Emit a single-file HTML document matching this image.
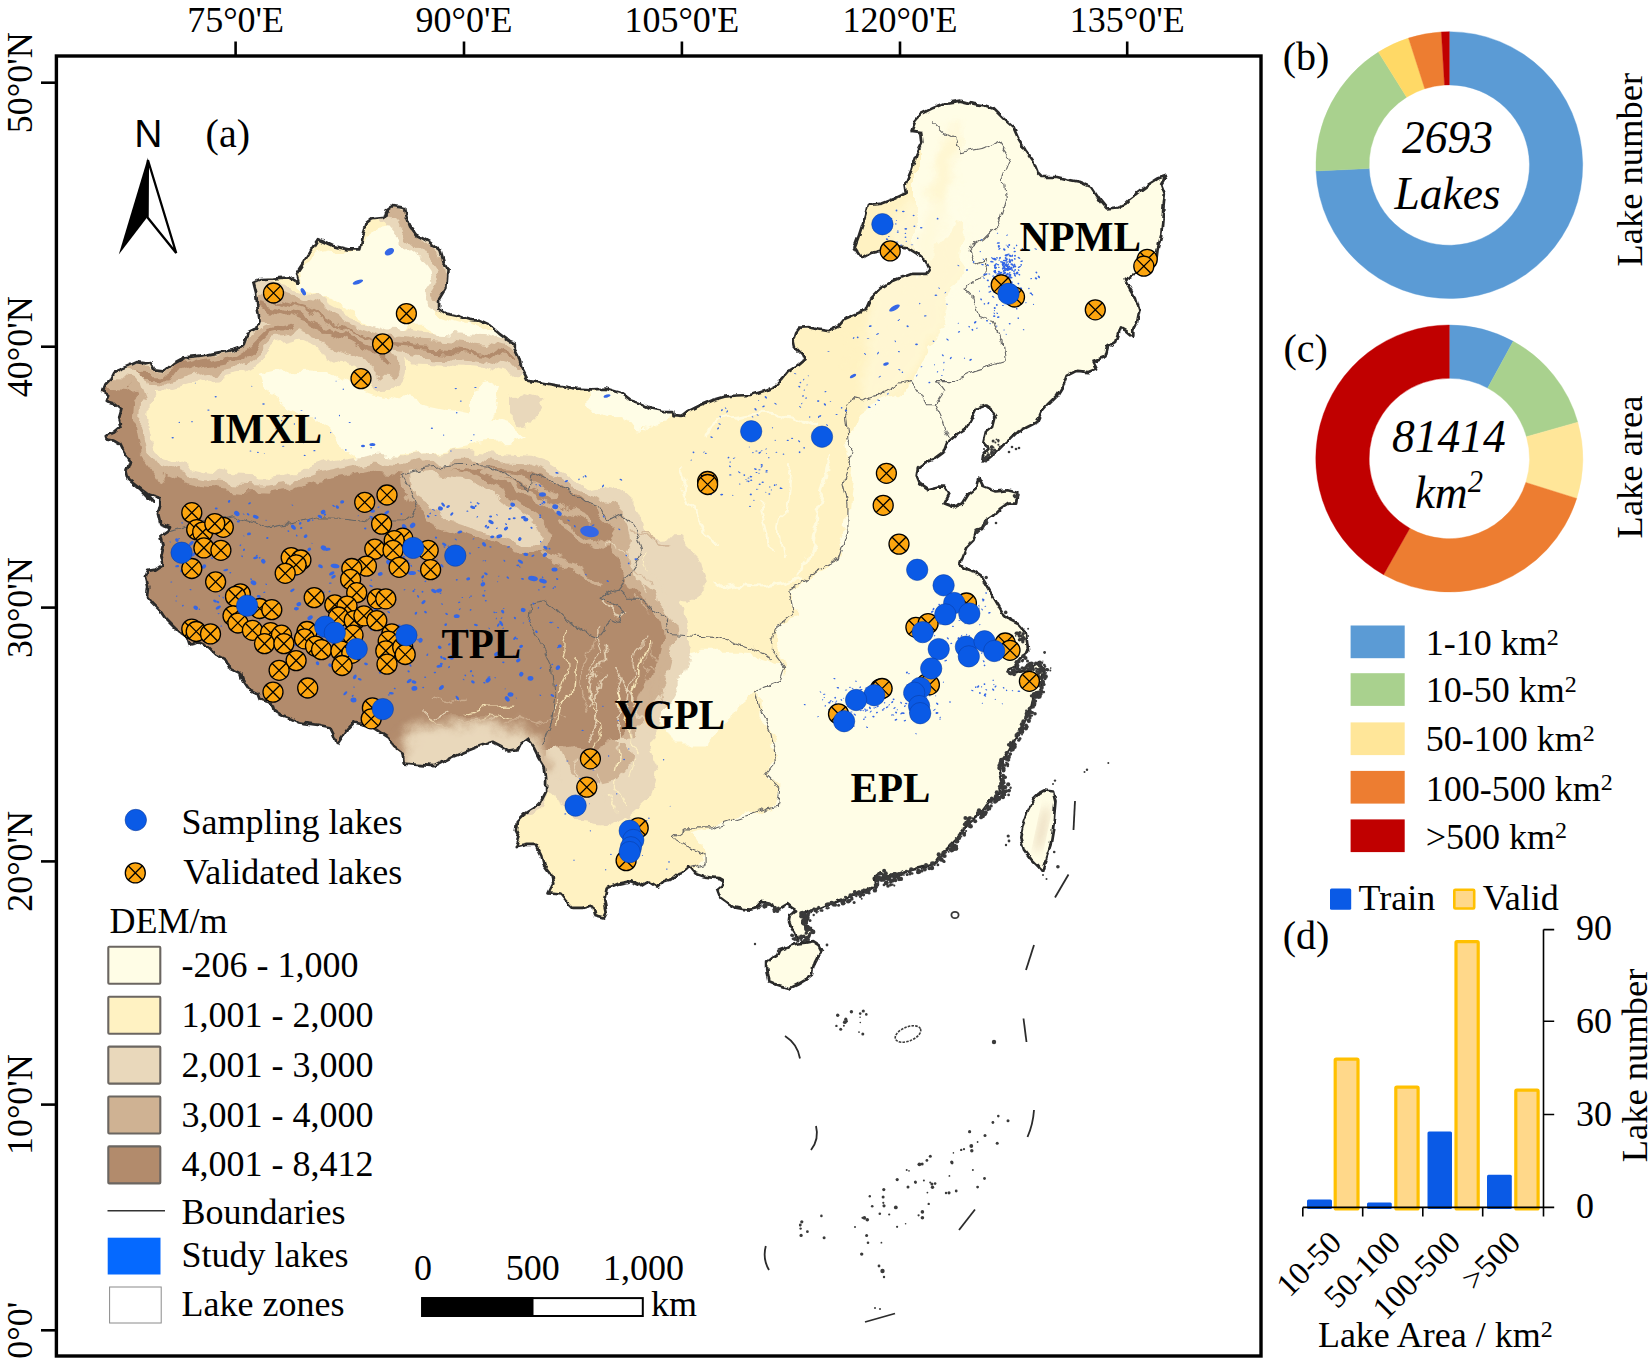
<!DOCTYPE html>
<html><head><meta charset="utf-8"><title>Lake zones of China</title>
<style>html,body{margin:0;padding:0;background:#fff}svg{display:block}</style>
</head><body>
<svg width="1650" height="1362" viewBox="0 0 1650 1362" font-family='"Liberation Serif", "Times New Roman", serif'>
<rect width="1650" height="1362" fill="#fff"/>
<defs><clipPath id="cn"><path d="M153.5,502.7 L142.1,490.6 L128.8,479.7 L126.4,471.2 L130.0,461.5 L123.9,451.8 L120.3,444.5 L114.2,440.9 L107.0,439.7 L105.8,436.1 L114.2,432.4 L121.5,426.4 L119.1,417.9 L121.5,409.4 L114.2,403.3 L105.8,400.9 L108.2,394.8 L102.1,391.2 L104.5,385.2 L110.6,379.1 L114.2,371.8 L128.8,365.8 L137.3,362.1 L145.8,363.3 L150.6,362.1 L154.2,369.4 L165.2,370.6 L173.6,363.3 L184.5,357.3 L196.7,356.1 L206.4,354.8 L218.5,352.4 L233.0,350.0 L242.7,346.4 L247.6,333.0 L257.3,328.2 L259.7,320.9 L257.3,306.4 L256.1,291.8 L253.6,282.1 L259.7,279.2 L274.2,278.5 L288.8,277.3 L298.5,283.3 L296.1,273.6 L303.3,262.7 L310.6,250.6 L317.9,239.2 L332.4,245.8 L347.0,249.4 L360.3,249.4 L362.7,236.1 L366.4,223.9 L372.4,219.1 L384.5,217.9 L387.0,209.4 L391.8,205.8 L405.2,208.2 L406.4,216.7 L410.0,226.4 L416.1,234.8 L429.4,242.1 L440.3,250.6 L443.9,262.7 L447.6,270.0 L446.4,287.0 L439.1,299.1 L439.1,308.8 L446.4,313.6 L458.5,316.1 L470.0,319.8 L479.7,320.8 L489.4,325.2 L499.1,333.6 L508.8,340.9 L514.8,343.3 L514.8,349.4 L518.5,356.7 L522.1,368.8 L528.2,380.9 L542.7,382.8 L559.7,385.8 L576.7,388.7 L591.2,389.4 L605.8,388.7 L620.3,393.0 L630.0,400.3 L639.7,403.2 L651.8,408.8 L663.9,411.2 L673.2,411.2 L673.6,416.1 L681.4,416.8 L688.2,411.2 L700.3,405.2 L712.4,400.3 L724.5,396.7 L736.7,395.5 L751.2,395.0 L765.8,390.6 L775.5,385.8 L782.7,378.5 L787.6,372.4 L797.3,366.4 L804.5,360.3 L802.1,354.2 L794.8,347.0 L793.6,340.9 L796.1,332.4 L799.7,327.6 L809.4,327.1 L819.1,329.5 L828.8,331.2 L838.5,326.4 L844.5,319.1 L855.5,314.2 L865.2,310.1 L870.3,298.2 L880.0,288.5 L889.7,282.4 L901.8,277.6 L911.5,273.9 L926.1,273.9 L929.7,269.1 L926.1,261.8 L916.4,253.3 L906.7,247.3 L897.0,246.1 L880.0,250.9 L870.3,253.3 L861.8,258.2 L854.5,247.3 L858.2,237.6 L863.0,223.0 L867.9,204.8 L882.4,203.6 L894.5,198.8 L906.7,192.7 L905.5,184.2 L911.5,169.7 L916.4,155.2 L922.4,143.0 L921.2,132.1 L911.5,130.9 L915.2,121.2 L921.2,113.9 L933.3,107.9 L945.5,103.0 L960.0,100.6 L974.5,104.2 L984.2,105.5 L993.9,109.1 L1003.6,118.8 L1013.3,127.3 L1018.2,138.2 L1025.5,150.3 L1032.7,160.0 L1037.6,172.1 L1042.4,177.0 L1057.0,177.0 L1066.7,179.4 L1078.8,181.8 L1090.9,186.7 L1095.8,193.9 L1100.6,201.2 L1106.7,208.5 L1117.6,207.3 L1124.8,203.6 L1129.7,198.8 L1139.4,191.5 L1149.1,184.2 L1158.8,178.2 L1166.1,175.8 L1161.2,184.2 L1164.8,193.9 L1163.6,206.1 L1162.4,220.6 L1161.2,235.2 L1157.6,249.7 L1156.4,259.4 L1149.1,271.5 L1134.5,273.9 L1124.8,278.8 L1129.7,288.5 L1135.8,298.2 L1139.4,310.3 L1137.0,322.4 L1133.3,329.7 L1133.3,337.0 L1126.1,330.9 L1120.0,327.3 L1117.6,334.5 L1115.2,341.8 L1107.9,346.7 L1105.5,356.4 L1093.3,361.2 L1097.0,368.5 L1088.5,372.1 L1076.4,370.9 L1066.7,375.8 L1063.0,385.5 L1057.0,395.2 L1047.3,404.8 L1041.5,411.5 L1036.7,422.4 L1027.0,427.3 L1017.3,432.1 L1010.0,439.4 L1002.7,445.5 L995.5,452.7 L988.2,458.8 L982.1,462.4 L983.3,453.9 L988.2,447.9 L983.3,443.0 L985.8,432.1 L993.0,426.1 L995.5,416.4 L990.6,409.1 L985.8,405.5 L976.1,409.1 L971.2,418.8 L966.4,428.5 L956.7,434.5 L947.0,443.0 L943.3,452.7 L934.8,458.8 L925.2,462.4 L917.9,467.3 L916.7,475.8 L920.3,484.2 L927.6,489.1 L937.3,486.7 L944.5,486.7 L949.4,493.9 L944.5,503.6 L954.2,507.3 L962.7,503.6 L968.8,493.9 L976.1,487.9 L978.5,477.0 L983.3,486.7 L995.5,491.5 L1007.6,490.3 L1017.3,492.7 L1016.1,503.6 L1007.6,503.6 L1000.3,508.5 L993.0,515.8 L985.8,520.6 L982.1,527.9 L976.1,530.3 L973.6,540.0 L966.4,547.3 L962.7,557.0 L960.3,564.2 L966.4,569.1 L973.6,571.5 L980.9,576.4 L988.2,588.5 L995.5,600.6 L1002.7,612.7 L1010.0,620.0 L1019.7,624.8 L1025.8,632.1 L1027.0,641.8 L1028.2,651.5 L1019.7,658.8 L1014.8,667.3 L1007.6,669.7 L1010.0,674.5 L1019.7,670.9 L1029.4,668.5 L1036.7,663.6 L1043.9,668.5 L1041.5,678.2 L1041.5,687.9 L1036.7,697.6 L1033.6,697.0 L1031.2,706.7 L1026.4,716.4 L1021.5,728.5 L1014.2,740.6 L1009.4,750.3 L1002.1,760.0 L999.7,769.7 L1002.1,781.8 L999.7,791.5 L990.0,801.2 L982.7,810.9 L970.6,820.6 L963.3,830.3 L956.1,840.0 L948.8,847.3 L941.5,854.5 L936.7,861.8 L924.5,866.7 L914.8,869.1 L905.2,871.5 L895.5,876.4 L892.1,874.2 L885.8,877.3 L879.5,873.4 L874.8,877.3 L876.4,885.2 L868.5,889.2 L860.6,891.5 L851.2,894.7 L844.9,898.6 L837.0,901.8 L829.1,904.1 L821.2,907.3 L813.3,910.4 L811.0,912.8 L805.5,910.4 L800.7,913.6 L803.9,916.7 L802.3,923.0 L807.0,926.2 L811.0,930.9 L810.2,935.6 L803.9,937.2 L796.8,939.6 L795.2,934.1 L791.3,927.8 L788.9,921.5 L789.7,915.2 L796.0,910.4 L791.3,907.3 L787.3,904.1 L783.4,906.5 L777.1,910.4 L773.9,907.3 L767.6,903.3 L762.1,901.8 L756.6,908.1 L750.3,909.6 L742.4,908.8 L734.5,907.3 L726.7,902.5 L720.4,897.8 L717.2,889.2 L721.9,885.2 L722.7,880.5 L718.8,878.1 L710.9,877.3 L703.0,876.5 L694.4,873.4 L688.8,866.6 L682.5,871.8 L677.8,873.4 L671.5,878.9 L663.6,881.3 L657.3,887.6 L651.0,883.6 L646.3,881.3 L640.0,885.2 L630.9,881.2 L618.8,883.6 L606.7,888.5 L604.2,900.6 L606.7,912.7 L604.2,917.6 L594.5,915.2 L592.1,905.5 L582.4,907.9 L572.7,907.9 L565.5,900.6 L560.6,894.5 L548.5,893.3 L553.3,883.6 L550.9,873.9 L543.6,864.2 L541.2,854.5 L536.4,844.8 L526.7,844.8 L515.8,847.3 L519.4,837.6 L515.8,830.3 L517.0,821.8 L524.2,814.5 L533.9,808.5 L541.2,801.2 L546.1,791.5 L546.1,779.4 L544.8,767.3 L538.8,757.6 L533.9,747.9 L526.7,738.2 L520.6,743.0 L517.0,750.3 L509.7,751.5 L500.0,745.5 L492.7,741.8 L477.9,746.7 L465.8,751.5 L453.6,756.4 L441.5,762.4 L434.2,766.1 L417.3,764.8 L403.9,763.6 L402.7,753.9 L393.0,746.7 L388.2,737.0 L380.9,732.1 L373.6,727.3 L363.9,724.8 L354.2,722.4 L347.0,729.7 L342.1,737.0 L337.3,744.2 L333.6,734.5 L330.0,727.3 L317.9,724.8 L308.2,723.6 L298.5,722.4 L288.8,717.6 L281.5,715.2 L274.2,710.3 L271.8,703.0 L259.7,699.4 L257.3,693.3 L247.6,688.5 L242.7,681.2 L240.3,673.9 L230.6,669.1 L225.8,659.4 L216.1,654.5 L208.8,647.3 L199.1,642.4 L189.4,644.8 L187.0,637.6 L179.7,632.7 L172.4,625.5 L165.2,618.2 L160.3,610.9 L153.0,603.6 L147.0,596.4 L148.2,586.7 L145.8,577.0 L148.2,570.9 L155.5,569.7 L162.7,564.8 L160.3,555.2 L162.7,545.5 L160.3,537.0 L167.6,532.1 L170.0,527.3 L160.3,523.6 L157.9,513.9 L160.3,504.2 L160.3,498.2 L148.2,494.5 L138.5,487.3 Z M766.1,962.4 L770.8,958.5 L777.1,954.5 L778.7,950.6 L785.0,948.2 L791.3,945.1 L797.6,943.5 L805.5,942.7 L813.3,941.2 L819.6,945.1 L822.8,951.4 L818.1,956.1 L814.9,962.4 L812.5,970.3 L811.8,975.0 L805.5,979.8 L797.6,984.5 L789.7,988.4 L781.8,986.1 L773.9,983.7 L768.4,981.3 L766.9,973.5 L766.1,967.2 Z M1044.5,790.3 L1053.0,791.5 L1055.5,801.2 L1054.2,815.8 L1053.0,830.3 L1050.6,844.8 L1045.8,859.4 L1042.1,871.5 L1038.5,866.7 L1031.2,859.4 L1023.9,849.7 L1020.3,837.6 L1022.7,825.5 L1027.6,810.9 L1033.6,798.8 L1039.7,792.7 Z"/></clipPath></defs>
<g clip-path="url(#cn)">
<rect x="56" y="56" width="1206" height="1300" fill="#FFFDE6"/>
<defs><filter id="b1" x="-5%" y="-5%" width="110%" height="110%"><feGaussianBlur stdDeviation="1.2"/></filter><filter id="b3" x="-10%" y="-10%" width="120%" height="120%"><feGaussianBlur stdDeviation="4"/></filter><filter id="rough" filterUnits="userSpaceOnUse" x="50" y="50" width="1220" height="1000"><feTurbulence type="fractalNoise" baseFrequency="0.035" numOctaves="4" seed="7" result="n"/><feDisplacementMap in="SourceGraphic" in2="n" scale="22" xChannelSelector="R" yChannelSelector="G"/></filter></defs>
<g filter="url(#rough)">
<path d="M916.0,274.0 L944.8,240.0 L952.0,226.0 L962.0,228.0 L960.0,262.0 L949.7,298.2 L937.6,332.1 L925.5,361.2 L913.3,380.6 L896.4,390.3 L877.0,400.0 L858.0,414.5 L850.0,438.8 L853.0,467.9 L849.0,501.8 L846.0,535.8 L838.2,560.0 L813.9,574.5 L794.5,586.7 L792.0,603.6 L799.0,620.0 L778.0,626.7 L777.0,648.5 L788.5,672.7 L760.0,690.0 L759.4,716.4 L771.5,735.8 L776.4,760.0 L764.2,774.5 L778.8,789.1 L774.0,806.1 L740.0,818.2 L710.9,827.9 L690.0,835.0 L700.0,852.0 L704.0,864.2 L689.1,872.0 L680.0,900.0 L600.0,960.0 L60.0,960.0 L60.0,100.0 L916.0,100.0 Z" fill="#FFF2C2" />
<path d="M955.0,138.0 L945.5,160.0 L940.6,189.0 L935.8,215.8 L928.5,249.7 L926.0,274.0 L916.4,298.2 L904.2,322.4 L880.0,341.8 L850.0,350.0" fill="none" stroke="#FFF2C2" stroke-width="20" stroke-linecap="round" stroke-linejoin="round" opacity="0.55" filter="url(#b3)"/>
<path d="M866,418 L885,395 L915,372 L940,330 L965,270 L975,200 L900,200 L870,290 L862,370 Z" fill="#FFFDE6" opacity="0.45" filter="url(#b3)"/>
<path d="M259.7,376.7 L283.9,371.8 L308.2,370.6 L332.4,371.8 L347.0,381.5 L368.8,391.2 L393.0,396.1 L417.3,403.3 L441.5,408.2 L465.8,413.5 L490.0,418.3 L510.0,424.0 L522.0,434.0 L505.0,441.0 L490.0,442.1 L453.6,449.4 L417.3,454.2 L380.9,456.7 L356.7,459.1 L344.5,451.8 L332.4,432.4 L308.2,413.0 L283.9,403.3 L264.5,393.6 Z" fill="#FFFDE6" />
<path d="M300.9,270.0 L315.5,253.0 L332.4,249.4 L360.3,253.0 L366.4,238.5 L380.9,228.8 L402.7,226.4 L414.8,240.9 L434.2,255.5 L441.5,272.4 L439.1,294.2 L429.4,306.4 L439.1,316.1 L453.6,320.9 L477.9,328.2 L500.0,337.0 L520.0,350.0 L540.0,372.0 L520.0,372.0 L490.0,347.2 L465.8,345.2 L441.5,335.5 L424.5,325.8 L405.2,325.8 L393.0,335.5 L376.1,325.8 L356.7,311.2 L332.4,299.1 L315.5,296.7 L303.3,287.0 Z" fill="#FFFDE6" />
<path d="M586.0,392.0 L610.0,388.0 L640.0,394.0 L664.0,405.0 L672.0,420.0 L650.0,428.0 L620.0,424.0 L598.0,414.0 L584.0,404.0 Z" fill="#FFFDE6" />
<path d="M470.0,388.0 L486.0,384.0 L501.0,392.0 L498.0,410.0 L482.0,420.0 L470.0,414.0 Z" fill="#FFFDE6" />
<path d="M660.6,667.9 L680.0,658.0 L703.0,652.7 L748.5,652.7 L781.8,664.8 L787.9,683.0 L763.6,689.0 L754.5,698.0 L733.0,707.0 L721.0,728.5 L703.0,743.6 L672.7,743.6 L657.6,713.3 L651.5,689.0 Z" fill="#FFFDE6" />
<path d="M510.0,398.0 L525.0,393.0 L542.0,398.0 L545.0,410.0 L536.0,420.0 L520.0,424.0 L510.0,415.0 Z" fill="#E9D8BB" />
<path d="M259.7,303.9 L283.9,311.2 L308.2,319.7 L332.4,330.6 L351.8,340.3 L368.8,350.0 L380.9,359.7 L388.2,367.0" fill="none" stroke="#E9D8BB" stroke-width="42" stroke-linecap="round" stroke-linejoin="round" />
<path d="M279.1,299.1 L308.2,308.8 L344.5,328.2 L380.9,341.5 L417.3,346.4 L453.6,348.8 L482.7,351.2 L514.2,359.7" fill="none" stroke="#E9D8BB" stroke-width="30" stroke-linecap="round" stroke-linejoin="round" />
<path d="M123.9,374.2 L162.7,375.5 L199.1,364.5 L235.5,357.3 L254.8,345.2 L269.4,330.6 L288.8,325.8" fill="none" stroke="#E9D8BB" stroke-width="32" stroke-linecap="round" stroke-linejoin="round" />
<path d="M116.7,374.2 L111.8,391.2 L119.1,403.3 L126.4,417.9 L119.1,434.8 L128.8,447.0 L133.6,463.9 L136.1,480.9" fill="none" stroke="#E9D8BB" stroke-width="50" stroke-linecap="round" stroke-linejoin="round" />
<path d="M393.0,211.8 L410.0,231.2 L429.4,247.0 L440.3,262.7 L442.7,282.1 L436.7,299.1" fill="none" stroke="#E9D8BB" stroke-width="24" stroke-linecap="round" stroke-linejoin="round" />
<path d="M259.7,303.9 L283.9,311.2 L308.2,319.7 L332.4,330.6 L351.8,340.3 L368.8,350.0 L380.9,359.7 L388.2,367.0" fill="none" stroke="#CFB293" stroke-width="24" stroke-linecap="round" stroke-linejoin="round" />
<path d="M279.1,299.1 L308.2,308.8 L344.5,328.2 L380.9,341.5 L417.3,346.4 L453.6,348.8 L482.7,351.2 L514.2,359.7" fill="none" stroke="#CFB293" stroke-width="16" stroke-linecap="round" stroke-linejoin="round" />
<path d="M123.9,374.2 L162.7,375.5 L199.1,364.5 L235.5,357.3 L254.8,345.2 L269.4,330.6 L288.8,325.8" fill="none" stroke="#CFB293" stroke-width="18" stroke-linecap="round" stroke-linejoin="round" />
<path d="M116.7,374.2 L111.8,391.2 L119.1,403.3 L126.4,417.9 L119.1,434.8 L128.8,447.0 L133.6,463.9 L136.1,480.9" fill="none" stroke="#CFB293" stroke-width="34" stroke-linecap="round" stroke-linejoin="round" />
<path d="M393.0,211.8 L410.0,231.2 L429.4,247.0 L440.3,262.7 L442.7,282.1 L436.7,299.1" fill="none" stroke="#CFB293" stroke-width="10" stroke-linecap="round" stroke-linejoin="round" />
<path d="M259.7,303.9 L283.9,311.2 L308.2,319.7 L332.4,330.6 L351.8,340.3 L368.8,350.0 L380.9,359.7 L388.2,367.0" fill="none" stroke="#B28B6C" stroke-width="5" stroke-linecap="round" stroke-linejoin="round" />
<path d="M279.1,299.1 L308.2,308.8 L344.5,328.2 L380.9,341.5 L417.3,346.4 L453.6,348.8 L482.7,351.2 L514.2,359.7" fill="none" stroke="#B28B6C" stroke-width="3" stroke-linecap="round" stroke-linejoin="round" />
<path d="M123.9,374.2 L162.7,375.5 L199.1,364.5 L235.5,357.3 L254.8,345.2 L269.4,330.6 L288.8,325.8" fill="none" stroke="#B28B6C" stroke-width="6" stroke-linecap="round" stroke-linejoin="round" />
<path d="M116.7,374.2 L111.8,391.2 L119.1,403.3 L126.4,417.9 L119.1,434.8 L128.8,447.0 L133.6,463.9 L136.1,480.9" fill="none" stroke="#B28B6C" stroke-width="16" stroke-linecap="round" stroke-linejoin="round" />
<path d="M603.9,517.5 L615.0,528.0 L618.0,540.0 L613.0,552.0 L618.0,568.0 L624.0,586.0 L639.0,598.0 L655.0,610.0 L662.0,622.0 L664.0,640.0 L658.0,665.0 L648.0,683.0 L640.0,695.0 L634.0,713.0 L626.0,730.0 L612.0,742.0 L596.0,748.0 L578.0,746.0 L560.0,750.0" fill="none" stroke="#E9D8BB" stroke-width="54" stroke-linecap="round" stroke-linejoin="round" />
<path d="M100.0,384.0 L131.0,386.0 L137.0,402.2 L135.0,428.0 L140.0,453.9 L152.8,472.4 L175.0,481.7 L200.9,488.0 L230.5,490.9 L263.8,492.8 L293.3,489.0 L319.2,479.8 L348.8,474.3 L378.4,468.7 L404.2,471.7 L422.7,468.7 L459.7,465.8 L496.7,468.7 L526.2,470.6 L544.7,476.9 L566.9,490.9 L585.4,505.7 L603.9,517.5 L615.0,528.0 L618.0,540.0 L613.0,552.0 L618.0,568.0 L624.0,586.0 L639.0,598.0 L655.0,610.0 L662.0,622.0 L664.0,640.0 L658.0,665.0 L648.0,683.0 L640.0,695.0 L634.0,713.0 L626.0,730.0 L612.0,742.0 L596.0,748.0 L578.0,746.0 L560.0,750.0 L538.0,750.0 L530.0,800.0 L80.0,815.0 L80.0,384.0 Z" fill="#E9D8BB" stroke="#E9D8BB" stroke-width="30" stroke-linejoin="round"/>
<path d="M603.9,517.5 L615.0,528.0 L618.0,540.0 L613.0,552.0 L618.0,568.0 L624.0,586.0 L639.0,598.0 L655.0,610.0 L662.0,622.0 L664.0,640.0 L658.0,665.0 L648.0,683.0 L640.0,695.0 L634.0,713.0 L626.0,730.0 L612.0,742.0 L596.0,748.0 L578.0,746.0 L560.0,750.0" fill="none" stroke="#CFB293" stroke-width="26" stroke-linecap="round" stroke-linejoin="round" />
<path d="M100.0,384.0 L131.0,386.0 L137.0,402.2 L135.0,428.0 L140.0,453.9 L152.8,472.4 L175.0,481.7 L200.9,488.0 L230.5,490.9 L263.8,492.8 L293.3,489.0 L319.2,479.8 L348.8,474.3 L378.4,468.7 L404.2,471.7 L422.7,468.7 L459.7,465.8 L496.7,468.7 L526.2,470.6 L544.7,476.9 L566.9,490.9 L585.4,505.7 L603.9,517.5 L615.0,528.0 L618.0,540.0 L613.0,552.0 L618.0,568.0 L624.0,586.0 L639.0,598.0 L655.0,610.0 L662.0,622.0 L664.0,640.0 L658.0,665.0 L648.0,683.0 L640.0,695.0 L634.0,713.0 L626.0,730.0 L612.0,742.0 L596.0,748.0 L578.0,746.0 L560.0,750.0 L538.0,750.0 L530.0,800.0 L80.0,815.0 L80.0,384.0 Z" fill="#CFB293" stroke="#CFB293" stroke-width="14" stroke-linejoin="round"/>
<path d="M550.0,740.0 L644.0,736.0 L656.0,770.0 L650.0,797.0 L630.0,815.0 L605.0,825.0 L583.0,822.0 L563.0,805.0 L540.0,790.0 Z" fill="#E9D8BB" />
<path d="M562.0,745.0 L624.0,743.0 L632.0,762.0 L618.0,780.0 L592.0,786.0 L570.0,772.0 Z" fill="#CFB293" />
<path d="M100.0,384.0 L131.0,386.0 L137.0,402.2 L135.0,428.0 L140.0,453.9 L152.8,472.4 L175.0,481.7 L200.9,488.0 L230.5,490.9 L263.8,492.8 L293.3,489.0 L319.2,479.8 L348.8,474.3 L378.4,468.7 L404.2,471.7 L422.7,468.7 L459.7,465.8 L496.7,468.7 L526.2,470.6 L544.7,476.9 L566.9,490.9 L585.4,505.7 L603.9,517.5 L615.0,528.0 L618.0,540.0 L613.0,552.0 L618.0,568.0 L624.0,586.0 L639.0,598.0 L655.0,610.0 L662.0,622.0 L664.0,640.0 L658.0,665.0 L648.0,683.0 L640.0,695.0 L634.0,713.0 L626.0,730.0 L612.0,742.0 L596.0,748.0 L578.0,746.0 L560.0,750.0 L538.0,750.0 L530.0,800.0 L80.0,815.0 L80.0,384.0 Z" fill="#B28B6C" />
<path d="M409.0,474.0 L430.0,471.0 L460.6,476.0 L480.0,486.0 L500.0,500.0 L520.0,514.0 L536.0,525.5 L543.0,538.0 L538.0,545.0 L521.0,543.6 L505.0,538.0 L491.0,531.5 L468.0,524.0 L445.5,516.4 L428.0,509.0 L415.0,501.0 L410.0,488.0 Z" fill="#CFB293" stroke="#CFB293" stroke-width="16" stroke-linejoin="round"/>
<path d="M409.0,474.0 L430.0,471.0 L460.6,476.0 L480.0,486.0 L500.0,500.0 L520.0,514.0 L536.0,525.5 L543.0,538.0 L538.0,545.0 L521.0,543.6 L505.0,538.0 L491.0,531.5 L468.0,524.0 L445.5,516.4 L428.0,509.0 L415.0,501.0 L410.0,488.0 Z" fill="#E9D8BB" />
<path d="M500.0,478.0 L530.0,492.0 L560.0,508.0 L590.0,522.0" fill="none" stroke="#CFB293" stroke-width="5" stroke-linecap="round" stroke-linejoin="round" />
<path d="M480.0,470.0 L520.0,478.0 L555.0,494.0" fill="none" stroke="#CFB293" stroke-width="5" stroke-linecap="round" stroke-linejoin="round" />
<path d="M560.0,520.0 L590.0,540.0 L610.0,548.0" fill="none" stroke="#CFB293" stroke-width="5" stroke-linecap="round" stroke-linejoin="round" />
<path d="M540.0,556.0 L570.0,566.0 L600.0,585.0" fill="none" stroke="#CFB293" stroke-width="5" stroke-linecap="round" stroke-linejoin="round" />
<path d="M640.0,540.0 L680.0,538.0 L700.0,558.0 L706.0,590.0 L690.0,602.0 L668.0,598.0 L655.0,600.0 Z" fill="#E9D8BB" />
<path d="M830.0,455.0 L826.0,480.0 L820.0,505.0 L812.0,530.0 L806.0,555.0 L800.0,572.0" fill="none" stroke="#FFFDE6" stroke-width="3" stroke-linecap="round" stroke-linejoin="round" opacity="0.8"/>
<path d="M806.0,575.0 L785.0,580.0 L760.0,584.0 L735.0,582.0 L715.0,586.0" fill="none" stroke="#FFFDE6" stroke-width="3" stroke-linecap="round" stroke-linejoin="round" opacity="0.8"/>
<path d="M790.0,470.0 L786.0,500.0 L782.0,530.0 L786.0,560.0" fill="none" stroke="#FFFDE6" stroke-width="2" stroke-linecap="round" stroke-linejoin="round" opacity="0.8"/>
<path d="M700.0,430.0 L725.0,418.0 L755.0,412.0 L790.0,416.0 L815.0,425.0" fill="none" stroke="#FFFDE6" stroke-width="3" stroke-linecap="round" stroke-linejoin="round" opacity="0.8"/>
<path d="M760.0,500.0 L764.0,525.0 L770.0,550.0" fill="none" stroke="#FFFDE6" stroke-width="2" stroke-linecap="round" stroke-linejoin="round" opacity="0.8"/>
<path d="M680.0,470.0 L690.0,495.0 L700.0,520.0 L715.0,545.0" fill="none" stroke="#FFFDE6" stroke-width="2" stroke-linecap="round" stroke-linejoin="round" opacity="0.8"/>
<path d="M619.2,676.8 L615.8,684.0 L616.6,692.0 L618.9,699.7 L620.4,707.5 L620.2,715.5 L616.2,722.4 L615.9,730.4 L617.9,738.2 L618.6,746.2 L615.6,753.6" fill="none" stroke="#E9D8BB" stroke-width="1.840348120522668" stroke-linecap="round" stroke-linejoin="round" opacity="0.85"/>
<path d="M598.8,626.4 L596.3,634.0 L597.8,641.9 L600.2,649.5 L595.9,656.3 L596.7,664.2 L597.4,672.2 L592.4,678.4" fill="none" stroke="#E9D8BB" stroke-width="1.1387674183989032" stroke-linecap="round" stroke-linejoin="round" opacity="0.85"/>
<path d="M642.9,636.0 L637.7,642.1 L638.2,650.1 L633.0,656.2 L632.0,664.1 L633.8,671.9 L632.6,679.8 L627.6,686.0 L627.5,694.0" fill="none" stroke="#E9D8BB" stroke-width="1.1816686685456037" stroke-linecap="round" stroke-linejoin="round" opacity="0.85"/>
<path d="M591.5,683.6 L592.3,691.5 L593.5,699.4 L591.6,707.2 L593.7,714.9 L593.6,722.9 L595.8,730.6 L597.4,738.4 L593.6,745.5" fill="none" stroke="#FFF2C2" stroke-width="1.0660224505510771" stroke-linecap="round" stroke-linejoin="round" opacity="0.85"/>
<path d="M650.2,642.2 L649.9,650.2 L654.1,657.0 L657.9,664.0 L660.8,671.5 L657.7,678.9 L660.4,686.4 L658.8,694.2 L655.8,701.6" fill="none" stroke="#CFB293" stroke-width="1.3661844758418606" stroke-linecap="round" stroke-linejoin="round" opacity="0.85"/>
<path d="M649.5,641.0 L648.1,648.9 L646.4,656.7 L644.1,664.4 L648.2,671.2 L645.3,678.7 L649.1,685.8 L650.9,693.5 L650.7,701.5" fill="none" stroke="#CFB293" stroke-width="1.1080528690648328" stroke-linecap="round" stroke-linejoin="round" opacity="0.85"/>
<path d="M647.2,640.6 L647.0,648.6 L643.0,655.5 L640.3,663.1 L636.8,670.3 L636.6,678.3 L635.0,686.1 L631.5,693.3 L633.1,701.2" fill="none" stroke="#FFF2C2" stroke-width="1.6859658309578895" stroke-linecap="round" stroke-linejoin="round" opacity="0.85"/>
<path d="M617.1,693.1 L619.3,700.8 L621.9,708.4 L627.0,714.5 L625.6,722.4 L630.8,728.5 L632.8,736.2 L632.1,744.2 L636.7,750.7 L636.8,758.7" fill="none" stroke="#FFF2C2" stroke-width="1.8262955117986266" stroke-linecap="round" stroke-linejoin="round" opacity="0.85"/>
<path d="M650.2,666.7 L652.5,674.4 L652.0,682.4 L653.6,690.2 L649.3,696.9 L647.1,704.6" fill="none" stroke="#CFB293" stroke-width="1.3729976277742186" stroke-linecap="round" stroke-linejoin="round" opacity="0.85"/>
<path d="M576.1,657.0 L575.8,665.0 L574.7,672.9 L575.6,680.9 L574.6,688.8 L569.3,694.8 L564.1,700.9 L561.3,708.3 L559.4,716.1 L558.7,724.1" fill="none" stroke="#FFF2C2" stroke-width="1.4790424501451516" stroke-linecap="round" stroke-linejoin="round" opacity="0.85"/>
<path d="M568.5,634.5 L565.0,641.7 L565.0,649.7 L563.1,657.5 L565.7,665.1 L566.0,673.1 L564.4,680.9 L561.9,688.5 L558.2,695.6 L558.9,703.6 L554.2,710.1" fill="none" stroke="#FFF2C2" stroke-width="1.0631087927968992" stroke-linecap="round" stroke-linejoin="round" opacity="0.85"/>
<path d="M628.0,696.1 L626.5,704.0 L628.5,711.7 L631.0,719.3 L633.3,727.0 L634.0,735.0 L633.3,742.9" fill="none" stroke="#E9D8BB" stroke-width="1.474303845666281" stroke-linecap="round" stroke-linejoin="round" opacity="0.85"/>
<path d="M593.9,634.6 L591.8,642.4 L589.5,650.0 L588.7,658.0 L585.6,665.4 L582.6,672.8 L583.1,680.8 L583.6,688.8 L586.8,696.1 L584.8,703.9 L582.0,711.4" fill="none" stroke="#CFB293" stroke-width="1.350045151429871" stroke-linecap="round" stroke-linejoin="round" opacity="0.85"/>
<path d="M605.3,672.2 L601.1,679.0 L600.1,687.0 L595.9,693.8 L596.6,701.8 L595.2,709.6 L591.5,716.7 L592.4,724.7 L587.8,731.2 L589.3,739.1" fill="none" stroke="#E9D8BB" stroke-width="1.6167804507938892" stroke-linecap="round" stroke-linejoin="round" opacity="0.85"/>
<path d="M615.7,666.2 L620.4,672.7 L621.9,680.5 L625.4,687.7 L630.0,694.3 L634.0,701.2 L636.8,708.7 L640.5,715.8 L644.2,722.9 L648.9,729.3" fill="none" stroke="#E9D8BB" stroke-width="1.6308651620035048" stroke-linecap="round" stroke-linejoin="round" opacity="0.85"/>
<path d="M604.2,644.2 L604.7,652.2 L605.5,660.2 L601.6,667.2 L598.3,674.5 L595.0,681.8 L593.1,689.5 L592.2,697.5 L588.2,704.4" fill="none" stroke="#E9D8BB" stroke-width="1.718015230470764" stroke-linecap="round" stroke-linejoin="round" opacity="0.85"/>
<path d="M466.0,712.1 L473.8,710.4 L481.1,707.1 L489.0,706.0 L497.0,706.0 L505.0,705.9 L513.0,705.2" fill="none" stroke="#FFF2C2" stroke-width="1.2345534560579092" stroke-linecap="round" stroke-linejoin="round" opacity="0.85"/>
<path d="M418.8,715.3 L426.8,714.7 L433.9,718.3 L441.2,715.0 L448.8,712.4" fill="none" stroke="#E9D8BB" stroke-width="1.486887914483733" stroke-linecap="round" stroke-linejoin="round" opacity="0.85"/>
<path d="M467.9,724.6 L475.7,722.8 L482.9,719.4 L490.4,716.5 L498.0,718.9 L505.7,716.7 L513.3,719.0" fill="none" stroke="#FFF2C2" stroke-width="1.300678643162256" stroke-linecap="round" stroke-linejoin="round" opacity="0.85"/>
<path d="M509.6,723.8 L516.4,719.6 L523.9,722.4 L531.6,720.3 L539.1,723.0 L546.4,719.6 L553.2,715.4 L561.1,716.0 L568.6,719.0" fill="none" stroke="#CFB293" stroke-width="1.200854625794242" stroke-linecap="round" stroke-linejoin="round" opacity="0.85"/>
<path d="M429.5,701.6 L436.9,698.5 L444.6,700.7 L452.5,701.6 L459.8,698.3 L467.2,695.2" fill="none" stroke="#CFB293" stroke-width="1.4260517213363373" stroke-linecap="round" stroke-linejoin="round" opacity="0.85"/>
<path d="M418.6,739.6 L426.2,742.0 L433.8,744.5 L441.3,747.2 L448.2,743.0 L455.5,739.7 L463.2,737.5" fill="none" stroke="#CFB293" stroke-width="1.41457524683998" stroke-linecap="round" stroke-linejoin="round" opacity="0.85"/>
<path d="M485.0,724.5 L492.0,728.3 L499.6,731.0 L507.4,729.3" fill="none" stroke="#CFB293" stroke-width="1.288831506262788" stroke-linecap="round" stroke-linejoin="round" opacity="0.85"/>
<path d="M430.3,718.2 L437.9,720.6 L444.1,725.7 L451.2,729.4 L458.0,733.7 L463.4,739.6 L470.3,743.6 L476.2,749.0 L482.2,754.2" fill="none" stroke="#FFF2C2" stroke-width="1.1529434443388016" stroke-linecap="round" stroke-linejoin="round" opacity="0.85"/>
<path d="M457.1,727.3 L464.9,725.8 L471.6,730.1 L478.9,733.5 L486.8,734.9 L494.8,735.1 L501.7,739.1 L508.1,743.9 L516.0,743.0" fill="none" stroke="#CFB293" stroke-width="1.664018832195978" stroke-linecap="round" stroke-linejoin="round" opacity="0.85"/>
<path d="M457.4,722.0 L465.3,723.0 L472.8,720.1 L480.4,722.6 L488.3,721.4 L495.9,718.9" fill="none" stroke="#E9D8BB" stroke-width="1.3404486035457386" stroke-linecap="round" stroke-linejoin="round" opacity="0.85"/>
<path d="M603.1,596.0 L608.5,601.9 L616.3,603.4 L620.8,610.1 L628.3,612.9" fill="none" stroke="#E9D8BB" stroke-width="1.9983344778810317" stroke-linecap="round" stroke-linejoin="round" opacity="0.85"/>
<path d="M632.3,596.7 L637.2,603.0 L643.6,607.8 L649.9,612.7" fill="none" stroke="#CFB293" stroke-width="1.7057739192098218" stroke-linecap="round" stroke-linejoin="round" opacity="0.85"/>
<path d="M640.1,534.7 L647.7,537.2 L654.3,541.7 L662.2,543.0 L669.4,546.3" fill="none" stroke="#CFB293" stroke-width="1.7455260684490497" stroke-linecap="round" stroke-linejoin="round" opacity="0.85"/>
<path d="M631.2,530.7 L636.4,536.8 L644.0,539.2 L652.0,539.1 L658.5,543.8 L666.5,544.4" fill="none" stroke="#CFB293" stroke-width="1.4895797621712303" stroke-linecap="round" stroke-linejoin="round" opacity="0.85"/>
<path d="M631.6,565.4 L634.5,572.9 L639.5,579.1 L640.9,587.0 L644.1,594.3" fill="none" stroke="#E9D8BB" stroke-width="1.263246722990171" stroke-linecap="round" stroke-linejoin="round" opacity="0.85"/>
<path d="M606.7,546.4 L614.5,547.9 L621.5,551.9 L627.4,557.3 L635.2,559.0 L639.3,565.8" fill="none" stroke="#E9D8BB" stroke-width="1.131182810018184" stroke-linecap="round" stroke-linejoin="round" opacity="0.85"/>
<path d="M625.3,561.7 L631.3,567.0 L637.3,572.4 L644.0,576.7 L648.1,583.6" fill="none" stroke="#CFB293" stroke-width="1.1075738504265515" stroke-linecap="round" stroke-linejoin="round" opacity="0.85"/>
<path d="M647.2,560.1 L650.1,567.5 L651.7,575.4 L657.9,580.4 L661.1,587.8 L666.1,594.0" fill="none" stroke="#E9D8BB" stroke-width="1.972697465951802" stroke-linecap="round" stroke-linejoin="round" opacity="0.85"/>
<path d="M578.8,763.3 L576.4,771.0 L576.9,779.0 L577.9,786.9" fill="none" stroke="#E9D8BB" stroke-width="1.302511108734759" stroke-linecap="round" stroke-linejoin="round" opacity="0.85"/>
<path d="M610.5,797.9 L612.1,805.7 L615.9,812.7" fill="none" stroke="#FFF2C2" stroke-width="1.5921280216010556" stroke-linecap="round" stroke-linejoin="round" opacity="0.85"/>
<path d="M562.7,756.1 L566.3,763.3 L569.4,770.6 L573.4,777.6 L572.5,785.5" fill="none" stroke="#E9D8BB" stroke-width="1.5289978907129012" stroke-linecap="round" stroke-linejoin="round" opacity="0.85"/>
<path d="M633.7,762.8 L631.1,770.3 L628.4,777.9" fill="none" stroke="#FFF2C2" stroke-width="1.056952365485633" stroke-linecap="round" stroke-linejoin="round" opacity="0.85"/>
<path d="M597.6,775.4 L603.0,781.3 L602.0,789.2 L605.3,796.5 L605.4,804.5" fill="none" stroke="#E9D8BB" stroke-width="1.5375888123224246" stroke-linecap="round" stroke-linejoin="round" opacity="0.85"/>
<path d="M585.3,748.2 L586.6,756.1 L590.7,763.0 L592.0,770.9" fill="none" stroke="#FFF2C2" stroke-width="1.0943306314072017" stroke-linecap="round" stroke-linejoin="round" opacity="0.85"/>
<path d="M618.3,754.0 L619.1,761.9 L617.5,769.8" fill="none" stroke="#FFF2C2" stroke-width="1.5251753990543087" stroke-linecap="round" stroke-linejoin="round" opacity="0.85"/>
<path d="M616.5,782.4 L616.6,790.4 L620.8,797.2 L624.5,804.3" fill="none" stroke="#FFF2C2" stroke-width="1.5858781635380987" stroke-linecap="round" stroke-linejoin="round" opacity="0.85"/>
<path d="M404.0,742.0 L420.0,728.0 L445.0,724.0 L470.0,722.0 L495.0,724.0 L520.0,730.0 L540.0,742.0 L545.0,770.0 L400.0,780.0 Z" fill="#E9D8BB" stroke="#CFB293" stroke-width="8" stroke-linejoin="round" filter="url(#b3)"/>
</g>
<ellipse cx="1042" cy="829" rx="5" ry="24" transform="rotate(12 1042 829)" fill="#E9D8BB" opacity="0.8" filter="url(#b3)"/>
</g>
<g filter="url(#rz)" fill="none" stroke="#666" stroke-width="1.1" stroke-linejoin="round">
<defs><filter id="rz" filterUnits="userSpaceOnUse" x="50" y="50" width="1220" height="1000"><feTurbulence type="fractalNoise" baseFrequency="0.08" numOctaves="3" seed="3" result="n"/><feDisplacementMap in="SourceGraphic" in2="n" scale="9" xChannelSelector="R" yChannelSelector="G"/></filter></defs>
<path d="M169.5,531.6 L200.9,522.3 L234.2,516.8 L252.7,522.3 L267.4,527.9 L297.0,522.3 L319.2,516.8 L348.8,517.5 L371.0,520.5 L404.2,519.7 L417.2,509.4 L411.6,490.9 L402.4,474.3 L422.7,468.7 L459.7,464.3 L489.3,465.0 L507.7,476.1 L529.9,490.9 L531.8,472.4 L552.1,481.7 L570.6,490.9 L585.4,502.0 L600.2,507.5 L607.6,520.5 L621.2,513.3 L633.3,525.5 L642.4,549.7 L633.3,567.9 L618.2,589.1 L609.0,592.0 L600.0,598.2 L612.1,604.2 L624.2,613.3 L618.2,622.4 L612.1,619.4 L606.1,625.5 L597.0,637.6 L581.8,631.5 L569.7,622.4 L557.6,610.3 L545.5,601.2 L530.3,604.2 L527.3,622.4 L533.3,631.5 L542.4,646.7 L551.5,667.9 L554.5,698.2 L551.5,722.4 L545.5,737.6 L542.4,743.6"/>
<path d="M618.2,589.1 L627.3,598.2 L639.4,598.2 L651.5,610.3 L666.7,619.4 L669.7,634.5 L690.9,636.0 L718.2,637.6 L733.3,643.6 L751.5,649.7 L772.7,658.8"/>
<path d="M898.8,383.0 L886.7,390.3 L877.0,395.2 L862.4,400.0 L852.7,397.6 L845.5,414.5 L847.9,438.8 L852.7,448.5 L847.9,467.9 L843.0,482.4 L847.9,501.8 L847.9,530.9 L843.0,545.5 L838.2,560.0 L818.8,569.7 L799.4,584.2 L789.7,589.1 L794.5,613.3 L775.2,627.9 L770.3,647.3 L784.8,666.7 L780.0,681.2 L755.8,690.9 L760.6,710.3 L770.3,729.7 L776.4,760.0 L764.2,774.5 L778.8,789.1 L776.4,806.1 L740.0,818.2 L710.9,827.9 L684.2,827.9 L672.1,837.6 L684.2,844.8 L706.1,854.5 L706.1,864.2 L689.1,869.1"/>
<path d="M898.8,383.0 L910.9,380.6 L920.6,395.2 L925.5,404.8 L935.2,404.8 L940.0,414.5 L944.8,429.1 L949.7,438.8"/>
<path d="M930.3,118.8 L944.8,133.3 L954.5,138.2 L959.4,152.7 L983.6,147.9 L998.2,140.6 L1010.3,157.6 L1003.0,177.0 L1005.5,201.2 L998.2,225.5 L983.6,240.0 L969.1,249.7 L973.9,264.2 L986.1,259.4 L983.6,273.9 L964.2,288.5 L973.9,298.2 L978.8,317.6 L993.3,322.4 L1003.0,341.8 L1005.5,361.2 L973.9,370.9 L954.5,380.6 L937.6,380.6 L944.8,390.3 L935.2,404.8"/>
</g>
<defs><filter id="ro" filterUnits="userSpaceOnUse" x="50" y="50" width="1220" height="1000"><feTurbulence type="fractalNoise" baseFrequency="0.12" numOctaves="2" seed="5" result="n"/><feDisplacementMap in="SourceGraphic" in2="n" scale="5" xChannelSelector="R" yChannelSelector="G"/></filter></defs>
<path d="M153.5,502.7 L142.1,490.6 L128.8,479.7 L126.4,471.2 L130.0,461.5 L123.9,451.8 L120.3,444.5 L114.2,440.9 L107.0,439.7 L105.8,436.1 L114.2,432.4 L121.5,426.4 L119.1,417.9 L121.5,409.4 L114.2,403.3 L105.8,400.9 L108.2,394.8 L102.1,391.2 L104.5,385.2 L110.6,379.1 L114.2,371.8 L128.8,365.8 L137.3,362.1 L145.8,363.3 L150.6,362.1 L154.2,369.4 L165.2,370.6 L173.6,363.3 L184.5,357.3 L196.7,356.1 L206.4,354.8 L218.5,352.4 L233.0,350.0 L242.7,346.4 L247.6,333.0 L257.3,328.2 L259.7,320.9 L257.3,306.4 L256.1,291.8 L253.6,282.1 L259.7,279.2 L274.2,278.5 L288.8,277.3 L298.5,283.3 L296.1,273.6 L303.3,262.7 L310.6,250.6 L317.9,239.2 L332.4,245.8 L347.0,249.4 L360.3,249.4 L362.7,236.1 L366.4,223.9 L372.4,219.1 L384.5,217.9 L387.0,209.4 L391.8,205.8 L405.2,208.2 L406.4,216.7 L410.0,226.4 L416.1,234.8 L429.4,242.1 L440.3,250.6 L443.9,262.7 L447.6,270.0 L446.4,287.0 L439.1,299.1 L439.1,308.8 L446.4,313.6 L458.5,316.1 L470.0,319.8 L479.7,320.8 L489.4,325.2 L499.1,333.6 L508.8,340.9 L514.8,343.3 L514.8,349.4 L518.5,356.7 L522.1,368.8 L528.2,380.9 L542.7,382.8 L559.7,385.8 L576.7,388.7 L591.2,389.4 L605.8,388.7 L620.3,393.0 L630.0,400.3 L639.7,403.2 L651.8,408.8 L663.9,411.2 L673.2,411.2 L673.6,416.1 L681.4,416.8 L688.2,411.2 L700.3,405.2 L712.4,400.3 L724.5,396.7 L736.7,395.5 L751.2,395.0 L765.8,390.6 L775.5,385.8 L782.7,378.5 L787.6,372.4 L797.3,366.4 L804.5,360.3 L802.1,354.2 L794.8,347.0 L793.6,340.9 L796.1,332.4 L799.7,327.6 L809.4,327.1 L819.1,329.5 L828.8,331.2 L838.5,326.4 L844.5,319.1 L855.5,314.2 L865.2,310.1 L870.3,298.2 L880.0,288.5 L889.7,282.4 L901.8,277.6 L911.5,273.9 L926.1,273.9 L929.7,269.1 L926.1,261.8 L916.4,253.3 L906.7,247.3 L897.0,246.1 L880.0,250.9 L870.3,253.3 L861.8,258.2 L854.5,247.3 L858.2,237.6 L863.0,223.0 L867.9,204.8 L882.4,203.6 L894.5,198.8 L906.7,192.7 L905.5,184.2 L911.5,169.7 L916.4,155.2 L922.4,143.0 L921.2,132.1 L911.5,130.9 L915.2,121.2 L921.2,113.9 L933.3,107.9 L945.5,103.0 L960.0,100.6 L974.5,104.2 L984.2,105.5 L993.9,109.1 L1003.6,118.8 L1013.3,127.3 L1018.2,138.2 L1025.5,150.3 L1032.7,160.0 L1037.6,172.1 L1042.4,177.0 L1057.0,177.0 L1066.7,179.4 L1078.8,181.8 L1090.9,186.7 L1095.8,193.9 L1100.6,201.2 L1106.7,208.5 L1117.6,207.3 L1124.8,203.6 L1129.7,198.8 L1139.4,191.5 L1149.1,184.2 L1158.8,178.2 L1166.1,175.8 L1161.2,184.2 L1164.8,193.9 L1163.6,206.1 L1162.4,220.6 L1161.2,235.2 L1157.6,249.7 L1156.4,259.4 L1149.1,271.5 L1134.5,273.9 L1124.8,278.8 L1129.7,288.5 L1135.8,298.2 L1139.4,310.3 L1137.0,322.4 L1133.3,329.7 L1133.3,337.0 L1126.1,330.9 L1120.0,327.3 L1117.6,334.5 L1115.2,341.8 L1107.9,346.7 L1105.5,356.4 L1093.3,361.2 L1097.0,368.5 L1088.5,372.1 L1076.4,370.9 L1066.7,375.8 L1063.0,385.5 L1057.0,395.2 L1047.3,404.8 L1041.5,411.5 L1036.7,422.4 L1027.0,427.3 L1017.3,432.1 L1010.0,439.4 L1002.7,445.5 L995.5,452.7 L988.2,458.8 L982.1,462.4 L983.3,453.9 L988.2,447.9 L983.3,443.0 L985.8,432.1 L993.0,426.1 L995.5,416.4 L990.6,409.1 L985.8,405.5 L976.1,409.1 L971.2,418.8 L966.4,428.5 L956.7,434.5 L947.0,443.0 L943.3,452.7 L934.8,458.8 L925.2,462.4 L917.9,467.3 L916.7,475.8 L920.3,484.2 L927.6,489.1 L937.3,486.7 L944.5,486.7 L949.4,493.9 L944.5,503.6 L954.2,507.3 L962.7,503.6 L968.8,493.9 L976.1,487.9 L978.5,477.0 L983.3,486.7 L995.5,491.5 L1007.6,490.3 L1017.3,492.7 L1016.1,503.6 L1007.6,503.6 L1000.3,508.5 L993.0,515.8 L985.8,520.6 L982.1,527.9 L976.1,530.3 L973.6,540.0 L966.4,547.3 L962.7,557.0 L960.3,564.2 L966.4,569.1 L973.6,571.5 L980.9,576.4 L988.2,588.5 L995.5,600.6 L1002.7,612.7 L1010.0,620.0 L1019.7,624.8 L1025.8,632.1 L1027.0,641.8 L1028.2,651.5 L1019.7,658.8 L1014.8,667.3 L1007.6,669.7 L1010.0,674.5 L1019.7,670.9 L1029.4,668.5 L1036.7,663.6 L1043.9,668.5 L1041.5,678.2 L1041.5,687.9 L1036.7,697.6 L1033.6,697.0 L1031.2,706.7 L1026.4,716.4 L1021.5,728.5 L1014.2,740.6 L1009.4,750.3 L1002.1,760.0 L999.7,769.7 L1002.1,781.8 L999.7,791.5 L990.0,801.2 L982.7,810.9 L970.6,820.6 L963.3,830.3 L956.1,840.0 L948.8,847.3 L941.5,854.5 L936.7,861.8 L924.5,866.7 L914.8,869.1 L905.2,871.5 L895.5,876.4 L892.1,874.2 L885.8,877.3 L879.5,873.4 L874.8,877.3 L876.4,885.2 L868.5,889.2 L860.6,891.5 L851.2,894.7 L844.9,898.6 L837.0,901.8 L829.1,904.1 L821.2,907.3 L813.3,910.4 L811.0,912.8 L805.5,910.4 L800.7,913.6 L803.9,916.7 L802.3,923.0 L807.0,926.2 L811.0,930.9 L810.2,935.6 L803.9,937.2 L796.8,939.6 L795.2,934.1 L791.3,927.8 L788.9,921.5 L789.7,915.2 L796.0,910.4 L791.3,907.3 L787.3,904.1 L783.4,906.5 L777.1,910.4 L773.9,907.3 L767.6,903.3 L762.1,901.8 L756.6,908.1 L750.3,909.6 L742.4,908.8 L734.5,907.3 L726.7,902.5 L720.4,897.8 L717.2,889.2 L721.9,885.2 L722.7,880.5 L718.8,878.1 L710.9,877.3 L703.0,876.5 L694.4,873.4 L688.8,866.6 L682.5,871.8 L677.8,873.4 L671.5,878.9 L663.6,881.3 L657.3,887.6 L651.0,883.6 L646.3,881.3 L640.0,885.2 L630.9,881.2 L618.8,883.6 L606.7,888.5 L604.2,900.6 L606.7,912.7 L604.2,917.6 L594.5,915.2 L592.1,905.5 L582.4,907.9 L572.7,907.9 L565.5,900.6 L560.6,894.5 L548.5,893.3 L553.3,883.6 L550.9,873.9 L543.6,864.2 L541.2,854.5 L536.4,844.8 L526.7,844.8 L515.8,847.3 L519.4,837.6 L515.8,830.3 L517.0,821.8 L524.2,814.5 L533.9,808.5 L541.2,801.2 L546.1,791.5 L546.1,779.4 L544.8,767.3 L538.8,757.6 L533.9,747.9 L526.7,738.2 L520.6,743.0 L517.0,750.3 L509.7,751.5 L500.0,745.5 L492.7,741.8 L477.9,746.7 L465.8,751.5 L453.6,756.4 L441.5,762.4 L434.2,766.1 L417.3,764.8 L403.9,763.6 L402.7,753.9 L393.0,746.7 L388.2,737.0 L380.9,732.1 L373.6,727.3 L363.9,724.8 L354.2,722.4 L347.0,729.7 L342.1,737.0 L337.3,744.2 L333.6,734.5 L330.0,727.3 L317.9,724.8 L308.2,723.6 L298.5,722.4 L288.8,717.6 L281.5,715.2 L274.2,710.3 L271.8,703.0 L259.7,699.4 L257.3,693.3 L247.6,688.5 L242.7,681.2 L240.3,673.9 L230.6,669.1 L225.8,659.4 L216.1,654.5 L208.8,647.3 L199.1,642.4 L189.4,644.8 L187.0,637.6 L179.7,632.7 L172.4,625.5 L165.2,618.2 L160.3,610.9 L153.0,603.6 L147.0,596.4 L148.2,586.7 L145.8,577.0 L148.2,570.9 L155.5,569.7 L162.7,564.8 L160.3,555.2 L162.7,545.5 L160.3,537.0 L167.6,532.1 L170.0,527.3 L160.3,523.6 L157.9,513.9 L160.3,504.2 L160.3,498.2 L148.2,494.5 L138.5,487.3 Z M766.1,962.4 L770.8,958.5 L777.1,954.5 L778.7,950.6 L785.0,948.2 L791.3,945.1 L797.6,943.5 L805.5,942.7 L813.3,941.2 L819.6,945.1 L822.8,951.4 L818.1,956.1 L814.9,962.4 L812.5,970.3 L811.8,975.0 L805.5,979.8 L797.6,984.5 L789.7,988.4 L781.8,986.1 L773.9,983.7 L768.4,981.3 L766.9,973.5 L766.1,967.2 Z M1044.5,790.3 L1053.0,791.5 L1055.5,801.2 L1054.2,815.8 L1053.0,830.3 L1050.6,844.8 L1045.8,859.4 L1042.1,871.5 L1038.5,866.7 L1031.2,859.4 L1023.9,849.7 L1020.3,837.6 L1022.7,825.5 L1027.6,810.9 L1033.6,798.8 L1039.7,792.7 Z" fill="none" stroke="#2b2b2b" stroke-width="2.7" stroke-linejoin="round" filter="url(#ro)"/>
<g fill="#3567E6" clip-path="url(#cn)">
<ellipse cx="589.5" cy="531.5" rx="9.5" ry="5.5" transform="rotate(10 589.5 531.5)"/>
<ellipse cx="542.4" cy="494.5" rx="3.5" ry="2.2" transform="rotate(0 542.4 494.5)"/>
<ellipse cx="491.0" cy="522.0" rx="3.0" ry="1.8" transform="rotate(30 491.0 522.0)"/>
<ellipse cx="472.7" cy="507.3" rx="2.6" ry="1.5" transform="rotate(20 472.7 507.3)"/>
<ellipse cx="506.0" cy="528.5" rx="2.5" ry="1.5" transform="rotate(-40 506.0 528.5)"/>
<ellipse cx="525.8" cy="519.4" rx="2.5" ry="2.0" transform="rotate(0 525.8 519.4)"/>
<ellipse cx="533.0" cy="578.5" rx="5.0" ry="2.5" transform="rotate(10 533.0 578.5)"/>
<ellipse cx="543.0" cy="581.0" rx="4.0" ry="2.2" transform="rotate(20 543.0 581.0)"/>
<ellipse cx="554.5" cy="569.4" rx="3.0" ry="2.0" transform="rotate(0 554.5 569.4)"/>
<ellipse cx="389.4" cy="251.8" rx="5.0" ry="3.2" transform="rotate(-30 389.4 251.8)"/>
<ellipse cx="357.9" cy="282.1" rx="5.5" ry="2.0" transform="rotate(-20 357.9 282.1)"/>
<ellipse cx="303.3" cy="291.8" rx="4.0" ry="2.0" transform="rotate(60 303.3 291.8)"/>
<ellipse cx="894.5" cy="308.0" rx="6.0" ry="2.2" transform="rotate(-30 894.5 308.0)"/>
<ellipse cx="372.4" cy="444.5" rx="3.0" ry="1.6" transform="rotate(0 372.4 444.5)"/>
<ellipse cx="363.0" cy="446.0" rx="2.0" ry="1.2" transform="rotate(0 363.0 446.0)"/>
<ellipse cx="412.0" cy="573.0" rx="4.0" ry="2.0" transform="rotate(0 412.0 573.0)"/>
<ellipse cx="335.0" cy="566.0" rx="4.5" ry="2.2" transform="rotate(10 335.0 566.0)"/>
<ellipse cx="300.0" cy="560.0" rx="3.0" ry="1.5" transform="rotate(0 300.0 560.0)"/>
<ellipse cx="853.0" cy="376.0" rx="3.5" ry="1.5" transform="rotate(-30 853.0 376.0)"/>
<ellipse cx="886.0" cy="364.0" rx="3.0" ry="1.5" transform="rotate(-20 886.0 364.0)"/>
<ellipse cx="607.0" cy="396.0" rx="3.5" ry="1.5" transform="rotate(-15 607.0 396.0)"/>
<ellipse cx="346.4" cy="612.0" rx="3.0" ry="1.9" transform="rotate(43 346.4 612.0)"/>
<ellipse cx="355.5" cy="622.8" rx="1.0" ry="0.5" transform="rotate(-24 355.5 622.8)"/>
<ellipse cx="440.4" cy="508.4" rx="2.5" ry="2.1" transform="rotate(18 440.4 508.4)"/>
<ellipse cx="410.1" cy="531.5" rx="0.8" ry="0.6" transform="rotate(-52 410.1 531.5)"/>
<ellipse cx="403.9" cy="655.6" rx="2.0" ry="1.3" transform="rotate(41 403.9 655.6)"/>
<ellipse cx="372.5" cy="628.1" rx="3.0" ry="1.4" transform="rotate(-50 372.5 628.1)"/>
<ellipse cx="425.4" cy="581.4" rx="1.0" ry="0.7" transform="rotate(-22 425.4 581.4)"/>
<ellipse cx="259.6" cy="557.8" rx="1.0" ry="0.7" transform="rotate(-47 259.6 557.8)"/>
<ellipse cx="212.0" cy="558.2" rx="1.0" ry="0.8" transform="rotate(42 212.0 558.2)"/>
<ellipse cx="170.2" cy="541.9" rx="0.8" ry="0.5" transform="rotate(58 170.2 541.9)"/>
<ellipse cx="325.0" cy="514.6" rx="1.2" ry="0.9" transform="rotate(-28 325.0 514.6)"/>
<ellipse cx="204.0" cy="566.5" rx="2.5" ry="1.9" transform="rotate(-46 204.0 566.5)"/>
<ellipse cx="266.1" cy="520.2" rx="0.8" ry="0.5" transform="rotate(-2 266.1 520.2)"/>
<ellipse cx="436.0" cy="537.7" rx="1.2" ry="1.0" transform="rotate(32 436.0 537.7)"/>
<ellipse cx="333.5" cy="576.8" rx="2.5" ry="1.5" transform="rotate(-34 333.5 576.8)"/>
<ellipse cx="483.3" cy="560.8" rx="0.8" ry="0.4" transform="rotate(-13 483.3 560.8)"/>
<ellipse cx="503.2" cy="628.4" rx="1.0" ry="0.5" transform="rotate(-42 503.2 628.4)"/>
<ellipse cx="342.2" cy="501.9" rx="2.0" ry="1.6" transform="rotate(-14 342.2 501.9)"/>
<ellipse cx="199.0" cy="541.7" rx="1.2" ry="0.5" transform="rotate(-16 199.0 541.7)"/>
<ellipse cx="412.6" cy="525.4" rx="3.0" ry="2.3" transform="rotate(-44 412.6 525.4)"/>
<ellipse cx="320.6" cy="625.4" rx="1.5" ry="1.2" transform="rotate(38 320.6 625.4)"/>
<ellipse cx="267.3" cy="538.0" rx="1.2" ry="0.9" transform="rotate(-13 267.3 538.0)"/>
<ellipse cx="358.2" cy="515.7" rx="0.8" ry="0.4" transform="rotate(-55 358.2 515.7)"/>
<ellipse cx="545.4" cy="547.7" rx="2.5" ry="1.4" transform="rotate(39 545.4 547.7)"/>
<ellipse cx="402.6" cy="558.7" rx="1.0" ry="0.8" transform="rotate(57 402.6 558.7)"/>
<ellipse cx="219.3" cy="595.9" rx="1.0" ry="0.6" transform="rotate(50 219.3 595.9)"/>
<ellipse cx="249.6" cy="503.3" rx="1.5" ry="0.9" transform="rotate(-30 249.6 503.3)"/>
<ellipse cx="188.2" cy="556.4" rx="1.0" ry="0.5" transform="rotate(-43 188.2 556.4)"/>
<ellipse cx="345.6" cy="566.2" rx="1.0" ry="0.7" transform="rotate(51 345.6 566.2)"/>
<ellipse cx="355.2" cy="571.5" rx="1.5" ry="1.3" transform="rotate(-57 355.2 571.5)"/>
<ellipse cx="418.1" cy="596.4" rx="1.5" ry="0.9" transform="rotate(60 418.1 596.4)"/>
<ellipse cx="199.4" cy="609.2" rx="0.8" ry="0.6" transform="rotate(28 199.4 609.2)"/>
<ellipse cx="444.4" cy="658.7" rx="2.0" ry="1.2" transform="rotate(22 444.4 658.7)"/>
<ellipse cx="521.3" cy="674.2" rx="2.5" ry="2.1" transform="rotate(-56 521.3 674.2)"/>
<ellipse cx="365.0" cy="502.9" rx="2.5" ry="1.5" transform="rotate(-59 365.0 502.9)"/>
<ellipse cx="215.1" cy="551.4" rx="2.5" ry="1.9" transform="rotate(-13 215.1 551.4)"/>
<ellipse cx="456.7" cy="616.2" rx="3.0" ry="1.9" transform="rotate(5 456.7 616.2)"/>
<ellipse cx="372.3" cy="602.9" rx="1.5" ry="1.0" transform="rotate(-2 372.3 602.9)"/>
<ellipse cx="259.8" cy="639.7" rx="3.0" ry="2.3" transform="rotate(19 259.8 639.7)"/>
<ellipse cx="359.7" cy="679.3" rx="2.0" ry="1.1" transform="rotate(21 359.7 679.3)"/>
<ellipse cx="249.0" cy="533.9" rx="2.0" ry="1.4" transform="rotate(-7 249.0 533.9)"/>
<ellipse cx="517.8" cy="565.4" rx="1.5" ry="0.8" transform="rotate(-8 517.8 565.4)"/>
<ellipse cx="484.3" cy="682.8" rx="1.2" ry="0.7" transform="rotate(10 484.3 682.8)"/>
<ellipse cx="293.4" cy="527.2" rx="3.0" ry="1.8" transform="rotate(47 293.4 527.2)"/>
<ellipse cx="552.3" cy="664.4" rx="1.0" ry="0.6" transform="rotate(-27 552.3 664.4)"/>
<ellipse cx="253.5" cy="582.8" rx="3.0" ry="2.2" transform="rotate(26 253.5 582.8)"/>
<ellipse cx="498.3" cy="625.0" rx="2.0" ry="1.0" transform="rotate(-56 498.3 625.0)"/>
<ellipse cx="510.4" cy="508.3" rx="1.5" ry="1.0" transform="rotate(-23 510.4 508.3)"/>
<ellipse cx="478.7" cy="503.8" rx="1.0" ry="0.6" transform="rotate(-37 478.7 503.8)"/>
<ellipse cx="470.0" cy="553.3" rx="1.0" ry="0.8" transform="rotate(58 470.0 553.3)"/>
<ellipse cx="215.0" cy="521.8" rx="2.0" ry="1.7" transform="rotate(22 215.0 521.8)"/>
<ellipse cx="247.7" cy="595.0" rx="1.0" ry="0.7" transform="rotate(31 247.7 595.0)"/>
<ellipse cx="378.6" cy="507.2" rx="1.2" ry="0.7" transform="rotate(-19 378.6 507.2)"/>
<ellipse cx="442.0" cy="604.1" rx="1.0" ry="0.6" transform="rotate(35 442.0 604.1)"/>
<ellipse cx="523.4" cy="517.4" rx="2.5" ry="1.3" transform="rotate(-6 523.4 517.4)"/>
<ellipse cx="414.0" cy="682.0" rx="2.5" ry="1.7" transform="rotate(18 414.0 682.0)"/>
<ellipse cx="366.0" cy="663.9" rx="2.0" ry="1.3" transform="rotate(18 366.0 663.9)"/>
<ellipse cx="489.2" cy="628.3" rx="1.0" ry="0.5" transform="rotate(48 489.2 628.3)"/>
<ellipse cx="552.4" cy="695.5" rx="2.0" ry="1.1" transform="rotate(26 552.4 695.5)"/>
<ellipse cx="176.1" cy="600.9" rx="0.8" ry="0.5" transform="rotate(6 176.1 600.9)"/>
<ellipse cx="469.6" cy="597.5" rx="0.8" ry="0.4" transform="rotate(44 469.6 597.5)"/>
<ellipse cx="337.3" cy="507.0" rx="2.0" ry="1.4" transform="rotate(50 337.3 507.0)"/>
<ellipse cx="353.5" cy="700.0" rx="3.0" ry="2.5" transform="rotate(-1 353.5 700.0)"/>
<ellipse cx="540.2" cy="517.2" rx="1.2" ry="0.8" transform="rotate(7 540.2 517.2)"/>
<ellipse cx="494.2" cy="612.3" rx="1.0" ry="0.7" transform="rotate(41 494.2 612.3)"/>
<ellipse cx="388.4" cy="562.3" rx="2.5" ry="2.1" transform="rotate(44 388.4 562.3)"/>
<ellipse cx="407.7" cy="560.9" rx="1.0" ry="0.8" transform="rotate(3 407.7 560.9)"/>
<ellipse cx="393.5" cy="540.2" rx="1.0" ry="0.7" transform="rotate(13 393.5 540.2)"/>
<ellipse cx="371.2" cy="580.1" rx="1.0" ry="0.6" transform="rotate(23 371.2 580.1)"/>
<ellipse cx="195.7" cy="607.7" rx="2.5" ry="2.0" transform="rotate(36 195.7 607.7)"/>
<ellipse cx="327.6" cy="549.3" rx="3.0" ry="1.5" transform="rotate(-8 327.6 549.3)"/>
<ellipse cx="488.1" cy="680.1" rx="3.0" ry="2.0" transform="rotate(-47 488.1 680.1)"/>
<ellipse cx="333.6" cy="505.9" rx="1.5" ry="0.8" transform="rotate(34 333.6 505.9)"/>
<ellipse cx="178.9" cy="538.8" rx="1.2" ry="0.5" transform="rotate(-26 178.9 538.8)"/>
<ellipse cx="452.2" cy="548.9" rx="3.0" ry="1.5" transform="rotate(28 452.2 548.9)"/>
<ellipse cx="217.9" cy="602.1" rx="1.5" ry="1.1" transform="rotate(24 217.9 602.1)"/>
<ellipse cx="512.7" cy="504.7" rx="2.5" ry="2.0" transform="rotate(14 512.7 504.7)"/>
<ellipse cx="379.9" cy="672.8" rx="1.2" ry="0.8" transform="rotate(42 379.9 672.8)"/>
<ellipse cx="408.6" cy="671.4" rx="1.2" ry="1.0" transform="rotate(15 408.6 671.4)"/>
<ellipse cx="305.6" cy="536.2" rx="2.0" ry="1.6" transform="rotate(-37 305.6 536.2)"/>
<ellipse cx="473.5" cy="538.9" rx="1.0" ry="0.5" transform="rotate(-31 473.5 538.9)"/>
<ellipse cx="453.4" cy="551.9" rx="1.0" ry="0.6" transform="rotate(53 453.4 551.9)"/>
<ellipse cx="381.9" cy="641.0" rx="1.2" ry="0.7" transform="rotate(22 381.9 641.0)"/>
<ellipse cx="176.9" cy="540.2" rx="2.0" ry="1.6" transform="rotate(56 176.9 540.2)"/>
<ellipse cx="215.0" cy="601.1" rx="2.0" ry="1.3" transform="rotate(22 215.0 601.1)"/>
<ellipse cx="243.7" cy="514.1" rx="1.0" ry="0.5" transform="rotate(31 243.7 514.1)"/>
<ellipse cx="409.2" cy="681.0" rx="3.0" ry="1.5" transform="rotate(-38 409.2 681.0)"/>
<ellipse cx="556.2" cy="685.4" rx="1.0" ry="0.7" transform="rotate(-44 556.2 685.4)"/>
<ellipse cx="435.6" cy="515.5" rx="1.0" ry="0.6" transform="rotate(-4 435.6 515.5)"/>
<ellipse cx="371.0" cy="586.0" rx="2.0" ry="0.9" transform="rotate(24 371.0 586.0)"/>
<ellipse cx="499.3" cy="536.3" rx="3.0" ry="1.8" transform="rotate(-16 499.3 536.3)"/>
<ellipse cx="529.5" cy="621.0" rx="1.0" ry="0.7" transform="rotate(-58 529.5 621.0)"/>
<ellipse cx="518.3" cy="660.3" rx="2.5" ry="1.7" transform="rotate(-37 518.3 660.3)"/>
<ellipse cx="398.0" cy="568.2" rx="1.5" ry="0.8" transform="rotate(-46 398.0 568.2)"/>
<ellipse cx="459.8" cy="532.0" rx="2.5" ry="1.3" transform="rotate(-20 459.8 532.0)"/>
<ellipse cx="380.2" cy="574.0" rx="2.5" ry="1.9" transform="rotate(-11 380.2 574.0)"/>
<ellipse cx="451.8" cy="514.1" rx="2.0" ry="1.1" transform="rotate(-48 451.8 514.1)"/>
<ellipse cx="516.3" cy="698.1" rx="0.8" ry="0.4" transform="rotate(53 516.3 698.1)"/>
<ellipse cx="429.8" cy="567.6" rx="2.5" ry="1.7" transform="rotate(4 429.8 567.6)"/>
<ellipse cx="420.5" cy="640.3" rx="2.5" ry="2.1" transform="rotate(-57 420.5 640.3)"/>
<ellipse cx="410.0" cy="647.8" rx="1.5" ry="0.9" transform="rotate(1 410.0 647.8)"/>
<ellipse cx="466.9" cy="629.6" rx="0.8" ry="0.4" transform="rotate(-30 466.9 629.6)"/>
<ellipse cx="523.2" cy="610.0" rx="2.5" ry="2.1" transform="rotate(8 523.2 610.0)"/>
<ellipse cx="558.1" cy="627.6" rx="1.0" ry="0.7" transform="rotate(20 558.1 627.6)"/>
<ellipse cx="542.6" cy="577.3" rx="1.0" ry="0.6" transform="rotate(56 542.6 577.3)"/>
<ellipse cx="503.7" cy="608.4" rx="0.8" ry="0.5" transform="rotate(-1 503.7 608.4)"/>
<ellipse cx="280.9" cy="579.7" rx="1.5" ry="0.9" transform="rotate(-26 280.9 579.7)"/>
<ellipse cx="425.5" cy="612.1" rx="1.5" ry="1.1" transform="rotate(30 425.5 612.1)"/>
<ellipse cx="398.5" cy="626.6" rx="2.5" ry="1.9" transform="rotate(-13 398.5 626.6)"/>
<ellipse cx="520.0" cy="649.7" rx="0.8" ry="0.5" transform="rotate(27 520.0 649.7)"/>
<ellipse cx="294.5" cy="659.5" rx="1.2" ry="0.7" transform="rotate(-3 294.5 659.5)"/>
<ellipse cx="549.5" cy="548.7" rx="1.0" ry="0.8" transform="rotate(27 549.5 548.7)"/>
<ellipse cx="352.7" cy="695.8" rx="1.2" ry="0.8" transform="rotate(-46 352.7 695.8)"/>
<ellipse cx="413.5" cy="591.1" rx="1.2" ry="1.0" transform="rotate(-17 413.5 591.1)"/>
<ellipse cx="230.3" cy="572.7" rx="1.0" ry="0.7" transform="rotate(-5 230.3 572.7)"/>
<ellipse cx="272.2" cy="616.4" rx="2.5" ry="1.5" transform="rotate(29 272.2 616.4)"/>
<ellipse cx="487.9" cy="527.4" rx="1.5" ry="1.1" transform="rotate(-31 487.9 527.4)"/>
<ellipse cx="475.9" cy="625.0" rx="2.0" ry="1.1" transform="rotate(13 475.9 625.0)"/>
<ellipse cx="452.8" cy="639.8" rx="1.2" ry="0.8" transform="rotate(30 452.8 639.8)"/>
<ellipse cx="244.0" cy="549.8" rx="1.2" ry="1.0" transform="rotate(-55 244.0 549.8)"/>
<ellipse cx="193.7" cy="554.2" rx="2.5" ry="1.2" transform="rotate(-55 193.7 554.2)"/>
<ellipse cx="256.8" cy="555.7" rx="1.0" ry="0.8" transform="rotate(-41 256.8 555.7)"/>
<ellipse cx="358.8" cy="570.8" rx="2.0" ry="1.2" transform="rotate(29 358.8 570.8)"/>
<ellipse cx="497.0" cy="514.9" rx="1.0" ry="0.6" transform="rotate(39 497.0 514.9)"/>
<ellipse cx="496.8" cy="653.8" rx="3.0" ry="1.9" transform="rotate(-29 496.8 653.8)"/>
<ellipse cx="485.9" cy="573.8" rx="2.0" ry="1.1" transform="rotate(31 485.9 573.8)"/>
<ellipse cx="492.2" cy="536.8" rx="2.0" ry="1.4" transform="rotate(-5 492.2 536.8)"/>
<ellipse cx="296.4" cy="608.7" rx="2.5" ry="1.7" transform="rotate(-2 296.4 608.7)"/>
<ellipse cx="437.3" cy="559.8" rx="0.8" ry="0.4" transform="rotate(-34 437.3 559.8)"/>
<ellipse cx="428.2" cy="516.3" rx="1.5" ry="1.0" transform="rotate(32 428.2 516.3)"/>
<ellipse cx="255.3" cy="631.5" rx="2.0" ry="1.2" transform="rotate(-46 255.3 631.5)"/>
<ellipse cx="446.6" cy="613.9" rx="1.5" ry="0.9" transform="rotate(36 446.6 613.9)"/>
<ellipse cx="288.9" cy="563.5" rx="2.5" ry="2.1" transform="rotate(28 288.9 563.5)"/>
<ellipse cx="371.3" cy="516.9" rx="2.0" ry="0.9" transform="rotate(21 371.3 516.9)"/>
<ellipse cx="398.1" cy="659.2" rx="2.0" ry="1.5" transform="rotate(5 398.1 659.2)"/>
<ellipse cx="496.2" cy="612.6" rx="1.0" ry="0.5" transform="rotate(-5 496.2 612.6)"/>
<ellipse cx="503.3" cy="662.4" rx="1.2" ry="0.8" transform="rotate(5 503.3 662.4)"/>
<ellipse cx="391.3" cy="693.3" rx="2.5" ry="1.2" transform="rotate(6 391.3 693.3)"/>
<ellipse cx="477.3" cy="516.8" rx="1.0" ry="0.6" transform="rotate(-47 477.3 516.8)"/>
<ellipse cx="292.4" cy="505.2" rx="1.0" ry="0.5" transform="rotate(38 292.4 505.2)"/>
<ellipse cx="334.6" cy="642.4" rx="3.0" ry="2.3" transform="rotate(3 334.6 642.4)"/>
<ellipse cx="468.2" cy="578.9" rx="2.0" ry="1.5" transform="rotate(-20 468.2 578.9)"/>
<ellipse cx="223.3" cy="597.6" rx="1.0" ry="0.7" transform="rotate(50 223.3 597.6)"/>
<ellipse cx="330.1" cy="665.2" rx="2.0" ry="1.6" transform="rotate(37 330.1 665.2)"/>
<ellipse cx="495.2" cy="677.7" rx="0.8" ry="0.5" transform="rotate(25 495.2 677.7)"/>
<ellipse cx="482.9" cy="584.3" rx="2.5" ry="2.0" transform="rotate(-31 482.9 584.3)"/>
<ellipse cx="233.3" cy="627.0" rx="1.0" ry="0.6" transform="rotate(-13 233.3 627.0)"/>
<ellipse cx="376.3" cy="554.8" rx="0.8" ry="0.5" transform="rotate(28 376.3 554.8)"/>
<ellipse cx="288.4" cy="531.1" rx="1.0" ry="0.8" transform="rotate(30 288.4 531.1)"/>
<ellipse cx="176.7" cy="596.2" rx="0.8" ry="0.5" transform="rotate(-36 176.7 596.2)"/>
<ellipse cx="310.1" cy="617.7" rx="3.0" ry="2.1" transform="rotate(-33 310.1 617.7)"/>
<ellipse cx="242.1" cy="556.2" rx="1.0" ry="0.8" transform="rotate(52 242.1 556.2)"/>
<ellipse cx="414.4" cy="688.4" rx="3.0" ry="2.4" transform="rotate(-2 414.4 688.4)"/>
<ellipse cx="427.5" cy="654.3" rx="1.0" ry="0.6" transform="rotate(-33 427.5 654.3)"/>
<ellipse cx="482.6" cy="577.0" rx="1.5" ry="1.1" transform="rotate(-53 482.6 577.0)"/>
<ellipse cx="530.5" cy="678.4" rx="3.0" ry="2.4" transform="rotate(-6 530.5 678.4)"/>
<ellipse cx="266.2" cy="584.3" rx="1.0" ry="0.6" transform="rotate(33 266.2 584.3)"/>
<ellipse cx="485.9" cy="526.2" rx="1.5" ry="1.0" transform="rotate(-54 485.9 526.2)"/>
<ellipse cx="393.0" cy="535.7" rx="1.2" ry="0.9" transform="rotate(42 393.0 535.7)"/>
<ellipse cx="490.6" cy="516.5" rx="1.5" ry="1.0" transform="rotate(3 490.6 516.5)"/>
<ellipse cx="517.0" cy="638.7" rx="1.0" ry="0.8" transform="rotate(10 517.0 638.7)"/>
<ellipse cx="504.4" cy="560.7" rx="1.2" ry="0.7" transform="rotate(50 504.4 560.7)"/>
<ellipse cx="251.3" cy="608.7" rx="3.0" ry="1.5" transform="rotate(40 251.3 608.7)"/>
<ellipse cx="291.4" cy="562.1" rx="1.0" ry="0.7" transform="rotate(60 291.4 562.1)"/>
<ellipse cx="430.2" cy="513.4" rx="1.0" ry="0.7" transform="rotate(-47 430.2 513.4)"/>
<ellipse cx="323.8" cy="592.4" rx="1.0" ry="0.7" transform="rotate(-59 323.8 592.4)"/>
<ellipse cx="317.1" cy="642.0" rx="1.2" ry="0.7" transform="rotate(-46 317.1 642.0)"/>
<ellipse cx="471.0" cy="671.2" rx="1.2" ry="1.0" transform="rotate(-42 471.0 671.2)"/>
<ellipse cx="414.8" cy="687.5" rx="1.5" ry="1.2" transform="rotate(31 414.8 687.5)"/>
<ellipse cx="386.7" cy="517.4" rx="1.2" ry="0.6" transform="rotate(28 386.7 517.4)"/>
<ellipse cx="389.5" cy="644.8" rx="2.0" ry="1.3" transform="rotate(-14 389.5 644.8)"/>
<ellipse cx="221.3" cy="626.1" rx="1.0" ry="0.5" transform="rotate(-12 221.3 626.1)"/>
<ellipse cx="496.4" cy="618.5" rx="1.0" ry="0.5" transform="rotate(-56 496.4 618.5)"/>
<ellipse cx="555.1" cy="586.8" rx="1.0" ry="0.6" transform="rotate(39 555.1 586.8)"/>
<ellipse cx="531.5" cy="527.8" rx="1.2" ry="0.9" transform="rotate(39 531.5 527.8)"/>
<ellipse cx="320.5" cy="566.3" rx="2.5" ry="1.7" transform="rotate(27 320.5 566.3)"/>
<ellipse cx="409.1" cy="563.5" rx="1.2" ry="0.9" transform="rotate(13 409.1 563.5)"/>
<ellipse cx="177.2" cy="566.2" rx="2.0" ry="1.1" transform="rotate(-7 177.2 566.2)"/>
<ellipse cx="387.3" cy="541.0" rx="2.0" ry="1.5" transform="rotate(39 387.3 541.0)"/>
<ellipse cx="408.5" cy="531.7" rx="1.5" ry="1.0" transform="rotate(-18 408.5 531.7)"/>
<ellipse cx="365.2" cy="528.4" rx="1.2" ry="1.0" transform="rotate(2 365.2 528.4)"/>
<ellipse cx="449.0" cy="667.1" rx="1.2" ry="0.8" transform="rotate(-57 449.0 667.1)"/>
<ellipse cx="427.2" cy="655.3" rx="1.0" ry="0.5" transform="rotate(9 427.2 655.3)"/>
<ellipse cx="441.9" cy="565.8" rx="2.0" ry="1.1" transform="rotate(46 441.9 565.8)"/>
<ellipse cx="346.4" cy="646.0" rx="1.2" ry="1.0" transform="rotate(5 346.4 646.0)"/>
<ellipse cx="388.7" cy="612.1" rx="1.5" ry="0.8" transform="rotate(29 388.7 612.1)"/>
<ellipse cx="519.8" cy="566.9" rx="1.0" ry="0.5" transform="rotate(39 519.8 566.9)"/>
<ellipse cx="263.9" cy="614.7" rx="1.0" ry="0.5" transform="rotate(6 263.9 614.7)"/>
<ellipse cx="536.4" cy="631.7" rx="1.5" ry="1.1" transform="rotate(42 536.4 631.7)"/>
<ellipse cx="523.5" cy="623.0" rx="0.8" ry="0.4" transform="rotate(-11 523.5 623.0)"/>
<ellipse cx="182.9" cy="605.6" rx="1.0" ry="0.7" transform="rotate(-39 182.9 605.6)"/>
<ellipse cx="372.7" cy="552.7" rx="2.0" ry="0.9" transform="rotate(34 372.7 552.7)"/>
<ellipse cx="451.4" cy="657.5" rx="2.5" ry="2.1" transform="rotate(12 451.4 657.5)"/>
<ellipse cx="353.3" cy="582.3" rx="2.5" ry="1.9" transform="rotate(-2 353.3 582.3)"/>
<ellipse cx="557.9" cy="667.6" rx="2.5" ry="2.0" transform="rotate(-46 557.9 667.6)"/>
<ellipse cx="298.8" cy="604.1" rx="2.5" ry="2.0" transform="rotate(-22 298.8 604.1)"/>
<ellipse cx="521.1" cy="646.4" rx="2.0" ry="1.5" transform="rotate(-23 521.1 646.4)"/>
<ellipse cx="401.4" cy="514.0" rx="1.0" ry="0.8" transform="rotate(-31 401.4 514.0)"/>
<ellipse cx="510.5" cy="694.5" rx="3.0" ry="2.2" transform="rotate(3 510.5 694.5)"/>
<ellipse cx="263.3" cy="561.3" rx="2.5" ry="2.1" transform="rotate(46 263.3 561.3)"/>
<ellipse cx="559.7" cy="646.2" rx="2.0" ry="1.6" transform="rotate(-9 559.7 646.2)"/>
<ellipse cx="484.1" cy="544.4" rx="2.5" ry="1.7" transform="rotate(48 484.1 544.4)"/>
<ellipse cx="218.3" cy="607.5" rx="3.0" ry="1.4" transform="rotate(-31 218.3 607.5)"/>
<ellipse cx="286.7" cy="565.0" rx="1.0" ry="0.6" transform="rotate(-6 286.7 565.0)"/>
<ellipse cx="376.9" cy="528.3" rx="1.2" ry="0.6" transform="rotate(-56 376.9 528.3)"/>
<ellipse cx="520.4" cy="561.6" rx="3.0" ry="1.5" transform="rotate(33 520.4 561.6)"/>
<ellipse cx="472.8" cy="675.7" rx="1.2" ry="0.7" transform="rotate(51 472.8 675.7)"/>
<ellipse cx="519.8" cy="539.1" rx="2.0" ry="1.6" transform="rotate(-58 519.8 539.1)"/>
<ellipse cx="417.8" cy="639.6" rx="1.2" ry="0.8" transform="rotate(-32 417.8 639.6)"/>
<ellipse cx="540.3" cy="695.3" rx="1.0" ry="0.6" transform="rotate(38 540.3 695.3)"/>
<ellipse cx="544.9" cy="554.8" rx="2.5" ry="1.8" transform="rotate(-44 544.9 554.8)"/>
<ellipse cx="441.4" cy="687.6" rx="3.0" ry="1.8" transform="rotate(-40 441.4 687.6)"/>
<ellipse cx="506.0" cy="524.1" rx="1.2" ry="0.7" transform="rotate(26 506.0 524.1)"/>
<ellipse cx="365.6" cy="559.1" rx="1.5" ry="0.9" transform="rotate(19 365.6 559.1)"/>
<ellipse cx="514.9" cy="618.0" rx="1.2" ry="1.0" transform="rotate(47 514.9 618.0)"/>
<ellipse cx="240.4" cy="545.2" rx="1.0" ry="0.7" transform="rotate(-49 240.4 545.2)"/>
<ellipse cx="553.4" cy="588.1" rx="1.0" ry="0.7" transform="rotate(-55 553.4 588.1)"/>
<ellipse cx="403.9" cy="556.9" rx="1.5" ry="0.9" transform="rotate(8 403.9 556.9)"/>
<ellipse cx="243.9" cy="535.9" rx="0.8" ry="0.4" transform="rotate(48 243.9 535.9)"/>
<ellipse cx="555.2" cy="506.7" rx="3.0" ry="2.4" transform="rotate(10 555.2 506.7)"/>
<ellipse cx="472.9" cy="681.9" rx="2.0" ry="1.4" transform="rotate(34 472.9 681.9)"/>
<ellipse cx="371.5" cy="601.1" rx="1.0" ry="0.7" transform="rotate(33 371.5 601.1)"/>
<ellipse cx="213.7" cy="587.1" rx="3.0" ry="2.0" transform="rotate(-29 213.7 587.1)"/>
<ellipse cx="449.3" cy="644.3" rx="1.5" ry="1.0" transform="rotate(-33 449.3 644.3)"/>
<ellipse cx="396.2" cy="599.8" rx="0.8" ry="0.4" transform="rotate(56 396.2 599.8)"/>
<ellipse cx="190.5" cy="589.7" rx="1.0" ry="0.6" transform="rotate(13 190.5 589.7)"/>
<ellipse cx="407.3" cy="661.2" rx="3.0" ry="2.2" transform="rotate(43 407.3 661.2)"/>
<ellipse cx="182.1" cy="522.9" rx="1.0" ry="0.7" transform="rotate(5 182.1 522.9)"/>
<ellipse cx="478.7" cy="547.6" rx="1.0" ry="0.5" transform="rotate(-9 478.7 547.6)"/>
<ellipse cx="441.3" cy="663.9" rx="1.5" ry="1.1" transform="rotate(-0 441.3 663.9)"/>
<ellipse cx="423.5" cy="602.1" rx="2.5" ry="1.4" transform="rotate(-41 423.5 602.1)"/>
<ellipse cx="439.4" cy="666.2" rx="3.0" ry="1.4" transform="rotate(-11 439.4 666.2)"/>
<ellipse cx="312.1" cy="543.3" rx="0.8" ry="0.4" transform="rotate(31 312.1 543.3)"/>
<ellipse cx="404.3" cy="526.9" rx="3.0" ry="2.0" transform="rotate(58 404.3 526.9)"/>
<ellipse cx="171.3" cy="582.0" rx="1.0" ry="0.5" transform="rotate(7 171.3 582.0)"/>
<ellipse cx="354.0" cy="687.1" rx="0.8" ry="0.6" transform="rotate(26 354.0 687.1)"/>
<ellipse cx="550.7" cy="622.5" rx="1.5" ry="0.8" transform="rotate(6 550.7 622.5)"/>
<ellipse cx="264.3" cy="592.3" rx="1.2" ry="0.7" transform="rotate(-20 264.3 592.3)"/>
<ellipse cx="552.7" cy="622.2" rx="0.8" ry="0.4" transform="rotate(10 552.7 622.2)"/>
<ellipse cx="557.9" cy="647.5" rx="1.0" ry="0.6" transform="rotate(-13 557.9 647.5)"/>
<ellipse cx="498.8" cy="576.2" rx="0.8" ry="0.4" transform="rotate(-18 498.8 576.2)"/>
<ellipse cx="241.6" cy="609.9" rx="1.0" ry="0.6" transform="rotate(-12 241.6 609.9)"/>
<ellipse cx="401.6" cy="651.9" rx="3.0" ry="1.9" transform="rotate(59 401.6 651.9)"/>
<ellipse cx="434.9" cy="672.5" rx="1.2" ry="0.8" transform="rotate(-10 434.9 672.5)"/>
<ellipse cx="188.4" cy="555.3" rx="1.5" ry="1.0" transform="rotate(2 188.4 555.3)"/>
<ellipse cx="459.2" cy="602.4" rx="1.2" ry="0.7" transform="rotate(-17 459.2 602.4)"/>
<ellipse cx="310.3" cy="653.1" rx="1.0" ry="0.5" transform="rotate(-21 310.3 653.1)"/>
<ellipse cx="319.9" cy="516.6" rx="2.5" ry="1.5" transform="rotate(32 319.9 516.6)"/>
<ellipse cx="372.5" cy="511.0" rx="2.5" ry="1.7" transform="rotate(-1 372.5 511.0)"/>
<ellipse cx="243.2" cy="602.8" rx="1.0" ry="0.5" transform="rotate(-23 243.2 602.8)"/>
<ellipse cx="335.4" cy="608.8" rx="1.0" ry="0.7" transform="rotate(6 335.4 608.8)"/>
<ellipse cx="292.4" cy="590.3" rx="2.5" ry="1.3" transform="rotate(-35 292.4 590.3)"/>
<ellipse cx="279.3" cy="642.6" rx="2.5" ry="1.3" transform="rotate(2 279.3 642.6)"/>
<ellipse cx="308.7" cy="520.5" rx="2.0" ry="1.2" transform="rotate(-34 308.7 520.5)"/>
<ellipse cx="415.9" cy="613.2" rx="1.5" ry="1.1" transform="rotate(-52 415.9 613.2)"/>
<ellipse cx="502.7" cy="611.6" rx="2.0" ry="1.4" transform="rotate(55 502.7 611.6)"/>
<ellipse cx="508.7" cy="546.9" rx="1.5" ry="0.7" transform="rotate(-9 508.7 546.9)"/>
<ellipse cx="323.1" cy="512.0" rx="2.5" ry="2.1" transform="rotate(-26 323.1 512.0)"/>
<ellipse cx="444.3" cy="544.3" rx="2.5" ry="1.3" transform="rotate(32 444.3 544.3)"/>
<ellipse cx="306.8" cy="642.5" rx="1.0" ry="0.7" transform="rotate(49 306.8 642.5)"/>
<ellipse cx="483.6" cy="595.7" rx="1.5" ry="1.1" transform="rotate(6 483.6 595.7)"/>
<ellipse cx="443.1" cy="504.6" rx="2.5" ry="1.2" transform="rotate(49 443.1 504.6)"/>
<ellipse cx="525.8" cy="554.4" rx="2.5" ry="1.6" transform="rotate(10 525.8 554.4)"/>
<ellipse cx="352.9" cy="565.1" rx="1.5" ry="0.7" transform="rotate(-56 352.9 565.1)"/>
<ellipse cx="296.2" cy="574.7" rx="1.5" ry="0.8" transform="rotate(20 296.2 574.7)"/>
<ellipse cx="242.5" cy="593.8" rx="2.0" ry="1.7" transform="rotate(-16 242.5 593.8)"/>
<ellipse cx="394.7" cy="688.5" rx="1.0" ry="0.7" transform="rotate(14 394.7 688.5)"/>
<ellipse cx="330.3" cy="583.1" rx="1.5" ry="0.7" transform="rotate(-4 330.3 583.1)"/>
<ellipse cx="345.3" cy="693.3" rx="2.5" ry="1.2" transform="rotate(-44 345.3 693.3)"/>
<ellipse cx="367.8" cy="561.7" rx="2.0" ry="1.3" transform="rotate(-57 367.8 561.7)"/>
<ellipse cx="406.1" cy="554.0" rx="1.5" ry="1.1" transform="rotate(-32 406.1 554.0)"/>
<ellipse cx="323.6" cy="547.9" rx="3.0" ry="2.4" transform="rotate(32 323.6 547.9)"/>
<ellipse cx="514.8" cy="638.2" rx="2.0" ry="1.1" transform="rotate(-48 514.8 638.2)"/>
<ellipse cx="251.1" cy="579.2" rx="1.0" ry="0.8" transform="rotate(39 251.1 579.2)"/>
<ellipse cx="232.2" cy="624.3" rx="3.0" ry="2.3" transform="rotate(-25 232.2 624.3)"/>
<ellipse cx="331.8" cy="573.4" rx="3.0" ry="1.6" transform="rotate(-30 331.8 573.4)"/>
<ellipse cx="296.7" cy="535.6" rx="1.0" ry="0.8" transform="rotate(59 296.7 535.6)"/>
<ellipse cx="489.0" cy="677.1" rx="1.5" ry="0.7" transform="rotate(-6 489.0 677.1)"/>
<ellipse cx="471.1" cy="596.1" rx="1.0" ry="0.7" transform="rotate(-10 471.1 596.1)"/>
<ellipse cx="358.0" cy="568.9" rx="2.5" ry="1.6" transform="rotate(36 358.0 568.9)"/>
<ellipse cx="323.0" cy="643.2" rx="1.5" ry="0.9" transform="rotate(22 323.0 643.2)"/>
<ellipse cx="249.9" cy="612.7" rx="1.0" ry="0.7" transform="rotate(-10 249.9 612.7)"/>
<ellipse cx="445.7" cy="624.6" rx="1.5" ry="1.2" transform="rotate(-45 445.7 624.6)"/>
<ellipse cx="317.0" cy="633.9" rx="1.2" ry="0.9" transform="rotate(57 317.0 633.9)"/>
<ellipse cx="354.0" cy="638.8" rx="1.0" ry="0.6" transform="rotate(-27 354.0 638.8)"/>
<ellipse cx="268.3" cy="633.2" rx="2.5" ry="2.1" transform="rotate(59 268.3 633.2)"/>
<ellipse cx="216.2" cy="508.5" rx="1.5" ry="0.9" transform="rotate(5 216.2 508.5)"/>
<ellipse cx="482.6" cy="580.9" rx="0.8" ry="0.6" transform="rotate(43 482.6 580.9)"/>
<ellipse cx="236.8" cy="513.5" rx="3.0" ry="2.3" transform="rotate(41 236.8 513.5)"/>
<ellipse cx="280.7" cy="578.3" rx="2.5" ry="1.9" transform="rotate(58 280.7 578.3)"/>
<ellipse cx="321.8" cy="638.8" rx="1.5" ry="1.2" transform="rotate(-42 321.8 638.8)"/>
<ellipse cx="238.3" cy="521.4" rx="1.5" ry="1.2" transform="rotate(-8 238.3 521.4)"/>
<ellipse cx="275.4" cy="613.8" rx="1.5" ry="1.1" transform="rotate(-27 275.4 613.8)"/>
<ellipse cx="258.7" cy="596.4" rx="2.0" ry="1.3" transform="rotate(7 258.7 596.4)"/>
<ellipse cx="229.1" cy="501.4" rx="1.5" ry="1.1" transform="rotate(-60 229.1 501.4)"/>
<ellipse cx="301.2" cy="527.9" rx="1.2" ry="1.0" transform="rotate(-11 301.2 527.9)"/>
<ellipse cx="182.5" cy="570.3" rx="2.5" ry="1.7" transform="rotate(-34 182.5 570.3)"/>
<ellipse cx="410.5" cy="665.4" rx="1.5" ry="0.8" transform="rotate(53 410.5 665.4)"/>
<ellipse cx="507.2" cy="698.9" rx="3.0" ry="2.0" transform="rotate(53 507.2 698.9)"/>
<ellipse cx="538.4" cy="607.8" rx="1.0" ry="0.6" transform="rotate(-57 538.4 607.8)"/>
<ellipse cx="386.7" cy="512.6" rx="3.0" ry="1.4" transform="rotate(-35 386.7 512.6)"/>
<ellipse cx="544.1" cy="502.2" rx="1.5" ry="1.2" transform="rotate(35 544.1 502.2)"/>
<ellipse cx="456.8" cy="579.9" rx="1.0" ry="0.8" transform="rotate(-2 456.8 579.9)"/>
<ellipse cx="497.6" cy="581.7" rx="0.8" ry="0.4" transform="rotate(-43 497.6 581.7)"/>
<ellipse cx="296.2" cy="644.9" rx="1.5" ry="1.2" transform="rotate(-16 296.2 644.9)"/>
<ellipse cx="418.8" cy="570.8" rx="1.5" ry="0.7" transform="rotate(18 418.8 570.8)"/>
<ellipse cx="401.7" cy="552.9" rx="1.2" ry="0.9" transform="rotate(-35 401.7 552.9)"/>
<ellipse cx="459.8" cy="609.2" rx="1.2" ry="0.6" transform="rotate(-47 459.8 609.2)"/>
<ellipse cx="225.7" cy="570.1" rx="2.5" ry="1.1" transform="rotate(-12 225.7 570.1)"/>
<ellipse cx="540.7" cy="668.0" rx="1.2" ry="0.5" transform="rotate(-39 540.7 668.0)"/>
<ellipse cx="395.7" cy="564.3" rx="3.0" ry="2.5" transform="rotate(-34 395.7 564.3)"/>
<ellipse cx="329.2" cy="641.2" rx="1.0" ry="0.8" transform="rotate(-52 329.2 641.2)"/>
<ellipse cx="513.8" cy="655.5" rx="0.8" ry="0.4" transform="rotate(16 513.8 655.5)"/>
<ellipse cx="317.5" cy="628.8" rx="1.2" ry="0.8" transform="rotate(-19 317.5 628.8)"/>
<ellipse cx="341.4" cy="642.9" rx="2.5" ry="1.6" transform="rotate(8 341.4 642.9)"/>
<ellipse cx="439.0" cy="590.6" rx="3.0" ry="1.9" transform="rotate(-14 439.0 590.6)"/>
<ellipse cx="259.7" cy="620.1" rx="0.8" ry="0.5" transform="rotate(-56 259.7 620.1)"/>
<ellipse cx="414.7" cy="589.4" rx="0.8" ry="0.6" transform="rotate(52 414.7 589.4)"/>
<ellipse cx="229.3" cy="593.7" rx="1.5" ry="1.1" transform="rotate(-22 229.3 593.7)"/>
<ellipse cx="457.3" cy="697.9" rx="2.5" ry="1.2" transform="rotate(56 457.3 697.9)"/>
<ellipse cx="463.6" cy="679.5" rx="1.0" ry="0.5" transform="rotate(41 463.6 679.5)"/>
<ellipse cx="423.2" cy="687.5" rx="1.0" ry="0.8" transform="rotate(1 423.2 687.5)"/>
<ellipse cx="557.5" cy="513.0" rx="0.8" ry="0.6" transform="rotate(-30 557.5 513.0)"/>
<ellipse cx="484.8" cy="590.8" rx="0.8" ry="0.6" transform="rotate(-36 484.8 590.8)"/>
<ellipse cx="279.1" cy="628.7" rx="1.0" ry="0.5" transform="rotate(-7 279.1 628.7)"/>
<ellipse cx="465.3" cy="675.4" rx="1.0" ry="0.8" transform="rotate(43 465.3 675.4)"/>
<ellipse cx="470.6" cy="609.9" rx="1.0" ry="0.8" transform="rotate(-42 470.6 609.9)"/>
<ellipse cx="312.7" cy="520.1" rx="0.8" ry="0.7" transform="rotate(55 312.7 520.1)"/>
<ellipse cx="255.6" cy="557.7" rx="2.5" ry="1.3" transform="rotate(-13 255.6 557.7)"/>
<ellipse cx="501.2" cy="623.4" rx="3.0" ry="1.4" transform="rotate(59 501.2 623.4)"/>
<ellipse cx="250.6" cy="625.8" rx="1.2" ry="0.8" transform="rotate(59 250.6 625.8)"/>
<ellipse cx="317.5" cy="663.3" rx="2.0" ry="1.6" transform="rotate(54 317.5 663.3)"/>
<ellipse cx="426.7" cy="541.7" rx="1.2" ry="0.6" transform="rotate(-45 426.7 541.7)"/>
<ellipse cx="440.6" cy="593.3" rx="1.0" ry="0.6" transform="rotate(-29 440.6 593.3)"/>
<ellipse cx="304.2" cy="624.6" rx="1.5" ry="0.8" transform="rotate(59 304.2 624.6)"/>
<ellipse cx="439.7" cy="647.3" rx="2.0" ry="1.6" transform="rotate(32 439.7 647.3)"/>
<ellipse cx="248.1" cy="514.3" rx="1.5" ry="0.9" transform="rotate(38 248.1 514.3)"/>
<ellipse cx="329.5" cy="591.4" rx="1.0" ry="0.8" transform="rotate(-18 329.5 591.4)"/>
<ellipse cx="444.4" cy="547.0" rx="1.0" ry="0.6" transform="rotate(45 444.4 547.0)"/>
<ellipse cx="433.9" cy="591.0" rx="3.0" ry="1.8" transform="rotate(29 433.9 591.0)"/>
<ellipse cx="404.5" cy="589.7" rx="1.0" ry="0.6" transform="rotate(-20 404.5 589.7)"/>
<ellipse cx="397.9" cy="631.7" rx="1.5" ry="0.9" transform="rotate(23 397.9 631.7)"/>
<ellipse cx="432.1" cy="548.9" rx="2.5" ry="1.5" transform="rotate(11 432.1 548.9)"/>
<ellipse cx="507.8" cy="577.6" rx="1.5" ry="0.9" transform="rotate(38 507.8 577.6)"/>
<ellipse cx="501.6" cy="618.1" rx="1.0" ry="0.6" transform="rotate(-35 501.6 618.1)"/>
<ellipse cx="478.1" cy="503.2" rx="0.8" ry="0.6" transform="rotate(20 478.1 503.2)"/>
<ellipse cx="540.4" cy="504.6" rx="1.0" ry="0.6" transform="rotate(-17 540.4 504.6)"/>
<ellipse cx="351.3" cy="563.2" rx="0.8" ry="0.7" transform="rotate(57 351.3 563.2)"/>
<ellipse cx="557.1" cy="579.0" rx="1.2" ry="0.9" transform="rotate(24 557.1 579.0)"/>
<ellipse cx="559.1" cy="513.3" rx="3.0" ry="2.1" transform="rotate(35 559.1 513.3)"/>
<ellipse cx="533.5" cy="603.6" rx="1.2" ry="0.8" transform="rotate(40 533.5 603.6)"/>
<ellipse cx="371.1" cy="519.2" rx="1.0" ry="0.5" transform="rotate(55 371.1 519.2)"/>
<ellipse cx="441.4" cy="657.3" rx="1.5" ry="1.1" transform="rotate(56 441.4 657.3)"/>
<ellipse cx="354.8" cy="676.8" rx="2.5" ry="1.6" transform="rotate(-58 354.8 676.8)"/>
<ellipse cx="505.3" cy="688.9" rx="0.8" ry="0.4" transform="rotate(-10 505.3 688.9)"/>
<ellipse cx="388.8" cy="694.9" rx="1.0" ry="0.6" transform="rotate(1 388.8 694.9)"/>
<ellipse cx="218.6" cy="613.6" rx="1.0" ry="0.7" transform="rotate(1 218.6 613.6)"/>
<ellipse cx="290.3" cy="570.6" rx="1.2" ry="0.7" transform="rotate(-10 290.3 570.6)"/>
<ellipse cx="191.2" cy="543.5" rx="3.0" ry="1.6" transform="rotate(-47 191.2 543.5)"/>
<ellipse cx="485.8" cy="600.8" rx="1.0" ry="0.8" transform="rotate(3 485.8 600.8)"/>
<ellipse cx="328.5" cy="622.4" rx="1.0" ry="0.6" transform="rotate(-59 328.5 622.4)"/>
<ellipse cx="456.4" cy="642.5" rx="1.0" ry="0.6" transform="rotate(14 456.4 642.5)"/>
<ellipse cx="327.9" cy="598.7" rx="0.8" ry="0.5" transform="rotate(-24 327.9 598.7)"/>
<ellipse cx="253.7" cy="607.3" rx="2.5" ry="1.5" transform="rotate(-1 253.7 607.3)"/>
<ellipse cx="425.1" cy="677.3" rx="1.0" ry="0.7" transform="rotate(0 425.1 677.3)"/>
<ellipse cx="522.5" cy="578.9" rx="1.5" ry="0.8" transform="rotate(12 522.5 578.9)"/>
<ellipse cx="255.8" cy="516.9" rx="3.0" ry="1.8" transform="rotate(18 255.8 516.9)"/>
<ellipse cx="300.2" cy="523.4" rx="1.5" ry="1.2" transform="rotate(-53 300.2 523.4)"/>
<ellipse cx="375.9" cy="609.5" rx="2.5" ry="1.9" transform="rotate(21 375.9 609.5)"/>
<ellipse cx="448.1" cy="506.5" rx="2.0" ry="1.3" transform="rotate(-32 448.1 506.5)"/>
<ellipse cx="462.3" cy="597.5" rx="0.8" ry="0.5" transform="rotate(11 462.3 597.5)"/>
<ellipse cx="309.3" cy="549.3" rx="2.0" ry="1.6" transform="rotate(-35 309.3 549.3)"/>
<ellipse cx="467.4" cy="511.2" rx="1.0" ry="0.6" transform="rotate(2 467.4 511.2)"/>
<ellipse cx="583.4" cy="476.9" rx="0.7" ry="0.6" transform="rotate(-28 583.4 476.9)"/>
<ellipse cx="593.0" cy="525.3" rx="1.6" ry="0.7" transform="rotate(-26 593.0 525.3)"/>
<ellipse cx="566.4" cy="481.1" rx="1.8" ry="0.9" transform="rotate(-21 566.4 481.1)"/>
<ellipse cx="483.0" cy="576.5" rx="1.5" ry="0.8" transform="rotate(-53 483.0 576.5)"/>
<ellipse cx="585.6" cy="476.2" rx="1.3" ry="0.8" transform="rotate(51 585.6 476.2)"/>
<ellipse cx="556.9" cy="472.9" rx="1.7" ry="0.9" transform="rotate(10 556.9 472.9)"/>
<ellipse cx="411.3" cy="565.8" rx="1.1" ry="0.8" transform="rotate(58 411.3 565.8)"/>
<ellipse cx="620.9" cy="479.7" rx="1.5" ry="0.7" transform="rotate(30 620.9 479.7)"/>
<ellipse cx="496.9" cy="528.2" rx="1.1" ry="0.6" transform="rotate(-22 496.9 528.2)"/>
<ellipse cx="579.0" cy="479.3" rx="0.7" ry="0.9" transform="rotate(20 579.0 479.3)"/>
<ellipse cx="536.1" cy="484.7" rx="0.7" ry="0.7" transform="rotate(54 536.1 484.7)"/>
<ellipse cx="538.8" cy="589.9" rx="0.9" ry="0.7" transform="rotate(4 538.8 589.9)"/>
<ellipse cx="603.0" cy="486.0" rx="1.6" ry="0.7" transform="rotate(-56 603.0 486.0)"/>
<ellipse cx="509.3" cy="519.1" rx="1.4" ry="1.0" transform="rotate(-1 509.3 519.1)"/>
<ellipse cx="568.6" cy="520.4" rx="1.5" ry="0.6" transform="rotate(29 568.6 520.4)"/>
<ellipse cx="448.3" cy="546.2" rx="0.8" ry="0.7" transform="rotate(-40 448.3 546.2)"/>
<ellipse cx="490.4" cy="546.9" rx="1.2" ry="0.7" transform="rotate(9 490.4 546.9)"/>
<ellipse cx="603.7" cy="516.6" rx="1.3" ry="0.7" transform="rotate(58 603.7 516.6)"/>
<ellipse cx="485.4" cy="560.7" rx="0.9" ry="0.6" transform="rotate(28 485.4 560.7)"/>
<ellipse cx="542.2" cy="503.4" rx="0.7" ry="0.9" transform="rotate(-15 542.2 503.4)"/>
<ellipse cx="574.8" cy="526.3" rx="1.3" ry="0.8" transform="rotate(57 574.8 526.3)"/>
<ellipse cx="619.2" cy="529.3" rx="1.2" ry="0.6" transform="rotate(30 619.2 529.3)"/>
<ellipse cx="433.5" cy="509.9" rx="1.6" ry="0.5" transform="rotate(24 433.5 509.9)"/>
<ellipse cx="540.7" cy="541.7" rx="1.0" ry="0.6" transform="rotate(54 540.7 541.7)"/>
<ellipse cx="585.9" cy="574.7" rx="0.7" ry="0.9" transform="rotate(-34 585.9 574.7)"/>
<ellipse cx="455.8" cy="539.5" rx="1.3" ry="0.6" transform="rotate(32 455.8 539.5)"/>
<ellipse cx="544.0" cy="586.9" rx="1.7" ry="0.8" transform="rotate(-16 544.0 586.9)"/>
<ellipse cx="628.7" cy="563.4" rx="0.9" ry="0.9" transform="rotate(27 628.7 563.4)"/>
<ellipse cx="470.9" cy="502.4" rx="0.6" ry="0.8" transform="rotate(-30 470.9 502.4)"/>
<ellipse cx="477.4" cy="502.9" rx="0.8" ry="0.7" transform="rotate(-27 477.4 502.9)"/>
<ellipse cx="475.6" cy="506.1" rx="1.2" ry="0.9" transform="rotate(-41 475.6 506.1)"/>
<ellipse cx="607.7" cy="581.1" rx="1.3" ry="0.8" transform="rotate(28 607.7 581.1)"/>
<ellipse cx="532.9" cy="555.8" rx="1.7" ry="0.9" transform="rotate(-29 532.9 555.8)"/>
<ellipse cx="422.5" cy="591.8" rx="1.0" ry="0.9" transform="rotate(-32 422.5 591.8)"/>
<ellipse cx="514.2" cy="518.2" rx="1.5" ry="1.0" transform="rotate(1 514.2 518.2)"/>
<ellipse cx="540.2" cy="515.3" rx="0.9" ry="1.0" transform="rotate(-47 540.2 515.3)"/>
<ellipse cx="626.3" cy="555.4" rx="0.7" ry="1.0" transform="rotate(-48 626.3 555.4)"/>
<ellipse cx="540.0" cy="485.6" rx="1.8" ry="0.7" transform="rotate(45 540.0 485.6)"/>
<ellipse cx="424.1" cy="556.6" rx="0.7" ry="0.5" transform="rotate(9 424.1 556.6)"/>
<ellipse cx="636.0" cy="559.1" rx="1.6" ry="0.9" transform="rotate(3 636.0 559.1)"/>
<ellipse cx="1020.2" cy="297.6" rx="0.7" ry="0.7" transform="rotate(-17 1020.2 297.6)"/>
<ellipse cx="995.7" cy="285.1" rx="1.3" ry="0.7" transform="rotate(-2 995.7 285.1)"/>
<ellipse cx="1019.2" cy="297.1" rx="1.1" ry="1.0" transform="rotate(7 1019.2 297.1)"/>
<ellipse cx="1012.8" cy="298.9" rx="0.9" ry="0.8" transform="rotate(53 1012.8 298.9)"/>
<ellipse cx="1038.9" cy="276.9" rx="1.5" ry="0.9" transform="rotate(52 1038.9 276.9)"/>
<ellipse cx="1021.1" cy="288.2" rx="1.1" ry="0.8" transform="rotate(14 1021.1 288.2)"/>
<ellipse cx="980.3" cy="251.6" rx="0.6" ry="0.7" transform="rotate(55 980.3 251.6)"/>
<ellipse cx="1011.7" cy="287.1" rx="1.5" ry="1.0" transform="rotate(-57 1011.7 287.1)"/>
<ellipse cx="1030.8" cy="293.3" rx="1.3" ry="0.7" transform="rotate(10 1030.8 293.3)"/>
<ellipse cx="1006.2" cy="245.1" rx="0.5" ry="0.4" transform="rotate(35 1006.2 245.1)"/>
<ellipse cx="1031.2" cy="278.6" rx="0.9" ry="0.6" transform="rotate(-18 1031.2 278.6)"/>
<ellipse cx="1028.9" cy="288.5" rx="0.8" ry="0.8" transform="rotate(3 1028.9 288.5)"/>
<ellipse cx="994.3" cy="313.3" rx="1.0" ry="0.5" transform="rotate(46 994.3 313.3)"/>
<ellipse cx="1008.6" cy="296.2" rx="0.8" ry="0.7" transform="rotate(34 1008.6 296.2)"/>
<ellipse cx="999.9" cy="299.1" rx="1.2" ry="0.6" transform="rotate(3 999.9 299.1)"/>
<ellipse cx="1004.1" cy="330.0" rx="0.7" ry="0.5" transform="rotate(-24 1004.1 330.0)"/>
<ellipse cx="994.2" cy="316.1" rx="1.2" ry="0.9" transform="rotate(5 994.2 316.1)"/>
<ellipse cx="1025.9" cy="302.7" rx="0.8" ry="0.5" transform="rotate(-10 1025.9 302.7)"/>
<ellipse cx="1018.4" cy="283.6" rx="0.9" ry="0.9" transform="rotate(59 1018.4 283.6)"/>
<ellipse cx="999.3" cy="292.7" rx="1.4" ry="0.9" transform="rotate(-19 999.3 292.7)"/>
<ellipse cx="1008.4" cy="264.2" rx="0.8" ry="0.8" transform="rotate(29 1008.4 264.2)"/>
<ellipse cx="979.4" cy="291.1" rx="0.5" ry="0.7" transform="rotate(-14 979.4 291.1)"/>
<ellipse cx="1033.5" cy="304.4" rx="0.7" ry="0.5" transform="rotate(45 1033.5 304.4)"/>
<ellipse cx="1036.4" cy="272.5" rx="0.9" ry="1.0" transform="rotate(-43 1036.4 272.5)"/>
<ellipse cx="997.5" cy="233.2" rx="0.7" ry="0.5" transform="rotate(21 997.5 233.2)"/>
<ellipse cx="1021.7" cy="261.2" rx="1.5" ry="0.7" transform="rotate(-15 1021.7 261.2)"/>
<ellipse cx="1013.1" cy="297.0" rx="1.5" ry="0.4" transform="rotate(-38 1013.1 297.0)"/>
<ellipse cx="1002.4" cy="290.7" rx="0.8" ry="0.5" transform="rotate(-45 1002.4 290.7)"/>
<ellipse cx="987.8" cy="280.4" rx="1.1" ry="0.9" transform="rotate(3 987.8 280.4)"/>
<ellipse cx="1010.5" cy="282.0" rx="0.7" ry="0.4" transform="rotate(-23 1010.5 282.0)"/>
<ellipse cx="1007.1" cy="235.1" rx="1.1" ry="0.5" transform="rotate(-20 1007.1 235.1)"/>
<ellipse cx="994.4" cy="277.3" rx="1.4" ry="1.0" transform="rotate(-5 994.4 277.3)"/>
<ellipse cx="983.4" cy="259.3" rx="1.0" ry="0.5" transform="rotate(53 983.4 259.3)"/>
<ellipse cx="1008.1" cy="284.3" rx="1.3" ry="0.6" transform="rotate(-54 1008.1 284.3)"/>
<ellipse cx="1009.5" cy="296.6" rx="1.3" ry="0.5" transform="rotate(-58 1009.5 296.6)"/>
<ellipse cx="1009.7" cy="323.7" rx="1.0" ry="0.8" transform="rotate(-4 1009.7 323.7)"/>
<ellipse cx="1006.0" cy="288.5" rx="0.8" ry="0.4" transform="rotate(-29 1006.0 288.5)"/>
<ellipse cx="995.1" cy="270.7" rx="1.0" ry="0.8" transform="rotate(-22 995.1 270.7)"/>
<ellipse cx="987.0" cy="320.8" rx="1.1" ry="0.7" transform="rotate(5 987.0 320.8)"/>
<ellipse cx="992.8" cy="289.9" rx="1.5" ry="0.5" transform="rotate(52 992.8 289.9)"/>
<ellipse cx="1022.4" cy="248.7" rx="0.7" ry="0.7" transform="rotate(58 1022.4 248.7)"/>
<ellipse cx="1002.9" cy="298.1" rx="1.3" ry="0.5" transform="rotate(10 1002.9 298.1)"/>
<ellipse cx="1023.6" cy="329.7" rx="0.8" ry="0.5" transform="rotate(22 1023.6 329.7)"/>
<ellipse cx="994.7" cy="308.1" rx="1.0" ry="1.0" transform="rotate(2 994.7 308.1)"/>
<ellipse cx="1004.4" cy="285.9" rx="1.0" ry="0.6" transform="rotate(9 1004.4 285.9)"/>
<ellipse cx="994.5" cy="266.9" rx="0.6" ry="0.7" transform="rotate(-2 994.5 266.9)"/>
<ellipse cx="981.6" cy="239.8" rx="0.8" ry="0.7" transform="rotate(-50 981.6 239.8)"/>
<ellipse cx="1008.2" cy="269.7" rx="1.4" ry="0.9" transform="rotate(-29 1008.2 269.7)"/>
<ellipse cx="1018.6" cy="270.1" rx="1.0" ry="0.7" transform="rotate(54 1018.6 270.1)"/>
<ellipse cx="989.0" cy="286.6" rx="0.8" ry="0.9" transform="rotate(0 989.0 286.6)"/>
<ellipse cx="999.9" cy="297.2" rx="0.7" ry="0.9" transform="rotate(36 999.9 297.2)"/>
<ellipse cx="1036.0" cy="278.4" rx="1.3" ry="0.9" transform="rotate(25 1036.0 278.4)"/>
<ellipse cx="1014.2" cy="248.2" rx="0.7" ry="0.9" transform="rotate(-24 1014.2 248.2)"/>
<ellipse cx="1006.2" cy="334.4" rx="0.5" ry="0.7" transform="rotate(-19 1006.2 334.4)"/>
<ellipse cx="1010.0" cy="255.8" rx="1.5" ry="1.0" transform="rotate(17 1010.0 255.8)"/>
<ellipse cx="1024.1" cy="297.9" rx="0.6" ry="1.0" transform="rotate(45 1024.1 297.9)"/>
<ellipse cx="1001.7" cy="298.1" rx="1.3" ry="0.9" transform="rotate(58 1001.7 298.1)"/>
<ellipse cx="999.8" cy="277.1" rx="1.3" ry="0.4" transform="rotate(44 999.8 277.1)"/>
<ellipse cx="1007.9" cy="246.7" rx="1.5" ry="0.7" transform="rotate(53 1007.9 246.7)"/>
<ellipse cx="994.5" cy="265.4" rx="0.9" ry="0.6" transform="rotate(-57 994.5 265.4)"/>
<ellipse cx="1018.2" cy="318.2" rx="0.8" ry="0.8" transform="rotate(33 1018.2 318.2)"/>
<ellipse cx="999.2" cy="260.1" rx="0.8" ry="0.6" transform="rotate(-38 999.2 260.1)"/>
<ellipse cx="992.2" cy="258.2" rx="1.5" ry="0.6" transform="rotate(51 992.2 258.2)"/>
<ellipse cx="1014.9" cy="275.4" rx="1.5" ry="0.8" transform="rotate(56 1014.9 275.4)"/>
<ellipse cx="1006.9" cy="265.4" rx="0.8" ry="0.7" transform="rotate(-1 1006.9 265.4)"/>
<ellipse cx="1032.2" cy="294.7" rx="1.1" ry="0.7" transform="rotate(29 1032.2 294.7)"/>
<ellipse cx="1005.0" cy="299.7" rx="1.1" ry="0.5" transform="rotate(-21 1005.0 299.7)"/>
<ellipse cx="1009.1" cy="288.1" rx="0.9" ry="0.7" transform="rotate(54 1009.1 288.1)"/>
<ellipse cx="995.7" cy="267.5" rx="0.9" ry="0.5" transform="rotate(-3 995.7 267.5)"/>
<ellipse cx="1011.9" cy="282.1" rx="1.0" ry="0.8" transform="rotate(31 1011.9 282.1)"/>
<ellipse cx="986.1" cy="274.3" rx="1.5" ry="0.9" transform="rotate(-30 986.1 274.3)"/>
<ellipse cx="958.4" cy="265.6" rx="1.1" ry="0.5" transform="rotate(32 958.4 265.6)"/>
<ellipse cx="1012.5" cy="289.4" rx="1.1" ry="0.6" transform="rotate(26 1012.5 289.4)"/>
<ellipse cx="1003.2" cy="265.9" rx="1.3" ry="0.8" transform="rotate(25 1003.2 265.9)"/>
<ellipse cx="990.6" cy="291.3" rx="0.6" ry="0.7" transform="rotate(55 990.6 291.3)"/>
<ellipse cx="1008.6" cy="280.2" rx="0.6" ry="0.6" transform="rotate(23 1008.6 280.2)"/>
<ellipse cx="998.2" cy="289.4" rx="1.0" ry="0.7" transform="rotate(29 998.2 289.4)"/>
<ellipse cx="988.4" cy="303.2" rx="1.2" ry="0.8" transform="rotate(-54 988.4 303.2)"/>
<ellipse cx="1003.2" cy="273.8" rx="0.6" ry="0.7" transform="rotate(-58 1003.2 273.8)"/>
<ellipse cx="1017.5" cy="294.7" rx="1.0" ry="0.5" transform="rotate(54 1017.5 294.7)"/>
<ellipse cx="1014.7" cy="264.6" rx="1.1" ry="0.6" transform="rotate(58 1014.7 264.6)"/>
<ellipse cx="1013.7" cy="297.8" rx="0.7" ry="0.9" transform="rotate(1 1013.7 297.8)"/>
<ellipse cx="993.1" cy="296.8" rx="1.5" ry="0.6" transform="rotate(35 993.1 296.8)"/>
<ellipse cx="1001.0" cy="261.8" rx="0.9" ry="0.7" transform="rotate(-6 1001.0 261.8)"/>
<ellipse cx="997.2" cy="313.2" rx="1.0" ry="0.6" transform="rotate(33 997.2 313.2)"/>
<ellipse cx="989.8" cy="291.9" rx="1.5" ry="0.7" transform="rotate(-15 989.8 291.9)"/>
<ellipse cx="1035.7" cy="249.0" rx="1.4" ry="0.6" transform="rotate(21 1035.7 249.0)"/>
<ellipse cx="1004.3" cy="266.6" rx="1.3" ry="1.0" transform="rotate(19 1004.3 266.6)"/>
<ellipse cx="997.7" cy="264.5" rx="1.2" ry="0.5" transform="rotate(32 997.7 264.5)"/>
<ellipse cx="967.0" cy="270.0" rx="0.9" ry="0.8" transform="rotate(-58 967.0 270.0)"/>
<ellipse cx="984.4" cy="303.9" rx="0.8" ry="0.8" transform="rotate(-33 984.4 303.9)"/>
<ellipse cx="969.2" cy="326.7" rx="0.7" ry="0.9" transform="rotate(-53 969.2 326.7)"/>
<ellipse cx="982.5" cy="264.7" rx="1.4" ry="0.6" transform="rotate(11 982.5 264.7)"/>
<ellipse cx="999.4" cy="248.8" rx="1.3" ry="0.7" transform="rotate(-30 999.4 248.8)"/>
<ellipse cx="1000.0" cy="257.9" rx="1.1" ry="1.0" transform="rotate(-44 1000.0 257.9)"/>
<ellipse cx="1007.4" cy="265.9" rx="1.3" ry="1.0" transform="rotate(-27 1007.4 265.9)"/>
<ellipse cx="989.3" cy="274.0" rx="1.0" ry="0.5" transform="rotate(15 989.3 274.0)"/>
<ellipse cx="1021.2" cy="264.9" rx="0.8" ry="0.9" transform="rotate(-10 1021.2 264.9)"/>
<ellipse cx="1016.7" cy="308.7" rx="1.0" ry="0.7" transform="rotate(59 1016.7 308.7)"/>
<ellipse cx="973.6" cy="262.0" rx="0.9" ry="0.9" transform="rotate(-51 973.6 262.0)"/>
<ellipse cx="998.3" cy="317.1" rx="1.3" ry="0.9" transform="rotate(-14 998.3 317.1)"/>
<ellipse cx="1003.0" cy="305.5" rx="1.1" ry="0.4" transform="rotate(-15 1003.0 305.5)"/>
<ellipse cx="1000.6" cy="274.6" rx="0.8" ry="0.9" transform="rotate(52 1000.6 274.6)"/>
<ellipse cx="1005.0" cy="298.8" rx="0.6" ry="0.5" transform="rotate(35 1005.0 298.8)"/>
<ellipse cx="1004.2" cy="267.8" rx="1.0" ry="0.8" transform="rotate(-57 1004.2 267.8)"/>
<ellipse cx="1016.6" cy="245.4" rx="0.7" ry="0.8" transform="rotate(24 1016.6 245.4)"/>
<ellipse cx="990.1" cy="323.6" rx="0.7" ry="0.7" transform="rotate(-22 990.1 323.6)"/>
<ellipse cx="981.1" cy="299.4" rx="1.1" ry="0.8" transform="rotate(58 981.1 299.4)"/>
<ellipse cx="1006.7" cy="300.4" rx="1.2" ry="0.5" transform="rotate(56 1006.7 300.4)"/>
<ellipse cx="996.8" cy="304.9" rx="1.0" ry="0.9" transform="rotate(50 996.8 304.9)"/>
<ellipse cx="1004.4" cy="263.1" rx="1.2" ry="1.1" transform="rotate(-34 1004.4 263.1)"/>
<ellipse cx="1015.0" cy="255.7" rx="1.0" ry="0.9" transform="rotate(-33 1015.0 255.7)"/>
<ellipse cx="1005.6" cy="265.3" rx="1.6" ry="0.6" transform="rotate(41 1005.6 265.3)"/>
<ellipse cx="998.4" cy="264.8" rx="0.8" ry="0.6" transform="rotate(-18 998.4 264.8)"/>
<ellipse cx="1014.1" cy="266.8" rx="1.8" ry="0.6" transform="rotate(-48 1014.1 266.8)"/>
<ellipse cx="1015.2" cy="269.8" rx="0.9" ry="0.8" transform="rotate(20 1015.2 269.8)"/>
<ellipse cx="1004.2" cy="260.5" rx="1.3" ry="0.8" transform="rotate(7 1004.2 260.5)"/>
<ellipse cx="1002.5" cy="274.7" rx="1.0" ry="0.8" transform="rotate(-29 1002.5 274.7)"/>
<ellipse cx="1011.1" cy="268.8" rx="1.5" ry="0.8" transform="rotate(-46 1011.1 268.8)"/>
<ellipse cx="1009.8" cy="259.7" rx="1.4" ry="0.8" transform="rotate(46 1009.8 259.7)"/>
<ellipse cx="1006.2" cy="255.4" rx="1.6" ry="1.1" transform="rotate(0 1006.2 255.4)"/>
<ellipse cx="1000.9" cy="272.6" rx="1.4" ry="0.9" transform="rotate(3 1000.9 272.6)"/>
<ellipse cx="995.6" cy="264.7" rx="1.9" ry="0.8" transform="rotate(-57 995.6 264.7)"/>
<ellipse cx="1005.5" cy="270.2" rx="1.7" ry="1.0" transform="rotate(-26 1005.5 270.2)"/>
<ellipse cx="1010.4" cy="284.9" rx="1.8" ry="1.1" transform="rotate(23 1010.4 284.9)"/>
<ellipse cx="1005.8" cy="258.1" rx="1.2" ry="1.0" transform="rotate(46 1005.8 258.1)"/>
<ellipse cx="1019.4" cy="266.9" rx="1.8" ry="0.7" transform="rotate(-30 1019.4 266.9)"/>
<ellipse cx="1013.4" cy="266.0" rx="1.4" ry="0.8" transform="rotate(43 1013.4 266.0)"/>
<ellipse cx="987.8" cy="265.1" rx="0.8" ry="1.3" transform="rotate(-58 987.8 265.1)"/>
<ellipse cx="1009.6" cy="275.2" rx="1.5" ry="0.7" transform="rotate(7 1009.6 275.2)"/>
<ellipse cx="1012.0" cy="264.4" rx="1.7" ry="1.0" transform="rotate(10 1012.0 264.4)"/>
<ellipse cx="1009.1" cy="276.9" rx="1.9" ry="1.1" transform="rotate(-34 1009.1 276.9)"/>
<ellipse cx="998.9" cy="271.7" rx="1.1" ry="1.0" transform="rotate(16 998.9 271.7)"/>
<ellipse cx="1010.2" cy="268.7" rx="1.6" ry="0.8" transform="rotate(-51 1010.2 268.7)"/>
<ellipse cx="1006.4" cy="259.9" rx="1.9" ry="1.0" transform="rotate(-48 1006.4 259.9)"/>
<ellipse cx="1002.9" cy="262.7" rx="1.8" ry="1.1" transform="rotate(31 1002.9 262.7)"/>
<ellipse cx="1007.5" cy="268.8" rx="1.7" ry="0.7" transform="rotate(-36 1007.5 268.8)"/>
<ellipse cx="1009.5" cy="269.0" rx="1.3" ry="1.3" transform="rotate(-21 1009.5 269.0)"/>
<ellipse cx="1005.3" cy="284.9" rx="0.9" ry="1.0" transform="rotate(14 1005.3 284.9)"/>
<ellipse cx="1007.6" cy="266.9" rx="1.4" ry="0.9" transform="rotate(39 1007.6 266.9)"/>
<ellipse cx="1005.9" cy="282.3" rx="0.9" ry="0.9" transform="rotate(56 1005.9 282.3)"/>
<ellipse cx="1006.3" cy="275.3" rx="1.9" ry="1.1" transform="rotate(-52 1006.3 275.3)"/>
<ellipse cx="1007.7" cy="274.1" rx="1.1" ry="1.2" transform="rotate(24 1007.7 274.1)"/>
<ellipse cx="1014.9" cy="266.3" rx="1.5" ry="0.9" transform="rotate(26 1014.9 266.3)"/>
<ellipse cx="1003.9" cy="268.1" rx="1.3" ry="0.9" transform="rotate(4 1003.9 268.1)"/>
<ellipse cx="1007.4" cy="268.6" rx="2.0" ry="0.9" transform="rotate(-20 1007.4 268.6)"/>
<ellipse cx="1010.8" cy="277.7" rx="1.9" ry="0.7" transform="rotate(0 1010.8 277.7)"/>
<ellipse cx="995.8" cy="268.0" rx="1.4" ry="0.8" transform="rotate(-37 995.8 268.0)"/>
<ellipse cx="1005.6" cy="264.4" rx="1.8" ry="0.6" transform="rotate(-37 1005.6 264.4)"/>
<ellipse cx="994.7" cy="271.5" rx="1.5" ry="1.1" transform="rotate(31 994.7 271.5)"/>
<ellipse cx="1005.7" cy="265.1" rx="1.8" ry="0.7" transform="rotate(-41 1005.7 265.1)"/>
<ellipse cx="1007.4" cy="268.5" rx="1.8" ry="0.9" transform="rotate(-50 1007.4 268.5)"/>
<ellipse cx="1017.1" cy="273.0" rx="1.5" ry="1.2" transform="rotate(-56 1017.1 273.0)"/>
<ellipse cx="1009.7" cy="272.8" rx="0.9" ry="0.7" transform="rotate(-36 1009.7 272.8)"/>
<ellipse cx="1003.7" cy="263.8" rx="0.9" ry="1.0" transform="rotate(-15 1003.7 263.8)"/>
<ellipse cx="1010.6" cy="277.4" rx="1.4" ry="0.9" transform="rotate(-3 1010.6 277.4)"/>
<ellipse cx="1014.0" cy="271.1" rx="1.0" ry="0.8" transform="rotate(-59 1014.0 271.1)"/>
<ellipse cx="1012.1" cy="260.2" rx="1.2" ry="1.0" transform="rotate(53 1012.1 260.2)"/>
<ellipse cx="1010.0" cy="274.5" rx="1.6" ry="0.9" transform="rotate(25 1010.0 274.5)"/>
<ellipse cx="1007.5" cy="266.6" rx="1.1" ry="0.8" transform="rotate(30 1007.5 266.6)"/>
<ellipse cx="1008.0" cy="254.4" rx="1.9" ry="0.7" transform="rotate(-13 1008.0 254.4)"/>
<ellipse cx="1012.2" cy="255.8" rx="0.8" ry="1.3" transform="rotate(29 1012.2 255.8)"/>
<ellipse cx="1009.8" cy="261.6" rx="1.5" ry="1.3" transform="rotate(48 1009.8 261.6)"/>
<ellipse cx="994.8" cy="259.2" rx="2.0" ry="1.2" transform="rotate(19 994.8 259.2)"/>
<ellipse cx="1009.2" cy="266.8" rx="1.2" ry="1.0" transform="rotate(-44 1009.2 266.8)"/>
<ellipse cx="1006.4" cy="264.8" rx="1.5" ry="0.8" transform="rotate(-21 1006.4 264.8)"/>
<ellipse cx="1002.9" cy="264.4" rx="1.3" ry="1.2" transform="rotate(58 1002.9 264.4)"/>
<ellipse cx="1005.5" cy="276.6" rx="1.6" ry="0.7" transform="rotate(42 1005.5 276.6)"/>
<ellipse cx="1008.4" cy="278.9" rx="1.1" ry="0.6" transform="rotate(-60 1008.4 278.9)"/>
<ellipse cx="1011.4" cy="268.1" rx="1.1" ry="1.3" transform="rotate(17 1011.4 268.1)"/>
<ellipse cx="1014.7" cy="273.7" rx="1.0" ry="0.9" transform="rotate(27 1014.7 273.7)"/>
<ellipse cx="1014.7" cy="251.5" rx="1.2" ry="0.8" transform="rotate(-12 1014.7 251.5)"/>
<ellipse cx="1002.2" cy="281.7" rx="1.3" ry="1.1" transform="rotate(-42 1002.2 281.7)"/>
<ellipse cx="1009.2" cy="245.0" rx="1.0" ry="1.0" transform="rotate(-41 1009.2 245.0)"/>
<ellipse cx="1012.1" cy="270.0" rx="0.9" ry="1.1" transform="rotate(9 1012.1 270.0)"/>
<ellipse cx="998.8" cy="247.0" rx="0.8" ry="0.7" transform="rotate(-56 998.8 247.0)"/>
<ellipse cx="995.2" cy="272.2" rx="1.6" ry="1.0" transform="rotate(43 995.2 272.2)"/>
<ellipse cx="1004.0" cy="271.2" rx="1.5" ry="0.6" transform="rotate(-32 1004.0 271.2)"/>
<ellipse cx="1009.5" cy="269.0" rx="0.8" ry="1.0" transform="rotate(-45 1009.5 269.0)"/>
<ellipse cx="997.1" cy="257.8" rx="1.1" ry="0.7" transform="rotate(21 997.1 257.8)"/>
<ellipse cx="1004.3" cy="249.5" rx="1.4" ry="1.0" transform="rotate(44 1004.3 249.5)"/>
<ellipse cx="998.8" cy="246.1" rx="1.1" ry="1.1" transform="rotate(16 998.8 246.1)"/>
<ellipse cx="1005.1" cy="268.3" rx="1.3" ry="0.8" transform="rotate(12 1005.1 268.3)"/>
<ellipse cx="998.8" cy="267.4" rx="0.8" ry="0.7" transform="rotate(13 998.8 267.4)"/>
<ellipse cx="998.4" cy="243.0" rx="1.7" ry="0.8" transform="rotate(-5 998.4 243.0)"/>
<ellipse cx="995.2" cy="267.4" rx="1.2" ry="1.2" transform="rotate(-2 995.2 267.4)"/>
<ellipse cx="1000.5" cy="274.2" rx="1.2" ry="1.3" transform="rotate(-54 1000.5 274.2)"/>
<ellipse cx="1004.0" cy="270.2" rx="1.6" ry="0.7" transform="rotate(-42 1004.0 270.2)"/>
<ellipse cx="998.8" cy="273.7" rx="1.7" ry="0.9" transform="rotate(-25 998.8 273.7)"/>
<ellipse cx="997.5" cy="281.9" rx="1.0" ry="0.6" transform="rotate(46 997.5 281.9)"/>
<ellipse cx="1002.8" cy="268.5" rx="0.9" ry="1.2" transform="rotate(30 1002.8 268.5)"/>
<ellipse cx="1014.3" cy="273.3" rx="1.0" ry="0.9" transform="rotate(13 1014.3 273.3)"/>
<ellipse cx="1019.3" cy="274.6" rx="1.1" ry="0.7" transform="rotate(34 1019.3 274.6)"/>
<ellipse cx="1007.3" cy="269.6" rx="1.5" ry="0.9" transform="rotate(48 1007.3 269.6)"/>
<ellipse cx="1007.0" cy="262.1" rx="0.8" ry="1.0" transform="rotate(-4 1007.0 262.1)"/>
<ellipse cx="1001.8" cy="287.0" rx="1.0" ry="1.1" transform="rotate(-51 1001.8 287.0)"/>
<ellipse cx="1019.0" cy="257.9" rx="1.5" ry="0.8" transform="rotate(27 1019.0 257.9)"/>
<ellipse cx="1014.8" cy="258.9" rx="0.8" ry="1.0" transform="rotate(-43 1014.8 258.9)"/>
<ellipse cx="991.9" cy="261.7" rx="1.8" ry="0.8" transform="rotate(6 991.9 261.7)"/>
<ellipse cx="1004.5" cy="273.0" rx="1.7" ry="1.1" transform="rotate(-20 1004.5 273.0)"/>
<ellipse cx="820.3" cy="416.0" rx="1.2" ry="0.6" transform="rotate(-46 820.3 416.0)"/>
<ellipse cx="719.6" cy="424.0" rx="1.3" ry="0.6" transform="rotate(17 719.6 424.0)"/>
<ellipse cx="803.0" cy="396.0" rx="0.7" ry="0.9" transform="rotate(13 803.0 396.0)"/>
<ellipse cx="729.9" cy="466.3" rx="1.1" ry="0.7" transform="rotate(32 729.9 466.3)"/>
<ellipse cx="878.6" cy="400.2" rx="1.5" ry="0.6" transform="rotate(18 878.6 400.2)"/>
<ellipse cx="806.1" cy="398.1" rx="0.9" ry="0.7" transform="rotate(-18 806.1 398.1)"/>
<ellipse cx="799.1" cy="441.2" rx="1.3" ry="0.7" transform="rotate(41 799.1 441.2)"/>
<ellipse cx="809.7" cy="417.0" rx="0.8" ry="0.6" transform="rotate(-48 809.7 417.0)"/>
<ellipse cx="937.5" cy="371.8" rx="0.8" ry="0.6" transform="rotate(-46 937.5 371.8)"/>
<ellipse cx="734.1" cy="458.2" rx="1.4" ry="0.4" transform="rotate(-29 734.1 458.2)"/>
<ellipse cx="925.3" cy="315.9" rx="1.4" ry="0.6" transform="rotate(-3 925.3 315.9)"/>
<ellipse cx="752.5" cy="416.8" rx="0.9" ry="0.5" transform="rotate(27 752.5 416.8)"/>
<ellipse cx="699.4" cy="477.3" rx="1.3" ry="0.6" transform="rotate(-37 699.4 477.3)"/>
<ellipse cx="727.2" cy="411.5" rx="1.3" ry="0.7" transform="rotate(-58 727.2 411.5)"/>
<ellipse cx="830.5" cy="401.6" rx="0.8" ry="0.4" transform="rotate(-9 830.5 401.6)"/>
<ellipse cx="799.6" cy="452.2" rx="0.9" ry="0.9" transform="rotate(44 799.6 452.2)"/>
<ellipse cx="868.0" cy="338.4" rx="1.3" ry="0.4" transform="rotate(7 868.0 338.4)"/>
<ellipse cx="720.2" cy="416.7" rx="0.9" ry="0.5" transform="rotate(59 720.2 416.7)"/>
<ellipse cx="869.2" cy="407.2" rx="1.5" ry="0.8" transform="rotate(17 869.2 407.2)"/>
<ellipse cx="836.6" cy="414.4" rx="1.2" ry="0.5" transform="rotate(4 836.6 414.4)"/>
<ellipse cx="818.2" cy="400.9" rx="1.2" ry="0.7" transform="rotate(8 818.2 400.9)"/>
<ellipse cx="934.5" cy="364.8" rx="0.6" ry="0.5" transform="rotate(-54 934.5 364.8)"/>
<ellipse cx="739.7" cy="484.0" rx="0.8" ry="0.6" transform="rotate(-4 739.7 484.0)"/>
<ellipse cx="865.0" cy="353.9" rx="1.3" ry="0.6" transform="rotate(41 865.0 353.9)"/>
<ellipse cx="939.1" cy="288.1" rx="1.0" ry="0.4" transform="rotate(46 939.1 288.1)"/>
<ellipse cx="711.5" cy="437.2" rx="1.3" ry="0.7" transform="rotate(20 711.5 437.2)"/>
<ellipse cx="818.0" cy="401.4" rx="0.7" ry="0.6" transform="rotate(-29 818.0 401.4)"/>
<ellipse cx="899.4" cy="319.4" rx="0.6" ry="0.5" transform="rotate(4 899.4 319.4)"/>
<ellipse cx="870.3" cy="326.1" rx="1.5" ry="0.8" transform="rotate(-14 870.3 326.1)"/>
<ellipse cx="739.2" cy="472.2" rx="1.5" ry="0.5" transform="rotate(31 739.2 472.2)"/>
<ellipse cx="943.6" cy="369.9" rx="0.7" ry="0.5" transform="rotate(-40 943.6 369.9)"/>
<ellipse cx="761.7" cy="466.6" rx="1.4" ry="0.6" transform="rotate(-45 761.7 466.6)"/>
<ellipse cx="799.3" cy="386.6" rx="1.1" ry="0.8" transform="rotate(33 799.3 386.6)"/>
<ellipse cx="825.5" cy="391.6" rx="1.0" ry="0.6" transform="rotate(-5 825.5 391.6)"/>
<ellipse cx="902.4" cy="372.2" rx="0.8" ry="0.7" transform="rotate(-43 902.4 372.2)"/>
<ellipse cx="704.0" cy="452.1" rx="0.9" ry="0.4" transform="rotate(-50 704.0 452.1)"/>
<ellipse cx="822.0" cy="437.2" rx="1.3" ry="0.4" transform="rotate(-22 822.0 437.2)"/>
<ellipse cx="804.3" cy="390.1" rx="0.6" ry="0.7" transform="rotate(41 804.3 390.1)"/>
<ellipse cx="808.3" cy="375.8" rx="0.6" ry="0.4" transform="rotate(32 808.3 375.8)"/>
<ellipse cx="761.5" cy="450.8" rx="1.3" ry="0.4" transform="rotate(-37 761.5 450.8)"/>
<ellipse cx="787.8" cy="440.4" rx="1.2" ry="0.6" transform="rotate(-6 787.8 440.4)"/>
<ellipse cx="800.1" cy="406.9" rx="1.3" ry="0.5" transform="rotate(37 800.1 406.9)"/>
<ellipse cx="975.2" cy="322.2" rx="1.5" ry="0.9" transform="rotate(-39 975.2 322.2)"/>
<ellipse cx="997.4" cy="274.0" rx="1.3" ry="0.5" transform="rotate(-24 997.4 274.0)"/>
<ellipse cx="827.1" cy="425.1" rx="1.2" ry="0.5" transform="rotate(48 827.1 425.1)"/>
<ellipse cx="958.3" cy="323.3" rx="0.6" ry="0.5" transform="rotate(-25 958.3 323.3)"/>
<ellipse cx="819.8" cy="438.4" rx="1.1" ry="0.8" transform="rotate(-51 819.8 438.4)"/>
<ellipse cx="766.1" cy="449.0" rx="0.8" ry="0.5" transform="rotate(-52 766.1 449.0)"/>
<ellipse cx="705.8" cy="453.4" rx="1.0" ry="0.6" transform="rotate(8 705.8 453.4)"/>
<ellipse cx="780.2" cy="376.9" rx="1.2" ry="0.6" transform="rotate(-1 780.2 376.9)"/>
<ellipse cx="807.1" cy="384.9" rx="0.6" ry="0.5" transform="rotate(-24 807.1 384.9)"/>
<ellipse cx="725.6" cy="408.1" rx="1.0" ry="0.4" transform="rotate(45 725.6 408.1)"/>
<ellipse cx="801.7" cy="403.5" rx="1.0" ry="0.4" transform="rotate(-48 801.7 403.5)"/>
<ellipse cx="933.5" cy="341.2" rx="1.0" ry="0.6" transform="rotate(30 933.5 341.2)"/>
<ellipse cx="846.0" cy="410.5" rx="1.3" ry="0.8" transform="rotate(27 846.0 410.5)"/>
<ellipse cx="898.9" cy="351.6" rx="1.0" ry="0.7" transform="rotate(3 898.9 351.6)"/>
<ellipse cx="943.9" cy="362.6" rx="0.6" ry="0.8" transform="rotate(14 943.9 362.6)"/>
<ellipse cx="875.5" cy="404.7" rx="0.5" ry="0.6" transform="rotate(-15 875.5 404.7)"/>
<ellipse cx="984.0" cy="278.1" rx="1.1" ry="0.5" transform="rotate(30 984.0 278.1)"/>
<ellipse cx="841.6" cy="407.8" rx="0.8" ry="0.8" transform="rotate(-59 841.6 407.8)"/>
<ellipse cx="759.6" cy="452.7" rx="1.4" ry="0.8" transform="rotate(-27 759.6 452.7)"/>
<ellipse cx="715.1" cy="475.0" rx="1.2" ry="0.4" transform="rotate(52 715.1 475.0)"/>
<ellipse cx="853.6" cy="338.0" rx="1.0" ry="0.6" transform="rotate(-47 853.6 338.0)"/>
<ellipse cx="964.5" cy="358.2" rx="0.6" ry="0.6" transform="rotate(-27 964.5 358.2)"/>
<ellipse cx="898.4" cy="320.3" rx="0.8" ry="0.6" transform="rotate(-3 898.4 320.3)"/>
<ellipse cx="824.9" cy="404.4" rx="1.4" ry="0.9" transform="rotate(49 824.9 404.4)"/>
<ellipse cx="947.0" cy="304.2" rx="0.7" ry="0.6" transform="rotate(17 947.0 304.2)"/>
<ellipse cx="878.0" cy="353.1" rx="1.5" ry="0.6" transform="rotate(-58 878.0 353.1)"/>
<ellipse cx="718.1" cy="428.4" rx="1.2" ry="0.8" transform="rotate(-55 718.1 428.4)"/>
<ellipse cx="763.5" cy="406.4" rx="1.3" ry="0.8" transform="rotate(-28 763.5 406.4)"/>
<ellipse cx="721.7" cy="494.6" rx="1.5" ry="0.8" transform="rotate(-3 721.7 494.6)"/>
<ellipse cx="921.5" cy="366.7" rx="1.0" ry="0.5" transform="rotate(3 921.5 366.7)"/>
<ellipse cx="895.3" cy="341.3" rx="1.1" ry="0.5" transform="rotate(57 895.3 341.3)"/>
<ellipse cx="755.5" cy="409.3" rx="1.5" ry="0.9" transform="rotate(51 755.5 409.3)"/>
<ellipse cx="950.8" cy="358.0" rx="1.3" ry="0.7" transform="rotate(-51 950.8 358.0)"/>
<ellipse cx="916.8" cy="375.5" rx="1.3" ry="0.4" transform="rotate(-53 916.8 375.5)"/>
<ellipse cx="916.5" cy="344.3" rx="1.4" ry="0.9" transform="rotate(-6 916.5 344.3)"/>
<ellipse cx="899.4" cy="369.7" rx="1.2" ry="0.6" transform="rotate(17 899.4 369.7)"/>
<ellipse cx="711.0" cy="494.4" rx="1.2" ry="0.8" transform="rotate(-5 711.0 494.4)"/>
<ellipse cx="753.6" cy="430.6" rx="1.2" ry="0.7" transform="rotate(-47 753.6 430.6)"/>
<ellipse cx="691.2" cy="460.2" rx="0.7" ry="0.5" transform="rotate(-33 691.2 460.2)"/>
<ellipse cx="818.9" cy="416.7" rx="1.4" ry="0.7" transform="rotate(-58 818.9 416.7)"/>
<ellipse cx="959.0" cy="331.9" rx="1.2" ry="0.7" transform="rotate(-17 959.0 331.9)"/>
<ellipse cx="795.2" cy="373.6" rx="1.2" ry="0.4" transform="rotate(22 795.2 373.6)"/>
<ellipse cx="972.4" cy="329.8" rx="1.1" ry="0.8" transform="rotate(55 972.4 329.8)"/>
<ellipse cx="941.9" cy="375.6" rx="1.0" ry="0.4" transform="rotate(14 941.9 375.6)"/>
<ellipse cx="887.9" cy="393.8" rx="1.1" ry="0.6" transform="rotate(-59 887.9 393.8)"/>
<ellipse cx="947.5" cy="339.6" rx="1.5" ry="0.7" transform="rotate(42 947.5 339.6)"/>
<ellipse cx="929.4" cy="382.5" rx="1.0" ry="0.8" transform="rotate(-12 929.4 382.5)"/>
<ellipse cx="693.5" cy="452.4" rx="0.9" ry="0.9" transform="rotate(-13 693.5 452.4)"/>
<ellipse cx="775.2" cy="440.3" rx="0.6" ry="0.6" transform="rotate(-13 775.2 440.3)"/>
<ellipse cx="728.5" cy="457.6" rx="0.9" ry="0.8" transform="rotate(-19 728.5 457.6)"/>
<ellipse cx="993.0" cy="276.0" rx="1.0" ry="0.5" transform="rotate(-58 993.0 276.0)"/>
<ellipse cx="783.5" cy="454.2" rx="0.8" ry="0.6" transform="rotate(3 783.5 454.2)"/>
<ellipse cx="772.5" cy="427.8" rx="0.6" ry="0.6" transform="rotate(-26 772.5 427.8)"/>
<ellipse cx="942.8" cy="355.3" rx="1.2" ry="0.7" transform="rotate(44 942.8 355.3)"/>
<ellipse cx="919.7" cy="303.6" rx="0.6" ry="0.8" transform="rotate(41 919.7 303.6)"/>
<ellipse cx="996.7" cy="326.1" rx="0.7" ry="0.7" transform="rotate(15 996.7 326.1)"/>
<ellipse cx="877.5" cy="334.0" rx="1.5" ry="0.7" transform="rotate(-28 877.5 334.0)"/>
<ellipse cx="994.1" cy="292.4" rx="0.6" ry="0.7" transform="rotate(-29 994.1 292.4)"/>
<ellipse cx="757.6" cy="415.0" rx="1.1" ry="0.6" transform="rotate(20 757.6 415.0)"/>
<ellipse cx="970.6" cy="359.8" rx="1.4" ry="0.9" transform="rotate(-30 970.6 359.8)"/>
<ellipse cx="945.4" cy="292.6" rx="1.1" ry="0.4" transform="rotate(-48 945.4 292.6)"/>
<ellipse cx="984.1" cy="274.7" rx="1.2" ry="0.7" transform="rotate(-60 984.1 274.7)"/>
<ellipse cx="935.9" cy="295.2" rx="1.4" ry="0.8" transform="rotate(-0 935.9 295.2)"/>
<ellipse cx="828.4" cy="351.4" rx="1.2" ry="0.4" transform="rotate(3 828.4 351.4)"/>
<ellipse cx="976.9" cy="328.2" rx="0.6" ry="0.8" transform="rotate(24 976.9 328.2)"/>
<ellipse cx="792.1" cy="438.3" rx="1.1" ry="0.6" transform="rotate(3 792.1 438.3)"/>
<ellipse cx="775.5" cy="403.8" rx="1.4" ry="0.6" transform="rotate(33 775.5 403.8)"/>
<ellipse cx="803.7" cy="379.6" rx="0.5" ry="0.9" transform="rotate(30 803.7 379.6)"/>
<ellipse cx="994.4" cy="310.6" rx="0.6" ry="0.5" transform="rotate(-54 994.4 310.6)"/>
<ellipse cx="879.8" cy="376.6" rx="1.5" ry="0.5" transform="rotate(-32 879.8 376.6)"/>
<ellipse cx="758.6" cy="400.5" rx="0.5" ry="0.6" transform="rotate(-10 758.6 400.5)"/>
<ellipse cx="804.1" cy="447.9" rx="0.8" ry="0.8" transform="rotate(4 804.1 447.9)"/>
<ellipse cx="721.9" cy="410.1" rx="1.1" ry="0.8" transform="rotate(-54 721.9 410.1)"/>
<ellipse cx="907.6" cy="326.2" rx="1.2" ry="0.8" transform="rotate(27 907.6 326.2)"/>
<ellipse cx="765.8" cy="397.3" rx="1.5" ry="0.9" transform="rotate(51 765.8 397.3)"/>
<ellipse cx="857.7" cy="337.4" rx="0.9" ry="0.9" transform="rotate(-52 857.7 337.4)"/>
<ellipse cx="781.5" cy="378.5" rx="1.4" ry="0.6" transform="rotate(-50 781.5 378.5)"/>
<ellipse cx="800.4" cy="382.6" rx="0.9" ry="0.7" transform="rotate(19 800.4 382.6)"/>
<ellipse cx="771.3" cy="489.9" rx="0.5" ry="0.6" transform="rotate(0 771.3 489.9)"/>
<ellipse cx="759.4" cy="469.8" rx="1.1" ry="0.5" transform="rotate(0 759.4 469.8)"/>
<ellipse cx="732.8" cy="495.4" rx="0.5" ry="0.7" transform="rotate(0 732.8 495.4)"/>
<ellipse cx="730.3" cy="474.9" rx="1.2" ry="0.7" transform="rotate(0 730.3 474.9)"/>
<ellipse cx="756.8" cy="489.2" rx="0.8" ry="0.5" transform="rotate(0 756.8 489.2)"/>
<ellipse cx="748.5" cy="478.0" rx="1.0" ry="0.6" transform="rotate(0 748.5 478.0)"/>
<ellipse cx="762.7" cy="482.2" rx="1.2" ry="0.8" transform="rotate(0 762.7 482.2)"/>
<ellipse cx="766.7" cy="470.5" rx="1.2" ry="0.5" transform="rotate(0 766.7 470.5)"/>
<ellipse cx="749.3" cy="447.0" rx="0.6" ry="0.4" transform="rotate(0 749.3 447.0)"/>
<ellipse cx="759.7" cy="484.2" rx="1.1" ry="0.7" transform="rotate(0 759.7 484.2)"/>
<ellipse cx="747.2" cy="481.0" rx="0.9" ry="0.5" transform="rotate(0 747.2 481.0)"/>
<ellipse cx="769.3" cy="494.0" rx="1.0" ry="0.8" transform="rotate(0 769.3 494.0)"/>
<ellipse cx="759.0" cy="473.3" rx="0.7" ry="0.5" transform="rotate(0 759.0 473.3)"/>
<ellipse cx="751.2" cy="480.2" rx="1.1" ry="0.7" transform="rotate(0 751.2 480.2)"/>
<ellipse cx="761.7" cy="464.9" rx="1.1" ry="0.8" transform="rotate(0 761.7 464.9)"/>
<ellipse cx="768.8" cy="457.7" rx="0.7" ry="0.6" transform="rotate(0 768.8 457.7)"/>
<ellipse cx="780.5" cy="488.2" rx="0.8" ry="0.9" transform="rotate(0 780.5 488.2)"/>
<ellipse cx="750.8" cy="494.4" rx="1.1" ry="0.9" transform="rotate(0 750.8 494.4)"/>
<ellipse cx="756.4" cy="451.1" rx="1.1" ry="0.5" transform="rotate(0 756.4 451.1)"/>
<ellipse cx="750.7" cy="476.6" rx="1.0" ry="0.9" transform="rotate(0 750.7 476.6)"/>
<ellipse cx="746.0" cy="479.7" rx="0.9" ry="0.4" transform="rotate(0 746.0 479.7)"/>
<ellipse cx="748.7" cy="481.4" rx="0.8" ry="0.8" transform="rotate(0 748.7 481.4)"/>
<ellipse cx="752.9" cy="452.6" rx="0.8" ry="0.6" transform="rotate(0 752.9 452.6)"/>
<ellipse cx="781.6" cy="488.4" rx="0.9" ry="0.6" transform="rotate(0 781.6 488.4)"/>
<ellipse cx="765.8" cy="492.3" rx="0.5" ry="0.5" transform="rotate(0 765.8 492.3)"/>
<ellipse cx="769.8" cy="487.0" rx="0.6" ry="0.8" transform="rotate(0 769.8 487.0)"/>
<ellipse cx="730.2" cy="462.1" rx="0.9" ry="0.5" transform="rotate(0 730.2 462.1)"/>
<ellipse cx="750.0" cy="506.4" rx="0.9" ry="0.7" transform="rotate(0 750.0 506.4)"/>
<ellipse cx="751.6" cy="476.7" rx="0.6" ry="0.6" transform="rotate(0 751.6 476.7)"/>
<ellipse cx="776.4" cy="452.2" rx="0.9" ry="0.5" transform="rotate(0 776.4 452.2)"/>
<ellipse cx="774.6" cy="485.2" rx="0.8" ry="0.9" transform="rotate(0 774.6 485.2)"/>
<ellipse cx="757.9" cy="489.1" rx="0.5" ry="0.4" transform="rotate(0 757.9 489.1)"/>
<ellipse cx="766.4" cy="453.5" rx="0.6" ry="0.4" transform="rotate(0 766.4 453.5)"/>
<ellipse cx="744.3" cy="475.1" rx="0.9" ry="0.9" transform="rotate(0 744.3 475.1)"/>
<ellipse cx="754.8" cy="468.7" rx="0.9" ry="0.5" transform="rotate(0 754.8 468.7)"/>
<ellipse cx="755.7" cy="469.2" rx="1.1" ry="0.7" transform="rotate(0 755.7 469.2)"/>
<ellipse cx="766.5" cy="471.9" rx="1.2" ry="0.7" transform="rotate(0 766.5 471.9)"/>
<ellipse cx="753.9" cy="500.2" rx="0.7" ry="0.5" transform="rotate(0 753.9 500.2)"/>
<ellipse cx="776.3" cy="484.7" rx="0.7" ry="0.5" transform="rotate(0 776.3 484.7)"/>
<ellipse cx="756.5" cy="472.4" rx="1.0" ry="0.5" transform="rotate(0 756.5 472.4)"/>
<ellipse cx="886.8" cy="254.6" rx="1.2" ry="0.8" transform="rotate(0 886.8 254.6)"/>
<ellipse cx="921.2" cy="227.7" rx="1.3" ry="0.7" transform="rotate(0 921.2 227.7)"/>
<ellipse cx="895.8" cy="223.9" rx="0.8" ry="0.7" transform="rotate(0 895.8 223.9)"/>
<ellipse cx="905.3" cy="250.1" rx="1.3" ry="0.8" transform="rotate(0 905.3 250.1)"/>
<ellipse cx="905.4" cy="233.3" rx="0.8" ry="0.6" transform="rotate(0 905.4 233.3)"/>
<ellipse cx="913.6" cy="215.5" rx="1.0" ry="0.7" transform="rotate(0 913.6 215.5)"/>
<ellipse cx="887.9" cy="223.1" rx="1.0" ry="0.7" transform="rotate(0 887.9 223.1)"/>
<ellipse cx="905.5" cy="237.2" rx="0.9" ry="0.8" transform="rotate(0 905.5 237.2)"/>
<ellipse cx="914.4" cy="226.2" rx="1.0" ry="0.7" transform="rotate(0 914.4 226.2)"/>
<ellipse cx="897.8" cy="232.5" rx="1.2" ry="0.4" transform="rotate(0 897.8 232.5)"/>
<ellipse cx="906.3" cy="241.2" rx="0.7" ry="0.5" transform="rotate(0 906.3 241.2)"/>
<ellipse cx="917.8" cy="238.2" rx="0.7" ry="0.7" transform="rotate(0 917.8 238.2)"/>
<ellipse cx="891.4" cy="218.5" rx="0.9" ry="0.7" transform="rotate(0 891.4 218.5)"/>
<ellipse cx="901.2" cy="245.0" rx="1.1" ry="0.5" transform="rotate(0 901.2 245.0)"/>
<ellipse cx="903.3" cy="211.5" rx="1.4" ry="0.7" transform="rotate(0 903.3 211.5)"/>
<ellipse cx="885.4" cy="222.8" rx="0.8" ry="0.6" transform="rotate(0 885.4 222.8)"/>
<ellipse cx="887.2" cy="239.4" rx="1.1" ry="0.5" transform="rotate(0 887.2 239.4)"/>
<ellipse cx="937.6" cy="218.7" rx="0.9" ry="0.9" transform="rotate(0 937.6 218.7)"/>
<ellipse cx="896.4" cy="220.5" rx="0.6" ry="0.4" transform="rotate(0 896.4 220.5)"/>
<ellipse cx="888.9" cy="217.9" rx="1.1" ry="0.8" transform="rotate(0 888.9 217.9)"/>
<ellipse cx="886.8" cy="239.0" rx="1.0" ry="0.7" transform="rotate(0 886.8 239.0)"/>
<ellipse cx="888.0" cy="223.8" rx="1.0" ry="0.4" transform="rotate(0 888.0 223.8)"/>
<ellipse cx="896.5" cy="210.5" rx="0.9" ry="0.9" transform="rotate(0 896.5 210.5)"/>
<ellipse cx="897.8" cy="231.0" rx="1.0" ry="0.6" transform="rotate(0 897.8 231.0)"/>
<ellipse cx="917.7" cy="255.3" rx="0.7" ry="0.8" transform="rotate(0 917.7 255.3)"/>
<ellipse cx="912.0" cy="244.8" rx="1.4" ry="0.4" transform="rotate(0 912.0 244.8)"/>
<ellipse cx="905.8" cy="228.8" rx="1.4" ry="0.9" transform="rotate(0 905.8 228.8)"/>
<ellipse cx="888.8" cy="236.4" rx="0.9" ry="0.5" transform="rotate(0 888.8 236.4)"/>
<ellipse cx="897.0" cy="241.9" rx="1.3" ry="0.5" transform="rotate(0 897.0 241.9)"/>
<ellipse cx="891.9" cy="226.2" rx="1.0" ry="0.8" transform="rotate(0 891.9 226.2)"/>
<ellipse cx="849.2" cy="700.4" rx="1.5" ry="0.7" transform="rotate(-27 849.2 700.4)"/>
<ellipse cx="822.7" cy="699.7" rx="0.5" ry="0.7" transform="rotate(-1 822.7 699.7)"/>
<ellipse cx="861.9" cy="710.2" rx="0.7" ry="0.6" transform="rotate(-9 861.9 710.2)"/>
<ellipse cx="851.0" cy="700.7" rx="1.1" ry="0.6" transform="rotate(35 851.0 700.7)"/>
<ellipse cx="870.4" cy="698.8" rx="1.5" ry="0.7" transform="rotate(-20 870.4 698.8)"/>
<ellipse cx="864.0" cy="719.2" rx="0.9" ry="0.7" transform="rotate(-29 864.0 719.2)"/>
<ellipse cx="876.0" cy="699.6" rx="1.4" ry="0.6" transform="rotate(-12 876.0 699.6)"/>
<ellipse cx="841.4" cy="699.9" rx="1.0" ry="0.7" transform="rotate(54 841.4 699.9)"/>
<ellipse cx="864.6" cy="701.0" rx="1.5" ry="0.4" transform="rotate(-54 864.6 701.0)"/>
<ellipse cx="872.4" cy="698.4" rx="0.5" ry="0.5" transform="rotate(-1 872.4 698.4)"/>
<ellipse cx="867.4" cy="703.5" rx="0.7" ry="0.4" transform="rotate(-54 867.4 703.5)"/>
<ellipse cx="854.8" cy="714.6" rx="1.5" ry="0.7" transform="rotate(43 854.8 714.6)"/>
<ellipse cx="824.3" cy="694.3" rx="1.2" ry="0.5" transform="rotate(-15 824.3 694.3)"/>
<ellipse cx="854.5" cy="705.6" rx="1.4" ry="0.6" transform="rotate(-36 854.5 705.6)"/>
<ellipse cx="825.3" cy="705.9" rx="0.8" ry="0.7" transform="rotate(-49 825.3 705.9)"/>
<ellipse cx="865.8" cy="710.8" rx="1.0" ry="0.7" transform="rotate(-33 865.8 710.8)"/>
<ellipse cx="854.0" cy="693.9" rx="1.3" ry="0.9" transform="rotate(-20 854.0 693.9)"/>
<ellipse cx="889.2" cy="704.8" rx="1.0" ry="0.5" transform="rotate(-50 889.2 704.8)"/>
<ellipse cx="858.7" cy="701.7" rx="0.5" ry="0.4" transform="rotate(5 858.7 701.7)"/>
<ellipse cx="870.7" cy="711.6" rx="1.3" ry="0.6" transform="rotate(-42 870.7 711.6)"/>
<ellipse cx="834.4" cy="678.6" rx="1.1" ry="0.6" transform="rotate(5 834.4 678.6)"/>
<ellipse cx="852.7" cy="688.6" rx="1.3" ry="0.5" transform="rotate(34 852.7 688.6)"/>
<ellipse cx="874.2" cy="707.9" rx="1.0" ry="0.5" transform="rotate(7 874.2 707.9)"/>
<ellipse cx="853.8" cy="726.1" rx="0.9" ry="0.8" transform="rotate(53 853.8 726.1)"/>
<ellipse cx="829.0" cy="709.5" rx="1.0" ry="0.6" transform="rotate(-45 829.0 709.5)"/>
<ellipse cx="838.0" cy="687.9" rx="1.2" ry="0.6" transform="rotate(3 838.0 687.9)"/>
<ellipse cx="851.4" cy="712.0" rx="1.3" ry="0.4" transform="rotate(-2 851.4 712.0)"/>
<ellipse cx="852.6" cy="704.6" rx="1.2" ry="0.5" transform="rotate(-12 852.6 704.6)"/>
<ellipse cx="865.4" cy="717.1" rx="0.9" ry="0.7" transform="rotate(-9 865.4 717.1)"/>
<ellipse cx="870.8" cy="693.9" rx="0.6" ry="0.6" transform="rotate(-30 870.8 693.9)"/>
<ellipse cx="849.1" cy="725.9" rx="1.0" ry="0.8" transform="rotate(-41 849.1 725.9)"/>
<ellipse cx="857.4" cy="701.7" rx="0.7" ry="0.5" transform="rotate(-57 857.4 701.7)"/>
<ellipse cx="912.5" cy="692.2" rx="0.9" ry="0.4" transform="rotate(28 912.5 692.2)"/>
<ellipse cx="861.5" cy="702.7" rx="1.3" ry="0.4" transform="rotate(-32 861.5 702.7)"/>
<ellipse cx="871.7" cy="689.9" rx="0.7" ry="0.7" transform="rotate(36 871.7 689.9)"/>
<ellipse cx="843.6" cy="698.3" rx="0.7" ry="0.4" transform="rotate(-37 843.6 698.3)"/>
<ellipse cx="835.7" cy="703.1" rx="1.0" ry="0.7" transform="rotate(8 835.7 703.1)"/>
<ellipse cx="851.2" cy="697.7" rx="1.3" ry="0.7" transform="rotate(46 851.2 697.7)"/>
<ellipse cx="906.1" cy="703.5" rx="1.3" ry="0.7" transform="rotate(6 906.1 703.5)"/>
<ellipse cx="865.2" cy="709.2" rx="1.2" ry="0.5" transform="rotate(13 865.2 709.2)"/>
<ellipse cx="836.4" cy="701.2" rx="0.9" ry="0.5" transform="rotate(-24 836.4 701.2)"/>
<ellipse cx="850.0" cy="687.3" rx="0.8" ry="0.6" transform="rotate(-6 850.0 687.3)"/>
<ellipse cx="836.9" cy="710.5" rx="1.3" ry="0.8" transform="rotate(37 836.9 710.5)"/>
<ellipse cx="856.0" cy="681.2" rx="0.9" ry="0.6" transform="rotate(18 856.0 681.2)"/>
<ellipse cx="848.8" cy="720.6" rx="0.9" ry="0.7" transform="rotate(2 848.8 720.6)"/>
<ellipse cx="862.9" cy="706.0" rx="0.8" ry="0.6" transform="rotate(54 862.9 706.0)"/>
<ellipse cx="895.9" cy="719.7" rx="1.5" ry="0.8" transform="rotate(-26 895.9 719.7)"/>
<ellipse cx="910.0" cy="707.2" rx="0.6" ry="0.5" transform="rotate(53 910.0 707.2)"/>
<ellipse cx="846.1" cy="690.1" rx="1.3" ry="0.5" transform="rotate(1 846.1 690.1)"/>
<ellipse cx="882.8" cy="709.9" rx="1.0" ry="0.8" transform="rotate(-25 882.8 709.9)"/>
<ellipse cx="858.9" cy="700.7" rx="0.8" ry="0.4" transform="rotate(10 858.9 700.7)"/>
<ellipse cx="835.2" cy="697.7" rx="0.9" ry="0.9" transform="rotate(27 835.2 697.7)"/>
<ellipse cx="824.3" cy="697.4" rx="0.7" ry="0.5" transform="rotate(6 824.3 697.4)"/>
<ellipse cx="820.5" cy="691.9" rx="1.2" ry="0.4" transform="rotate(53 820.5 691.9)"/>
<ellipse cx="850.4" cy="706.2" rx="1.3" ry="0.7" transform="rotate(43 850.4 706.2)"/>
<ellipse cx="849.0" cy="702.8" rx="1.0" ry="0.6" transform="rotate(-18 849.0 702.8)"/>
<ellipse cx="854.1" cy="702.5" rx="0.8" ry="0.5" transform="rotate(-57 854.1 702.5)"/>
<ellipse cx="829.5" cy="702.7" rx="0.9" ry="0.9" transform="rotate(13 829.5 702.7)"/>
<ellipse cx="855.2" cy="698.8" rx="1.4" ry="0.6" transform="rotate(41 855.2 698.8)"/>
<ellipse cx="867.0" cy="727.2" rx="1.2" ry="0.5" transform="rotate(28 867.0 727.2)"/>
<ellipse cx="877.1" cy="712.4" rx="0.9" ry="0.6" transform="rotate(-17 877.1 712.4)"/>
<ellipse cx="876.8" cy="712.7" rx="0.6" ry="0.8" transform="rotate(-18 876.8 712.7)"/>
<ellipse cx="859.5" cy="695.8" rx="1.5" ry="0.8" transform="rotate(25 859.5 695.8)"/>
<ellipse cx="891.3" cy="688.2" rx="1.4" ry="0.6" transform="rotate(11 891.3 688.2)"/>
<ellipse cx="884.0" cy="708.6" rx="0.8" ry="0.7" transform="rotate(-59 884.0 708.6)"/>
<ellipse cx="865.2" cy="701.5" rx="0.9" ry="0.6" transform="rotate(41 865.2 701.5)"/>
<ellipse cx="856.6" cy="701.2" rx="1.2" ry="0.5" transform="rotate(14 856.6 701.2)"/>
<ellipse cx="818.0" cy="716.6" rx="0.9" ry="0.5" transform="rotate(-23 818.0 716.6)"/>
<ellipse cx="884.6" cy="702.8" rx="0.7" ry="0.7" transform="rotate(20 884.6 702.8)"/>
<ellipse cx="873.3" cy="703.7" rx="0.8" ry="0.8" transform="rotate(-1 873.3 703.7)"/>
<ellipse cx="853.1" cy="692.4" rx="0.6" ry="0.4" transform="rotate(-39 853.1 692.4)"/>
<ellipse cx="860.4" cy="710.4" rx="0.8" ry="0.5" transform="rotate(-57 860.4 710.4)"/>
<ellipse cx="828.4" cy="702.7" rx="0.7" ry="0.4" transform="rotate(27 828.4 702.7)"/>
<ellipse cx="875.6" cy="707.4" rx="1.0" ry="0.5" transform="rotate(34 875.6 707.4)"/>
<ellipse cx="838.2" cy="704.6" rx="0.9" ry="0.4" transform="rotate(38 838.2 704.6)"/>
<ellipse cx="833.3" cy="715.8" rx="0.6" ry="0.6" transform="rotate(5 833.3 715.8)"/>
<ellipse cx="869.9" cy="707.9" rx="1.4" ry="0.9" transform="rotate(60 869.9 707.9)"/>
<ellipse cx="830.6" cy="701.0" rx="1.1" ry="0.6" transform="rotate(-39 830.6 701.0)"/>
<ellipse cx="850.1" cy="697.4" rx="1.2" ry="0.4" transform="rotate(-25 850.1 697.4)"/>
<ellipse cx="893.3" cy="714.9" rx="1.0" ry="0.5" transform="rotate(34 893.3 714.9)"/>
<ellipse cx="846.9" cy="704.0" rx="0.9" ry="0.4" transform="rotate(-53 846.9 704.0)"/>
<ellipse cx="919.7" cy="710.3" rx="1.4" ry="0.7" transform="rotate(53 919.7 710.3)"/>
<ellipse cx="832.7" cy="701.7" rx="0.6" ry="0.6" transform="rotate(13 832.7 701.7)"/>
<ellipse cx="838.1" cy="712.1" rx="0.8" ry="0.7" transform="rotate(-35 838.1 712.1)"/>
<ellipse cx="841.8" cy="705.6" rx="1.0" ry="0.4" transform="rotate(-31 841.8 705.6)"/>
<ellipse cx="862.2" cy="699.7" rx="1.0" ry="0.9" transform="rotate(13 862.2 699.7)"/>
<ellipse cx="861.2" cy="689.6" rx="1.5" ry="0.6" transform="rotate(-13 861.2 689.6)"/>
<ellipse cx="865.2" cy="703.0" rx="1.0" ry="0.5" transform="rotate(7 865.2 703.0)"/>
<ellipse cx="860.2" cy="687.2" rx="1.0" ry="0.7" transform="rotate(-50 860.2 687.2)"/>
<ellipse cx="837.7" cy="687.5" rx="1.1" ry="0.6" transform="rotate(1 837.7 687.5)"/>
<ellipse cx="853.3" cy="708.0" rx="0.7" ry="0.8" transform="rotate(2 853.3 708.0)"/>
<ellipse cx="894.5" cy="708.0" rx="1.3" ry="0.7" transform="rotate(-38 894.5 708.0)"/>
<ellipse cx="878.3" cy="703.3" rx="1.0" ry="0.6" transform="rotate(-40 878.3 703.3)"/>
<ellipse cx="863.5" cy="710.7" rx="0.7" ry="0.4" transform="rotate(17 863.5 710.7)"/>
<ellipse cx="856.6" cy="699.1" rx="1.5" ry="0.6" transform="rotate(-5 856.6 699.1)"/>
<ellipse cx="893.6" cy="699.3" rx="1.0" ry="0.8" transform="rotate(29 893.6 699.3)"/>
<ellipse cx="862.0" cy="708.2" rx="1.2" ry="0.8" transform="rotate(12 862.0 708.2)"/>
<ellipse cx="891.9" cy="715.0" rx="0.7" ry="0.8" transform="rotate(15 891.9 715.0)"/>
<ellipse cx="859.3" cy="702.3" rx="0.9" ry="0.8" transform="rotate(-47 859.3 702.3)"/>
<ellipse cx="887.1" cy="707.2" rx="1.4" ry="0.7" transform="rotate(-32 887.1 707.2)"/>
<ellipse cx="901.5" cy="713.4" rx="1.3" ry="0.8" transform="rotate(-35 901.5 713.4)"/>
<ellipse cx="865.0" cy="703.7" rx="0.7" ry="0.6" transform="rotate(55 865.0 703.7)"/>
<ellipse cx="877.7" cy="706.2" rx="1.2" ry="0.8" transform="rotate(-28 877.7 706.2)"/>
<ellipse cx="903.3" cy="713.1" rx="1.5" ry="0.9" transform="rotate(8 903.3 713.1)"/>
<ellipse cx="896.1" cy="712.5" rx="1.1" ry="0.8" transform="rotate(31 896.1 712.5)"/>
<ellipse cx="804.7" cy="704.6" rx="1.0" ry="0.6" transform="rotate(16 804.7 704.6)"/>
<ellipse cx="872.0" cy="693.4" rx="1.4" ry="0.5" transform="rotate(48 872.0 693.4)"/>
<ellipse cx="879.6" cy="699.3" rx="0.5" ry="0.7" transform="rotate(14 879.6 699.3)"/>
<ellipse cx="892.2" cy="702.1" rx="1.2" ry="0.8" transform="rotate(-40 892.2 702.1)"/>
<ellipse cx="853.2" cy="696.6" rx="0.7" ry="0.5" transform="rotate(-16 853.2 696.6)"/>
<ellipse cx="862.3" cy="693.6" rx="0.8" ry="0.4" transform="rotate(34 862.3 693.6)"/>
<ellipse cx="866.0" cy="687.9" rx="1.3" ry="0.4" transform="rotate(-26 866.0 687.9)"/>
<ellipse cx="847.0" cy="706.8" rx="1.3" ry="0.5" transform="rotate(-58 847.0 706.8)"/>
<ellipse cx="858.2" cy="705.9" rx="0.5" ry="0.7" transform="rotate(13 858.2 705.9)"/>
<ellipse cx="856.9" cy="704.1" rx="1.1" ry="0.7" transform="rotate(-23 856.9 704.1)"/>
<ellipse cx="867.2" cy="710.2" rx="1.0" ry="0.6" transform="rotate(10 867.2 710.2)"/>
<ellipse cx="856.9" cy="698.6" rx="1.1" ry="0.5" transform="rotate(29 856.9 698.6)"/>
<ellipse cx="873.4" cy="716.6" rx="1.2" ry="0.8" transform="rotate(4 873.4 716.6)"/>
<ellipse cx="919.8" cy="691.2" rx="1.3" ry="0.6" transform="rotate(-28 919.8 691.2)"/>
<ellipse cx="856.9" cy="701.6" rx="0.7" ry="0.4" transform="rotate(18 856.9 701.6)"/>
<ellipse cx="904.9" cy="720.6" rx="1.3" ry="0.7" transform="rotate(-19 904.9 720.6)"/>
<ellipse cx="920.6" cy="704.1" rx="0.6" ry="0.8" transform="rotate(-24 920.6 704.1)"/>
<ellipse cx="950.0" cy="702.0" rx="0.9" ry="0.8" transform="rotate(-6 950.0 702.0)"/>
<ellipse cx="926.0" cy="698.9" rx="1.0" ry="0.7" transform="rotate(-57 926.0 698.9)"/>
<ellipse cx="929.9" cy="693.7" rx="1.2" ry="0.4" transform="rotate(-51 929.9 693.7)"/>
<ellipse cx="937.1" cy="712.8" rx="1.4" ry="0.9" transform="rotate(4 937.1 712.8)"/>
<ellipse cx="936.6" cy="713.2" rx="1.0" ry="0.8" transform="rotate(16 936.6 713.2)"/>
<ellipse cx="916.4" cy="696.5" rx="0.6" ry="0.4" transform="rotate(-8 916.4 696.5)"/>
<ellipse cx="916.0" cy="733.7" rx="0.5" ry="0.8" transform="rotate(-46 916.0 733.7)"/>
<ellipse cx="940.0" cy="719.1" rx="0.7" ry="0.7" transform="rotate(10 940.0 719.1)"/>
<ellipse cx="914.5" cy="707.7" rx="0.6" ry="0.7" transform="rotate(-15 914.5 707.7)"/>
<ellipse cx="907.1" cy="684.7" rx="0.6" ry="0.6" transform="rotate(-18 907.1 684.7)"/>
<ellipse cx="934.7" cy="691.9" rx="0.7" ry="0.6" transform="rotate(-58 934.7 691.9)"/>
<ellipse cx="918.2" cy="699.5" rx="0.6" ry="0.7" transform="rotate(5 918.2 699.5)"/>
<ellipse cx="925.1" cy="718.0" rx="0.8" ry="0.8" transform="rotate(-54 925.1 718.0)"/>
<ellipse cx="927.9" cy="687.2" rx="0.7" ry="0.5" transform="rotate(15 927.9 687.2)"/>
<ellipse cx="940.2" cy="717.4" rx="0.7" ry="0.6" transform="rotate(-51 940.2 717.4)"/>
<ellipse cx="897.4" cy="709.7" rx="0.7" ry="0.5" transform="rotate(6 897.4 709.7)"/>
<ellipse cx="918.5" cy="694.0" rx="0.7" ry="0.7" transform="rotate(-31 918.5 694.0)"/>
<ellipse cx="937.2" cy="703.7" rx="1.4" ry="0.8" transform="rotate(43 937.2 703.7)"/>
<ellipse cx="924.0" cy="711.7" rx="1.1" ry="0.7" transform="rotate(15 924.0 711.7)"/>
<ellipse cx="915.1" cy="696.7" rx="0.7" ry="0.4" transform="rotate(-53 915.1 696.7)"/>
<ellipse cx="918.3" cy="697.1" rx="1.4" ry="0.9" transform="rotate(-42 918.3 697.1)"/>
<ellipse cx="935.7" cy="695.8" rx="0.5" ry="0.6" transform="rotate(-17 935.7 695.8)"/>
<ellipse cx="920.6" cy="704.9" rx="0.7" ry="0.4" transform="rotate(-6 920.6 704.9)"/>
<ellipse cx="914.8" cy="701.2" rx="1.4" ry="0.8" transform="rotate(-0 914.8 701.2)"/>
<ellipse cx="925.0" cy="687.6" rx="1.3" ry="0.8" transform="rotate(-18 925.0 687.6)"/>
<ellipse cx="921.4" cy="687.0" rx="0.7" ry="0.6" transform="rotate(-46 921.4 687.0)"/>
<ellipse cx="920.5" cy="689.6" rx="1.0" ry="0.8" transform="rotate(12 920.5 689.6)"/>
<ellipse cx="935.5" cy="687.8" rx="1.2" ry="0.8" transform="rotate(23 935.5 687.8)"/>
<ellipse cx="933.7" cy="690.8" rx="1.2" ry="0.7" transform="rotate(4 933.7 690.8)"/>
<ellipse cx="929.9" cy="695.7" rx="0.7" ry="0.7" transform="rotate(-23 929.9 695.7)"/>
<ellipse cx="918.8" cy="680.6" rx="0.5" ry="0.5" transform="rotate(14 918.8 680.6)"/>
<ellipse cx="910.0" cy="712.8" rx="1.0" ry="0.5" transform="rotate(23 910.0 712.8)"/>
<ellipse cx="926.3" cy="699.0" rx="1.1" ry="0.7" transform="rotate(14 926.3 699.0)"/>
<ellipse cx="910.1" cy="699.4" rx="1.5" ry="0.8" transform="rotate(-8 910.1 699.4)"/>
<ellipse cx="927.7" cy="680.8" rx="1.3" ry="0.9" transform="rotate(-51 927.7 680.8)"/>
<ellipse cx="923.7" cy="709.9" rx="1.3" ry="0.9" transform="rotate(-33 923.7 709.9)"/>
<ellipse cx="901.1" cy="702.7" rx="1.2" ry="0.7" transform="rotate(47 901.1 702.7)"/>
<ellipse cx="925.9" cy="697.2" rx="1.5" ry="0.5" transform="rotate(14 925.9 697.2)"/>
<ellipse cx="922.2" cy="688.3" rx="0.8" ry="0.9" transform="rotate(35 922.2 688.3)"/>
<ellipse cx="926.4" cy="699.1" rx="1.1" ry="0.8" transform="rotate(55 926.4 699.1)"/>
<ellipse cx="920.8" cy="688.8" rx="0.6" ry="0.5" transform="rotate(-29 920.8 688.8)"/>
<ellipse cx="914.0" cy="694.7" rx="0.6" ry="0.4" transform="rotate(22 914.0 694.7)"/>
<ellipse cx="924.0" cy="693.4" rx="1.0" ry="0.9" transform="rotate(-17 924.0 693.4)"/>
<ellipse cx="904.2" cy="694.5" rx="0.5" ry="0.8" transform="rotate(33 904.2 694.5)"/>
<ellipse cx="921.2" cy="687.2" rx="1.0" ry="0.9" transform="rotate(-53 921.2 687.2)"/>
<ellipse cx="934.4" cy="709.9" rx="1.5" ry="0.5" transform="rotate(-37 934.4 709.9)"/>
<ellipse cx="904.9" cy="706.1" rx="1.1" ry="0.7" transform="rotate(-54 904.9 706.1)"/>
<ellipse cx="926.2" cy="717.7" rx="1.2" ry="0.4" transform="rotate(-49 926.2 717.7)"/>
<ellipse cx="917.9" cy="713.3" rx="0.8" ry="0.5" transform="rotate(-51 917.9 713.3)"/>
<ellipse cx="906.9" cy="672.5" rx="1.1" ry="0.9" transform="rotate(-45 906.9 672.5)"/>
<ellipse cx="914.9" cy="691.1" rx="1.3" ry="0.7" transform="rotate(14 914.9 691.1)"/>
<ellipse cx="943.4" cy="682.1" rx="0.6" ry="0.6" transform="rotate(-50 943.4 682.1)"/>
<ellipse cx="915.4" cy="696.3" rx="1.2" ry="0.6" transform="rotate(-59 915.4 696.3)"/>
<ellipse cx="926.0" cy="695.3" rx="0.8" ry="0.7" transform="rotate(-53 926.0 695.3)"/>
<ellipse cx="924.2" cy="678.0" rx="0.6" ry="0.7" transform="rotate(-45 924.2 678.0)"/>
<ellipse cx="917.7" cy="698.8" rx="0.8" ry="0.6" transform="rotate(5 917.7 698.8)"/>
<ellipse cx="909.0" cy="673.6" rx="0.8" ry="0.6" transform="rotate(-35 909.0 673.6)"/>
<ellipse cx="921.3" cy="686.6" rx="0.7" ry="0.5" transform="rotate(-10 921.3 686.6)"/>
<ellipse cx="967.8" cy="600.8" rx="1.3" ry="0.6" transform="rotate(10 967.8 600.8)"/>
<ellipse cx="959.5" cy="620.3" rx="1.2" ry="0.4" transform="rotate(-6 959.5 620.3)"/>
<ellipse cx="959.8" cy="618.3" rx="0.8" ry="0.5" transform="rotate(9 959.8 618.3)"/>
<ellipse cx="970.0" cy="611.9" rx="0.8" ry="0.5" transform="rotate(40 970.0 611.9)"/>
<ellipse cx="948.6" cy="590.7" rx="0.6" ry="0.5" transform="rotate(-22 948.6 590.7)"/>
<ellipse cx="933.5" cy="609.0" rx="1.3" ry="0.8" transform="rotate(-58 933.5 609.0)"/>
<ellipse cx="972.5" cy="611.5" rx="0.9" ry="0.4" transform="rotate(-18 972.5 611.5)"/>
<ellipse cx="979.8" cy="624.6" rx="0.7" ry="0.6" transform="rotate(-39 979.8 624.6)"/>
<ellipse cx="964.0" cy="606.0" rx="0.9" ry="0.5" transform="rotate(-30 964.0 606.0)"/>
<ellipse cx="982.1" cy="609.5" rx="1.2" ry="0.6" transform="rotate(57 982.1 609.5)"/>
<ellipse cx="979.4" cy="606.9" rx="0.7" ry="0.4" transform="rotate(5 979.4 606.9)"/>
<ellipse cx="932.2" cy="611.7" rx="1.5" ry="0.8" transform="rotate(-31 932.2 611.7)"/>
<ellipse cx="979.2" cy="608.7" rx="0.5" ry="0.5" transform="rotate(55 979.2 608.7)"/>
<ellipse cx="966.5" cy="594.2" rx="1.2" ry="0.4" transform="rotate(52 966.5 594.2)"/>
<ellipse cx="952.9" cy="626.4" rx="1.0" ry="0.6" transform="rotate(3 952.9 626.4)"/>
<ellipse cx="983.2" cy="600.7" rx="0.9" ry="0.8" transform="rotate(-39 983.2 600.7)"/>
<ellipse cx="952.8" cy="617.1" rx="0.5" ry="0.6" transform="rotate(-60 952.8 617.1)"/>
<ellipse cx="985.3" cy="606.4" rx="1.0" ry="0.4" transform="rotate(-28 985.3 606.4)"/>
<ellipse cx="961.7" cy="601.7" rx="0.6" ry="0.6" transform="rotate(9 961.7 601.7)"/>
<ellipse cx="969.5" cy="616.9" rx="1.1" ry="0.8" transform="rotate(-11 969.5 616.9)"/>
<ellipse cx="970.7" cy="609.6" rx="1.3" ry="0.4" transform="rotate(50 970.7 609.6)"/>
<ellipse cx="951.7" cy="608.3" rx="1.3" ry="0.8" transform="rotate(-44 951.7 608.3)"/>
<ellipse cx="986.1" cy="593.0" rx="0.9" ry="0.8" transform="rotate(26 986.1 593.0)"/>
<ellipse cx="947.3" cy="606.0" rx="0.8" ry="0.8" transform="rotate(34 947.3 606.0)"/>
<ellipse cx="965.0" cy="608.7" rx="1.1" ry="0.8" transform="rotate(-34 965.0 608.7)"/>
<ellipse cx="989.4" cy="612.8" rx="1.3" ry="0.8" transform="rotate(-20 989.4 612.8)"/>
<ellipse cx="936.3" cy="616.9" rx="0.6" ry="0.8" transform="rotate(25 936.3 616.9)"/>
<ellipse cx="926.3" cy="615.7" rx="1.1" ry="0.8" transform="rotate(-37 926.3 615.7)"/>
<ellipse cx="950.2" cy="614.5" rx="1.0" ry="0.8" transform="rotate(59 950.2 614.5)"/>
<ellipse cx="983.2" cy="599.5" rx="1.5" ry="0.8" transform="rotate(28 983.2 599.5)"/>
<ellipse cx="972.1" cy="615.5" rx="1.0" ry="0.5" transform="rotate(48 972.1 615.5)"/>
<ellipse cx="952.7" cy="615.4" rx="0.6" ry="0.7" transform="rotate(-20 952.7 615.4)"/>
<ellipse cx="978.8" cy="605.5" rx="0.9" ry="0.5" transform="rotate(-54 978.8 605.5)"/>
<ellipse cx="952.7" cy="597.3" rx="1.0" ry="0.7" transform="rotate(-11 952.7 597.3)"/>
<ellipse cx="963.9" cy="608.1" rx="0.7" ry="0.8" transform="rotate(-22 963.9 608.1)"/>
<ellipse cx="952.7" cy="619.3" rx="0.8" ry="0.8" transform="rotate(-49 952.7 619.3)"/>
<ellipse cx="939.2" cy="604.6" rx="0.8" ry="0.8" transform="rotate(-17 939.2 604.6)"/>
<ellipse cx="955.3" cy="606.8" rx="0.8" ry="0.7" transform="rotate(13 955.3 606.8)"/>
<ellipse cx="956.2" cy="610.6" rx="1.0" ry="0.8" transform="rotate(-27 956.2 610.6)"/>
<ellipse cx="965.1" cy="623.5" rx="0.7" ry="0.5" transform="rotate(-51 965.1 623.5)"/>
<ellipse cx="947.8" cy="638.3" rx="1.3" ry="0.7" transform="rotate(45 947.8 638.3)"/>
<ellipse cx="990.1" cy="644.8" rx="0.9" ry="0.9" transform="rotate(53 990.1 644.8)"/>
<ellipse cx="960.3" cy="641.3" rx="0.8" ry="0.4" transform="rotate(-20 960.3 641.3)"/>
<ellipse cx="983.7" cy="661.2" rx="1.2" ry="0.7" transform="rotate(49 983.7 661.2)"/>
<ellipse cx="994.9" cy="650.0" rx="0.6" ry="0.6" transform="rotate(50 994.9 650.0)"/>
<ellipse cx="941.4" cy="652.9" rx="0.7" ry="0.6" transform="rotate(36 941.4 652.9)"/>
<ellipse cx="970.5" cy="662.5" rx="1.1" ry="0.7" transform="rotate(-57 970.5 662.5)"/>
<ellipse cx="939.4" cy="667.8" rx="0.9" ry="0.5" transform="rotate(60 939.4 667.8)"/>
<ellipse cx="951.3" cy="643.4" rx="1.0" ry="0.7" transform="rotate(-13 951.3 643.4)"/>
<ellipse cx="977.2" cy="656.6" rx="0.7" ry="0.7" transform="rotate(-49 977.2 656.6)"/>
<ellipse cx="999.4" cy="656.4" rx="1.5" ry="0.8" transform="rotate(20 999.4 656.4)"/>
<ellipse cx="979.2" cy="644.6" rx="1.0" ry="0.4" transform="rotate(2 979.2 644.6)"/>
<ellipse cx="990.7" cy="650.8" rx="0.6" ry="0.6" transform="rotate(-3 990.7 650.8)"/>
<ellipse cx="981.8" cy="653.1" rx="0.6" ry="0.9" transform="rotate(58 981.8 653.1)"/>
<ellipse cx="990.2" cy="647.8" rx="0.7" ry="0.8" transform="rotate(-58 990.2 647.8)"/>
<ellipse cx="998.9" cy="659.3" rx="1.5" ry="0.9" transform="rotate(41 998.9 659.3)"/>
<ellipse cx="965.3" cy="661.9" rx="1.4" ry="0.8" transform="rotate(56 965.3 661.9)"/>
<ellipse cx="982.9" cy="636.0" rx="1.2" ry="0.6" transform="rotate(9 982.9 636.0)"/>
<ellipse cx="1005.9" cy="645.5" rx="0.5" ry="0.6" transform="rotate(45 1005.9 645.5)"/>
<ellipse cx="973.6" cy="641.1" rx="1.4" ry="0.8" transform="rotate(-33 973.6 641.1)"/>
<ellipse cx="966.7" cy="634.6" rx="0.5" ry="0.9" transform="rotate(-8 966.7 634.6)"/>
<ellipse cx="982.0" cy="649.0" rx="0.8" ry="0.6" transform="rotate(-34 982.0 649.0)"/>
<ellipse cx="958.5" cy="638.1" rx="1.1" ry="0.9" transform="rotate(-46 958.5 638.1)"/>
<ellipse cx="974.9" cy="657.9" rx="1.3" ry="0.8" transform="rotate(59 974.9 657.9)"/>
<ellipse cx="998.8" cy="642.9" rx="1.2" ry="0.8" transform="rotate(2 998.8 642.9)"/>
<ellipse cx="961.5" cy="635.8" rx="1.3" ry="0.5" transform="rotate(-56 961.5 635.8)"/>
<ellipse cx="969.2" cy="635.8" rx="0.7" ry="0.8" transform="rotate(31 969.2 635.8)"/>
<ellipse cx="986.5" cy="654.0" rx="1.2" ry="0.7" transform="rotate(-41 986.5 654.0)"/>
<ellipse cx="992.8" cy="647.0" rx="1.3" ry="0.9" transform="rotate(-46 992.8 647.0)"/>
<ellipse cx="971.6" cy="640.4" rx="1.4" ry="0.6" transform="rotate(-11 971.6 640.4)"/>
<ellipse cx="984.5" cy="665.4" rx="0.8" ry="0.9" transform="rotate(-56 984.5 665.4)"/>
<ellipse cx="983.3" cy="649.0" rx="1.2" ry="0.9" transform="rotate(-21 983.3 649.0)"/>
<ellipse cx="960.9" cy="645.5" rx="0.6" ry="0.8" transform="rotate(-1 960.9 645.5)"/>
<ellipse cx="981.9" cy="648.0" rx="0.7" ry="0.5" transform="rotate(38 981.9 648.0)"/>
<ellipse cx="984.6" cy="650.2" rx="0.9" ry="0.6" transform="rotate(42 984.6 650.2)"/>
<ellipse cx="990.3" cy="645.4" rx="1.2" ry="0.6" transform="rotate(32 990.3 645.4)"/>
<ellipse cx="975.5" cy="647.4" rx="1.0" ry="0.6" transform="rotate(-5 975.5 647.4)"/>
<ellipse cx="948.3" cy="645.8" rx="0.9" ry="0.7" transform="rotate(39 948.3 645.8)"/>
<ellipse cx="973.9" cy="645.2" rx="0.6" ry="0.5" transform="rotate(54 973.9 645.2)"/>
<ellipse cx="945.7" cy="660.7" rx="1.5" ry="0.7" transform="rotate(-16 945.7 660.7)"/>
<ellipse cx="979.2" cy="640.6" rx="1.5" ry="0.7" transform="rotate(16 979.2 640.6)"/>
<ellipse cx="967.6" cy="639.7" rx="0.7" ry="0.7" transform="rotate(-9 967.6 639.7)"/>
<ellipse cx="963.9" cy="637.5" rx="0.7" ry="0.6" transform="rotate(-29 963.9 637.5)"/>
<ellipse cx="1004.8" cy="647.8" rx="0.9" ry="0.9" transform="rotate(34 1004.8 647.8)"/>
<ellipse cx="996.5" cy="642.7" rx="0.6" ry="0.6" transform="rotate(-50 996.5 642.7)"/>
<ellipse cx="960.5" cy="655.1" rx="1.0" ry="0.9" transform="rotate(4 960.5 655.1)"/>
<ellipse cx="987.0" cy="654.3" rx="1.2" ry="0.7" transform="rotate(-11 987.0 654.3)"/>
<ellipse cx="957.4" cy="650.3" rx="1.2" ry="0.7" transform="rotate(-54 957.4 650.3)"/>
<ellipse cx="963.3" cy="650.2" rx="1.1" ry="0.6" transform="rotate(31 963.3 650.2)"/>
<ellipse cx="1015.3" cy="647.1" rx="1.1" ry="0.7" transform="rotate(-46 1015.3 647.1)"/>
<ellipse cx="978.2" cy="644.7" rx="0.9" ry="0.7" transform="rotate(-28 978.2 644.7)"/>
<ellipse cx="998.1" cy="642.4" rx="1.5" ry="0.4" transform="rotate(-4 998.1 642.4)"/>
<ellipse cx="967.3" cy="659.4" rx="1.1" ry="0.7" transform="rotate(53 967.3 659.4)"/>
<ellipse cx="960.3" cy="652.8" rx="1.2" ry="0.7" transform="rotate(-28 960.3 652.8)"/>
<ellipse cx="993.9" cy="647.3" rx="0.6" ry="0.7" transform="rotate(49 993.9 647.3)"/>
<ellipse cx="1004.8" cy="638.3" rx="1.1" ry="0.7" transform="rotate(-25 1004.8 638.3)"/>
<ellipse cx="992.1" cy="657.4" rx="1.3" ry="0.7" transform="rotate(58 992.1 657.4)"/>
<ellipse cx="988.5" cy="640.5" rx="1.1" ry="0.6" transform="rotate(49 988.5 640.5)"/>
<ellipse cx="986.9" cy="645.6" rx="1.4" ry="0.7" transform="rotate(-17 986.9 645.6)"/>
<ellipse cx="979.2" cy="641.6" rx="1.2" ry="0.7" transform="rotate(16 979.2 641.6)"/>
<ellipse cx="939.8" cy="624.0" rx="1.0" ry="0.6" transform="rotate(26 939.8 624.0)"/>
<ellipse cx="923.2" cy="627.7" rx="1.0" ry="0.5" transform="rotate(18 923.2 627.7)"/>
<ellipse cx="928.4" cy="634.4" rx="0.8" ry="0.5" transform="rotate(8 928.4 634.4)"/>
<ellipse cx="932.5" cy="623.5" rx="1.1" ry="0.8" transform="rotate(-13 932.5 623.5)"/>
<ellipse cx="914.6" cy="633.8" rx="0.7" ry="0.8" transform="rotate(51 914.6 633.8)"/>
<ellipse cx="927.2" cy="628.5" rx="1.4" ry="0.5" transform="rotate(-44 927.2 628.5)"/>
<ellipse cx="919.5" cy="626.3" rx="0.7" ry="0.7" transform="rotate(4 919.5 626.3)"/>
<ellipse cx="915.7" cy="628.4" rx="1.1" ry="0.8" transform="rotate(26 915.7 628.4)"/>
<ellipse cx="920.9" cy="619.2" rx="1.0" ry="0.7" transform="rotate(-46 920.9 619.2)"/>
<ellipse cx="932.7" cy="633.2" rx="1.2" ry="0.5" transform="rotate(55 932.7 633.2)"/>
<ellipse cx="922.7" cy="636.8" rx="1.0" ry="0.9" transform="rotate(-42 922.7 636.8)"/>
<ellipse cx="924.9" cy="638.5" rx="0.9" ry="0.6" transform="rotate(-44 924.9 638.5)"/>
<ellipse cx="932.5" cy="626.8" rx="1.1" ry="0.5" transform="rotate(52 932.5 626.8)"/>
<ellipse cx="934.7" cy="635.7" rx="0.6" ry="0.7" transform="rotate(-21 934.7 635.7)"/>
<ellipse cx="933.2" cy="628.0" rx="1.3" ry="0.4" transform="rotate(-32 933.2 628.0)"/>
<ellipse cx="932.7" cy="629.5" rx="0.5" ry="0.5" transform="rotate(-16 932.7 629.5)"/>
<ellipse cx="917.3" cy="629.0" rx="0.8" ry="0.6" transform="rotate(-4 917.3 629.0)"/>
<ellipse cx="929.0" cy="636.6" rx="1.1" ry="0.7" transform="rotate(29 929.0 636.6)"/>
<ellipse cx="919.7" cy="631.2" rx="1.4" ry="0.5" transform="rotate(-24 919.7 631.2)"/>
<ellipse cx="917.8" cy="633.1" rx="0.7" ry="0.8" transform="rotate(-24 917.8 633.1)"/>
<ellipse cx="981.6" cy="686.8" rx="0.6" ry="0.6" transform="rotate(-44 981.6 686.8)"/>
<ellipse cx="978.1" cy="686.6" rx="1.4" ry="0.9" transform="rotate(-46 978.1 686.6)"/>
<ellipse cx="979.9" cy="693.0" rx="0.9" ry="0.9" transform="rotate(-1 979.9 693.0)"/>
<ellipse cx="1003.6" cy="687.8" rx="0.9" ry="0.7" transform="rotate(41 1003.6 687.8)"/>
<ellipse cx="972.3" cy="690.5" rx="1.3" ry="0.6" transform="rotate(25 972.3 690.5)"/>
<ellipse cx="993.2" cy="689.6" rx="1.4" ry="0.8" transform="rotate(47 993.2 689.6)"/>
<ellipse cx="1002.3" cy="703.8" rx="0.5" ry="0.6" transform="rotate(-24 1002.3 703.8)"/>
<ellipse cx="986.3" cy="689.7" rx="1.0" ry="0.6" transform="rotate(31 986.3 689.7)"/>
<ellipse cx="993.8" cy="684.6" rx="0.7" ry="0.5" transform="rotate(-21 993.8 684.6)"/>
<ellipse cx="985.2" cy="694.3" rx="1.3" ry="0.9" transform="rotate(-29 985.2 694.3)"/>
<ellipse cx="995.3" cy="699.3" rx="0.5" ry="0.7" transform="rotate(-55 995.3 699.3)"/>
<ellipse cx="984.5" cy="684.1" rx="0.9" ry="0.9" transform="rotate(-23 984.5 684.1)"/>
<ellipse cx="1006.6" cy="690.4" rx="0.7" ry="0.8" transform="rotate(29 1006.6 690.4)"/>
<ellipse cx="982.4" cy="703.2" rx="0.7" ry="0.5" transform="rotate(9 982.4 703.2)"/>
<ellipse cx="975.8" cy="687.1" rx="0.8" ry="0.9" transform="rotate(16 975.8 687.1)"/>
<ellipse cx="993.2" cy="680.3" rx="0.7" ry="0.7" transform="rotate(53 993.2 680.3)"/>
<ellipse cx="1012.5" cy="690.7" rx="0.8" ry="0.5" transform="rotate(33 1012.5 690.7)"/>
<ellipse cx="995.5" cy="686.5" rx="1.2" ry="0.8" transform="rotate(-52 995.5 686.5)"/>
<ellipse cx="1018.9" cy="691.3" rx="1.4" ry="0.7" transform="rotate(1 1018.9 691.3)"/>
<ellipse cx="984.9" cy="695.7" rx="1.4" ry="0.7" transform="rotate(30 984.9 695.7)"/>
<ellipse cx="314.4" cy="450.7" rx="1.1" ry="0.6" transform="rotate(0 314.4 450.7)"/>
<ellipse cx="263.5" cy="404.0" rx="1.3" ry="0.7" transform="rotate(0 263.5 404.0)"/>
<ellipse cx="192.0" cy="421.7" rx="0.8" ry="0.6" transform="rotate(0 192.0 421.7)"/>
<ellipse cx="257.9" cy="452.4" rx="0.9" ry="0.7" transform="rotate(0 257.9 452.4)"/>
<ellipse cx="250.5" cy="451.0" rx="0.9" ry="0.6" transform="rotate(0 250.5 451.0)"/>
<ellipse cx="304.7" cy="455.4" rx="1.0" ry="0.6" transform="rotate(0 304.7 455.4)"/>
<ellipse cx="282.7" cy="416.6" rx="0.7" ry="0.6" transform="rotate(0 282.7 416.6)"/>
<ellipse cx="251.7" cy="386.2" rx="0.8" ry="0.4" transform="rotate(0 251.7 386.2)"/>
<ellipse cx="375.8" cy="387.6" rx="1.2" ry="0.5" transform="rotate(0 375.8 387.6)"/>
<ellipse cx="254.2" cy="424.0" rx="0.7" ry="0.7" transform="rotate(0 254.2 424.0)"/>
<ellipse cx="264.3" cy="453.7" rx="0.5" ry="0.4" transform="rotate(0 264.3 453.7)"/>
<ellipse cx="443.6" cy="435.1" rx="0.7" ry="0.7" transform="rotate(0 443.6 435.1)"/>
<ellipse cx="281.7" cy="420.7" rx="0.7" ry="0.6" transform="rotate(0 281.7 420.7)"/>
<ellipse cx="371.1" cy="447.7" rx="0.7" ry="0.6" transform="rotate(0 371.1 447.7)"/>
<ellipse cx="345.8" cy="449.9" rx="0.9" ry="0.7" transform="rotate(0 345.8 449.9)"/>
<ellipse cx="456.7" cy="412.7" rx="0.8" ry="0.8" transform="rotate(0 456.7 412.7)"/>
<ellipse cx="349.7" cy="422.5" rx="1.1" ry="0.6" transform="rotate(0 349.7 422.5)"/>
<ellipse cx="330.7" cy="432.6" rx="0.7" ry="0.6" transform="rotate(0 330.7 432.6)"/>
<ellipse cx="172.7" cy="437.7" rx="1.2" ry="0.7" transform="rotate(0 172.7 437.7)"/>
<ellipse cx="471.2" cy="440.4" rx="0.6" ry="0.5" transform="rotate(0 471.2 440.4)"/>
<ellipse cx="455.8" cy="388.6" rx="1.2" ry="0.7" transform="rotate(0 455.8 388.6)"/>
<ellipse cx="215.7" cy="396.8" rx="1.1" ry="0.7" transform="rotate(0 215.7 396.8)"/>
<ellipse cx="179.3" cy="422.4" rx="0.7" ry="0.7" transform="rotate(0 179.3 422.4)"/>
<ellipse cx="336.1" cy="381.1" rx="0.8" ry="0.4" transform="rotate(0 336.1 381.1)"/>
<ellipse cx="450.9" cy="451.0" rx="1.1" ry="0.4" transform="rotate(0 450.9 451.0)"/>
<ellipse cx="460.8" cy="401.1" rx="1.0" ry="0.7" transform="rotate(0 460.8 401.1)"/>
<ellipse cx="343.3" cy="389.3" rx="0.7" ry="0.7" transform="rotate(0 343.3 389.3)"/>
<ellipse cx="208.4" cy="410.1" rx="1.2" ry="0.6" transform="rotate(0 208.4 410.1)"/>
<ellipse cx="217.3" cy="432.0" rx="0.8" ry="0.7" transform="rotate(0 217.3 432.0)"/>
<ellipse cx="283.2" cy="446.3" rx="1.2" ry="0.5" transform="rotate(0 283.2 446.3)"/>
<ellipse cx="339.5" cy="415.6" rx="0.6" ry="0.8" transform="rotate(0 339.5 415.6)"/>
<ellipse cx="276.0" cy="428.9" rx="0.5" ry="0.8" transform="rotate(0 276.0 428.9)"/>
<ellipse cx="473.9" cy="434.7" rx="0.6" ry="0.7" transform="rotate(0 473.9 434.7)"/>
<ellipse cx="315.3" cy="417.9" rx="0.7" ry="0.5" transform="rotate(0 315.3 417.9)"/>
<ellipse cx="431.9" cy="428.3" rx="1.1" ry="0.7" transform="rotate(0 431.9 428.3)"/>
<ellipse cx="294.4" cy="424.0" rx="0.7" ry="0.7" transform="rotate(0 294.4 424.0)"/>
<ellipse cx="303.5" cy="442.7" rx="0.7" ry="0.6" transform="rotate(0 303.5 442.7)"/>
<ellipse cx="195.4" cy="383.1" rx="0.7" ry="0.4" transform="rotate(0 195.4 383.1)"/>
<ellipse cx="301.5" cy="410.4" rx="1.2" ry="0.4" transform="rotate(0 301.5 410.4)"/>
<ellipse cx="475.4" cy="387.6" rx="1.2" ry="0.5" transform="rotate(0 475.4 387.6)"/>
<ellipse cx="589.5" cy="803.8" rx="0.7" ry="0.4" transform="rotate(0 589.5 803.8)"/>
<ellipse cx="575.7" cy="815.4" rx="0.9" ry="0.8" transform="rotate(0 575.7 815.4)"/>
<ellipse cx="590.4" cy="830.8" rx="0.7" ry="0.6" transform="rotate(0 590.4 830.8)"/>
<ellipse cx="593.4" cy="770.0" rx="1.0" ry="0.5" transform="rotate(0 593.4 770.0)"/>
<ellipse cx="610.9" cy="854.4" rx="0.8" ry="0.7" transform="rotate(0 610.9 854.4)"/>
<ellipse cx="624.1" cy="759.5" rx="0.9" ry="0.7" transform="rotate(0 624.1 759.5)"/>
<ellipse cx="605.7" cy="869.7" rx="0.6" ry="0.7" transform="rotate(0 605.7 869.7)"/>
<ellipse cx="646.5" cy="820.7" rx="0.8" ry="0.7" transform="rotate(0 646.5 820.7)"/>
<ellipse cx="565.3" cy="813.9" rx="1.0" ry="0.6" transform="rotate(0 565.3 813.9)"/>
<ellipse cx="648.9" cy="818.3" rx="0.8" ry="0.7" transform="rotate(0 648.9 818.3)"/>
<ellipse cx="618.1" cy="720.4" rx="0.8" ry="0.7" transform="rotate(0 618.1 720.4)"/>
<ellipse cx="579.7" cy="778.5" rx="1.0" ry="0.4" transform="rotate(0 579.7 778.5)"/>
<ellipse cx="663.6" cy="759.7" rx="0.7" ry="0.7" transform="rotate(0 663.6 759.7)"/>
<ellipse cx="628.8" cy="748.9" rx="0.6" ry="0.6" transform="rotate(0 628.8 748.9)"/>
<ellipse cx="666.8" cy="869.1" rx="0.9" ry="0.7" transform="rotate(0 666.8 869.1)"/>
<ellipse cx="642.5" cy="855.4" rx="0.6" ry="0.5" transform="rotate(0 642.5 855.4)"/>
<ellipse cx="661.2" cy="703.4" rx="0.8" ry="0.6" transform="rotate(0 661.2 703.4)"/>
<ellipse cx="670.2" cy="806.2" rx="0.6" ry="0.4" transform="rotate(0 670.2 806.2)"/>
<ellipse cx="616.7" cy="793.8" rx="0.8" ry="0.6" transform="rotate(0 616.7 793.8)"/>
<ellipse cx="567.4" cy="761.1" rx="1.0" ry="0.5" transform="rotate(0 567.4 761.1)"/>
<ellipse cx="582.6" cy="730.4" rx="1.1" ry="0.7" transform="rotate(0 582.6 730.4)"/>
<ellipse cx="608.6" cy="756.0" rx="0.7" ry="0.8" transform="rotate(0 608.6 756.0)"/>
<ellipse cx="669.0" cy="861.9" rx="1.0" ry="0.7" transform="rotate(0 669.0 861.9)"/>
<ellipse cx="574.0" cy="860.2" rx="0.6" ry="0.7" transform="rotate(0 574.0 860.2)"/>
<ellipse cx="602.9" cy="706.2" rx="0.9" ry="0.5" transform="rotate(0 602.9 706.2)"/>
</g>
<g fill="#3a3a3a" stroke="none">
<circle cx="983.2" cy="527.4" r="0.6"/>
<circle cx="986.4" cy="523.5" r="1.5"/>
<circle cx="984.2" cy="522.7" r="1.1"/>
<circle cx="984.8" cy="524.3" r="1.6"/>
<circle cx="978.4" cy="531.2" r="1.4"/>
<circle cx="976.6" cy="530.6" r="1.1"/>
<circle cx="979.5" cy="531.1" r="0.8"/>
<circle cx="977.4" cy="531.8" r="1.2"/>
<circle cx="977.0" cy="532.4" r="1.6"/>
<circle cx="970.1" cy="543.0" r="1.4"/>
<circle cx="983.5" cy="583.1" r="1.0"/>
<circle cx="986.2" cy="577.5" r="1.7"/>
<circle cx="1005.7" cy="612.4" r="1.8"/>
<circle cx="1028.1" cy="628.7" r="1.0"/>
<circle cx="1028.1" cy="636.1" r="1.0"/>
<circle cx="1023.1" cy="656.3" r="2.0"/>
<circle cx="1022.8" cy="660.1" r="1.3"/>
<circle cx="1021.8" cy="660.9" r="0.7"/>
<circle cx="1025.5" cy="657.9" r="2.0"/>
<circle cx="1016.8" cy="662.5" r="1.1"/>
<circle cx="1018.8" cy="660.4" r="1.6"/>
<circle cx="1018.4" cy="661.0" r="0.9"/>
<circle cx="1022.4" cy="661.1" r="1.4"/>
<circle cx="1016.8" cy="662.3" r="2.3"/>
<circle cx="1022.1" cy="660.3" r="0.8"/>
<circle cx="1019.3" cy="661.8" r="1.4"/>
<circle cx="1017.7" cy="665.6" r="1.8"/>
<circle cx="1014.4" cy="667.6" r="1.1"/>
<circle cx="1011.6" cy="669.2" r="0.9"/>
<circle cx="1013.5" cy="666.5" r="0.8"/>
<circle cx="1011.3" cy="672.5" r="1.6"/>
<circle cx="1014.0" cy="669.5" r="1.5"/>
<circle cx="1013.7" cy="670.8" r="1.1"/>
<circle cx="1007.2" cy="671.7" r="1.1"/>
<circle cx="1010.8" cy="673.6" r="1.9"/>
<circle cx="1008.7" cy="672.1" r="1.3"/>
<circle cx="1009.0" cy="672.1" r="1.5"/>
<circle cx="1008.2" cy="669.5" r="0.9"/>
<circle cx="1014.1" cy="671.4" r="2.2"/>
<circle cx="1017.3" cy="668.2" r="1.4"/>
<circle cx="1011.8" cy="670.5" r="0.9"/>
<circle cx="1014.1" cy="674.2" r="2.0"/>
<circle cx="1016.0" cy="668.4" r="1.0"/>
<circle cx="1017.3" cy="669.3" r="1.6"/>
<circle cx="1013.3" cy="670.2" r="1.5"/>
<circle cx="1017.9" cy="667.7" r="1.3"/>
<circle cx="1024.7" cy="668.8" r="2.1"/>
<circle cx="1027.8" cy="668.2" r="1.3"/>
<circle cx="1022.3" cy="668.0" r="1.8"/>
<circle cx="1025.4" cy="668.1" r="1.8"/>
<circle cx="1019.5" cy="669.8" r="1.8"/>
<circle cx="1026.1" cy="666.3" r="1.1"/>
<circle cx="1027.8" cy="665.0" r="1.7"/>
<circle cx="1027.8" cy="669.3" r="1.0"/>
<circle cx="1030.2" cy="666.2" r="2.1"/>
<circle cx="1029.9" cy="663.8" r="2.0"/>
<circle cx="1030.5" cy="669.4" r="2.3"/>
<circle cx="1031.5" cy="663.7" r="2.1"/>
<circle cx="1032.4" cy="668.2" r="2.1"/>
<circle cx="1035.8" cy="663.4" r="1.8"/>
<circle cx="1027.4" cy="665.4" r="1.7"/>
<circle cx="1045.0" cy="666.5" r="1.3"/>
<circle cx="1038.7" cy="663.4" r="2.1"/>
<circle cx="1041.4" cy="665.0" r="1.1"/>
<circle cx="1037.7" cy="664.5" r="1.2"/>
<circle cx="1042.2" cy="662.9" r="1.1"/>
<circle cx="1039.8" cy="662.6" r="2.2"/>
<circle cx="1038.5" cy="664.6" r="1.4"/>
<circle cx="1042.8" cy="668.9" r="1.6"/>
<circle cx="1043.1" cy="670.8" r="2.0"/>
<circle cx="1044.3" cy="673.6" r="1.7"/>
<circle cx="1045.6" cy="676.6" r="2.3"/>
<circle cx="1046.1" cy="670.2" r="0.7"/>
<circle cx="1043.5" cy="669.6" r="0.9"/>
<circle cx="1043.3" cy="669.9" r="2.0"/>
<circle cx="1043.2" cy="676.4" r="1.6"/>
<circle cx="1043.2" cy="685.5" r="0.8"/>
<circle cx="1041.1" cy="682.7" r="1.5"/>
<circle cx="1041.1" cy="687.7" r="1.2"/>
<circle cx="1043.6" cy="683.8" r="1.2"/>
<circle cx="1042.7" cy="682.0" r="2.2"/>
<circle cx="1044.9" cy="678.7" r="1.6"/>
<circle cx="1042.1" cy="687.1" r="1.7"/>
<circle cx="1041.2" cy="678.4" r="1.7"/>
<circle cx="1041.1" cy="691.7" r="2.3"/>
<circle cx="1040.8" cy="694.3" r="1.6"/>
<circle cx="1043.8" cy="692.1" r="1.3"/>
<circle cx="1042.1" cy="688.5" r="1.4"/>
<circle cx="1041.3" cy="690.3" r="0.8"/>
<circle cx="1038.2" cy="697.6" r="1.2"/>
<circle cx="1040.4" cy="694.0" r="1.3"/>
<circle cx="1038.5" cy="696.2" r="2.2"/>
<circle cx="1039.9" cy="696.4" r="1.0"/>
<circle cx="1033.8" cy="701.0" r="2.0"/>
<circle cx="1036.6" cy="697.6" r="0.7"/>
<circle cx="1034.0" cy="700.5" r="1.8"/>
<circle cx="1033.4" cy="703.8" r="1.9"/>
<circle cx="1035.1" cy="703.0" r="0.9"/>
<circle cx="1034.4" cy="702.0" r="0.8"/>
<circle cx="1035.7" cy="703.3" r="0.8"/>
<circle cx="1034.2" cy="704.7" r="2.1"/>
<circle cx="1033.2" cy="706.9" r="1.7"/>
<circle cx="1033.4" cy="701.8" r="1.7"/>
<circle cx="1035.6" cy="701.0" r="1.6"/>
<circle cx="1030.3" cy="711.5" r="1.8"/>
<circle cx="1029.9" cy="716.1" r="1.8"/>
<circle cx="1028.7" cy="708.4" r="0.9"/>
<circle cx="1032.0" cy="708.1" r="0.8"/>
<circle cx="1031.3" cy="712.5" r="1.4"/>
<circle cx="1027.4" cy="715.4" r="1.5"/>
<circle cx="1029.2" cy="708.9" r="1.6"/>
<circle cx="1030.0" cy="707.6" r="1.2"/>
<circle cx="1031.2" cy="715.5" r="1.0"/>
<circle cx="1028.8" cy="720.8" r="1.6"/>
<circle cx="1026.2" cy="727.5" r="1.8"/>
<circle cx="1028.8" cy="720.9" r="2.1"/>
<circle cx="1029.9" cy="717.9" r="1.7"/>
<circle cx="1026.3" cy="719.6" r="1.2"/>
<circle cx="1023.3" cy="726.0" r="0.8"/>
<circle cx="1022.3" cy="727.3" r="1.0"/>
<circle cx="1022.2" cy="724.6" r="1.7"/>
<circle cx="1023.5" cy="721.5" r="2.2"/>
<circle cx="1021.9" cy="724.3" r="2.1"/>
<circle cx="1026.0" cy="725.3" r="1.9"/>
<circle cx="1020.5" cy="730.7" r="1.0"/>
<circle cx="1018.8" cy="740.2" r="1.6"/>
<circle cx="1020.0" cy="738.6" r="1.5"/>
<circle cx="1018.3" cy="733.9" r="2.3"/>
<circle cx="1020.2" cy="729.7" r="2.1"/>
<circle cx="1021.0" cy="728.6" r="1.5"/>
<circle cx="1020.3" cy="731.7" r="0.7"/>
<circle cx="1015.7" cy="736.0" r="1.2"/>
<circle cx="1022.7" cy="730.9" r="1.0"/>
<circle cx="1016.3" cy="734.5" r="1.6"/>
<circle cx="1022.0" cy="734.4" r="1.0"/>
<circle cx="1015.7" cy="744.9" r="0.8"/>
<circle cx="1012.9" cy="745.9" r="1.2"/>
<circle cx="1014.5" cy="742.8" r="0.7"/>
<circle cx="1014.2" cy="740.7" r="1.3"/>
<circle cx="1015.1" cy="744.2" r="1.4"/>
<circle cx="1012.8" cy="747.3" r="1.8"/>
<circle cx="1011.1" cy="750.3" r="1.8"/>
<circle cx="1010.6" cy="745.5" r="2.0"/>
<circle cx="1010.5" cy="745.2" r="1.9"/>
<circle cx="1008.7" cy="757.4" r="1.4"/>
<circle cx="1008.7" cy="756.9" r="2.2"/>
<circle cx="1004.5" cy="758.3" r="1.4"/>
<circle cx="1006.8" cy="759.5" r="1.4"/>
<circle cx="1005.5" cy="758.1" r="1.6"/>
<circle cx="1007.9" cy="752.4" r="1.1"/>
<circle cx="1001.1" cy="759.0" r="1.1"/>
<circle cx="1010.3" cy="754.1" r="1.8"/>
<circle cx="1006.4" cy="752.7" r="1.8"/>
<circle cx="1005.6" cy="758.8" r="1.8"/>
<circle cx="999.4" cy="765.5" r="2.0"/>
<circle cx="999.4" cy="768.3" r="1.3"/>
<circle cx="1003.5" cy="770.5" r="2.0"/>
<circle cx="999.5" cy="768.0" r="2.1"/>
<circle cx="999.7" cy="767.9" r="2.2"/>
<circle cx="1003.6" cy="768.7" r="2.1"/>
<circle cx="1001.3" cy="760.8" r="2.0"/>
<circle cx="1002.1" cy="761.8" r="2.0"/>
<circle cx="1002.4" cy="779.6" r="1.4"/>
<circle cx="1005.3" cy="777.3" r="1.7"/>
<circle cx="1000.4" cy="773.9" r="1.0"/>
<circle cx="1003.6" cy="776.6" r="1.1"/>
<circle cx="1003.3" cy="778.3" r="1.6"/>
<circle cx="1001.7" cy="775.9" r="0.7"/>
<circle cx="1003.1" cy="775.8" r="2.1"/>
<circle cx="1004.1" cy="781.1" r="1.0"/>
<circle cx="1002.5" cy="779.9" r="2.2"/>
<circle cx="1001.0" cy="781.3" r="0.8"/>
<circle cx="1004.1" cy="782.8" r="1.5"/>
<circle cx="1000.9" cy="787.9" r="1.6"/>
<circle cx="1001.5" cy="782.6" r="1.9"/>
<circle cx="1000.7" cy="783.8" r="1.7"/>
<circle cx="1003.3" cy="792.2" r="2.1"/>
<circle cx="999.0" cy="788.4" r="0.9"/>
<circle cx="1002.1" cy="787.8" r="2.0"/>
<circle cx="1003.9" cy="782.6" r="0.8"/>
<circle cx="991.7" cy="798.1" r="1.5"/>
<circle cx="995.0" cy="801.8" r="2.0"/>
<circle cx="992.2" cy="799.2" r="1.7"/>
<circle cx="995.3" cy="797.6" r="1.7"/>
<circle cx="995.8" cy="796.2" r="1.9"/>
<circle cx="996.2" cy="800.5" r="2.2"/>
<circle cx="991.3" cy="798.6" r="1.5"/>
<circle cx="996.9" cy="798.3" r="2.2"/>
<circle cx="996.8" cy="792.4" r="2.1"/>
<circle cx="990.5" cy="801.2" r="1.7"/>
<circle cx="996.4" cy="795.7" r="1.7"/>
<circle cx="987.7" cy="810.0" r="1.3"/>
<circle cx="987.2" cy="806.6" r="2.3"/>
<circle cx="989.1" cy="808.4" r="2.2"/>
<circle cx="992.0" cy="803.1" r="0.9"/>
<circle cx="987.9" cy="807.2" r="0.8"/>
<circle cx="987.6" cy="808.2" r="1.3"/>
<circle cx="986.6" cy="806.8" r="0.9"/>
<circle cx="991.1" cy="805.9" r="1.7"/>
<circle cx="988.4" cy="808.2" r="2.0"/>
<circle cx="985.0" cy="809.0" r="1.6"/>
<circle cx="978.1" cy="813.1" r="2.2"/>
<circle cx="982.1" cy="812.1" r="2.1"/>
<circle cx="981.1" cy="816.7" r="0.7"/>
<circle cx="981.5" cy="813.1" r="1.7"/>
<circle cx="975.2" cy="821.3" r="2.0"/>
<circle cx="982.9" cy="815.8" r="0.8"/>
<circle cx="977.3" cy="815.8" r="0.7"/>
<circle cx="982.7" cy="816.0" r="2.3"/>
<circle cx="981.0" cy="817.4" r="1.9"/>
<circle cx="983.4" cy="812.6" r="1.0"/>
<circle cx="980.9" cy="815.5" r="1.0"/>
<circle cx="977.5" cy="813.2" r="1.2"/>
<circle cx="967.7" cy="823.0" r="0.9"/>
<circle cx="966.8" cy="823.9" r="2.2"/>
<circle cx="969.1" cy="823.4" r="0.8"/>
<circle cx="964.3" cy="828.2" r="0.8"/>
<circle cx="970.7" cy="826.3" r="2.2"/>
<circle cx="968.5" cy="826.1" r="0.8"/>
<circle cx="966.1" cy="831.0" r="1.1"/>
<circle cx="964.0" cy="828.4" r="1.5"/>
<circle cx="969.8" cy="824.4" r="1.1"/>
<circle cx="966.6" cy="825.8" r="0.7"/>
<circle cx="964.8" cy="833.1" r="1.4"/>
<circle cx="961.3" cy="836.5" r="1.1"/>
<circle cx="962.5" cy="832.6" r="1.9"/>
<circle cx="958.9" cy="838.0" r="1.7"/>
<circle cx="964.4" cy="835.0" r="1.7"/>
<circle cx="957.9" cy="838.4" r="1.6"/>
<circle cx="959.3" cy="838.0" r="1.9"/>
<circle cx="963.6" cy="834.6" r="1.2"/>
<circle cx="959.0" cy="834.9" r="1.3"/>
<circle cx="955.8" cy="838.1" r="1.0"/>
<circle cx="953.6" cy="845.5" r="1.8"/>
<circle cx="952.8" cy="846.8" r="1.7"/>
<circle cx="956.0" cy="842.2" r="1.1"/>
<circle cx="957.0" cy="841.0" r="2.3"/>
<circle cx="954.6" cy="845.3" r="1.7"/>
<circle cx="956.9" cy="841.3" r="2.3"/>
<circle cx="951.4" cy="844.9" r="2.1"/>
<circle cx="953.8" cy="847.5" r="2.1"/>
<circle cx="945.3" cy="852.3" r="1.5"/>
<circle cx="948.7" cy="851.9" r="0.9"/>
<circle cx="941.8" cy="854.7" r="1.4"/>
<circle cx="944.5" cy="851.8" r="1.7"/>
<circle cx="950.7" cy="850.0" r="0.9"/>
<circle cx="944.7" cy="855.9" r="2.0"/>
<circle cx="943.0" cy="852.4" r="1.6"/>
<circle cx="950.2" cy="849.6" r="2.0"/>
<circle cx="941.3" cy="856.6" r="0.8"/>
<circle cx="940.3" cy="860.7" r="0.8"/>
<circle cx="941.3" cy="860.8" r="1.0"/>
<circle cx="937.1" cy="861.1" r="0.7"/>
<circle cx="943.3" cy="856.6" r="1.0"/>
<circle cx="938.1" cy="861.3" r="0.8"/>
<circle cx="937.8" cy="860.6" r="0.9"/>
<circle cx="936.7" cy="862.0" r="1.4"/>
<circle cx="931.3" cy="865.8" r="0.8"/>
<circle cx="937.9" cy="864.9" r="1.4"/>
<circle cx="929.2" cy="868.5" r="1.7"/>
<circle cx="927.6" cy="865.2" r="1.0"/>
<circle cx="931.9" cy="868.0" r="2.3"/>
<circle cx="934.6" cy="864.8" r="1.2"/>
<circle cx="932.3" cy="863.6" r="2.3"/>
<circle cx="932.4" cy="864.7" r="0.8"/>
<circle cx="926.0" cy="865.0" r="2.0"/>
<circle cx="933.7" cy="862.8" r="0.8"/>
<circle cx="922.0" cy="871.2" r="1.3"/>
<circle cx="921.9" cy="870.0" r="1.1"/>
<circle cx="918.1" cy="872.2" r="2.1"/>
<circle cx="924.8" cy="869.5" r="2.0"/>
<circle cx="917.2" cy="870.2" r="0.9"/>
<circle cx="918.3" cy="870.0" r="1.5"/>
<circle cx="916.9" cy="868.1" r="1.3"/>
<circle cx="919.2" cy="871.5" r="2.3"/>
<circle cx="906.3" cy="871.2" r="1.4"/>
<circle cx="910.0" cy="871.4" r="0.8"/>
<circle cx="912.2" cy="873.5" r="1.3"/>
<circle cx="907.2" cy="874.5" r="1.5"/>
<circle cx="906.9" cy="875.1" r="0.7"/>
<circle cx="910.0" cy="874.2" r="1.2"/>
<circle cx="911.2" cy="869.3" r="2.1"/>
<circle cx="909.8" cy="872.2" r="1.7"/>
<circle cx="897.1" cy="877.1" r="1.6"/>
<circle cx="901.0" cy="874.0" r="2.3"/>
<circle cx="899.5" cy="875.8" r="0.8"/>
<circle cx="898.4" cy="873.5" r="1.5"/>
<circle cx="903.4" cy="873.1" r="1.1"/>
<circle cx="903.4" cy="873.4" r="0.9"/>
<circle cx="903.9" cy="874.9" r="0.9"/>
<circle cx="897.3" cy="876.3" r="1.0"/>
<circle cx="898.0" cy="875.8" r="1.3"/>
<circle cx="895.8" cy="876.0" r="2.2"/>
<circle cx="893.3" cy="876.1" r="1.6"/>
<circle cx="895.6" cy="875.6" r="2.1"/>
<circle cx="893.2" cy="875.2" r="2.1"/>
<circle cx="890.7" cy="876.0" r="2.0"/>
<circle cx="886.8" cy="876.9" r="2.3"/>
<circle cx="890.8" cy="874.8" r="1.5"/>
<circle cx="889.2" cy="877.3" r="1.4"/>
<circle cx="887.1" cy="876.5" r="1.4"/>
<circle cx="889.3" cy="879.3" r="1.1"/>
<circle cx="883.0" cy="876.8" r="1.1"/>
<circle cx="880.6" cy="878.4" r="1.1"/>
<circle cx="878.8" cy="876.9" r="1.5"/>
<circle cx="884.0" cy="875.2" r="1.6"/>
<circle cx="880.2" cy="874.5" r="1.1"/>
<circle cx="880.9" cy="873.5" r="1.6"/>
<circle cx="876.7" cy="877.4" r="1.2"/>
<circle cx="876.9" cy="876.0" r="1.8"/>
<circle cx="877.6" cy="878.7" r="1.9"/>
<circle cx="878.9" cy="873.9" r="1.8"/>
<circle cx="878.7" cy="878.5" r="1.4"/>
<circle cx="873.8" cy="878.0" r="0.8"/>
<circle cx="875.9" cy="881.5" r="0.8"/>
<circle cx="875.1" cy="884.7" r="1.3"/>
<circle cx="878.3" cy="883.0" r="1.0"/>
<circle cx="877.3" cy="884.7" r="2.0"/>
<circle cx="877.5" cy="880.2" r="2.2"/>
<circle cx="876.5" cy="877.4" r="1.6"/>
<circle cx="869.6" cy="890.7" r="1.1"/>
<circle cx="876.0" cy="887.1" r="1.0"/>
<circle cx="875.3" cy="890.0" r="1.0"/>
<circle cx="875.8" cy="888.0" r="1.5"/>
<circle cx="869.4" cy="889.1" r="1.9"/>
<circle cx="874.9" cy="890.4" r="2.2"/>
<circle cx="875.1" cy="886.5" r="1.5"/>
<circle cx="865.3" cy="892.0" r="1.8"/>
<circle cx="867.9" cy="891.5" r="2.0"/>
<circle cx="865.2" cy="890.1" r="1.1"/>
<circle cx="863.5" cy="889.8" r="1.0"/>
<circle cx="866.8" cy="892.1" r="1.9"/>
<circle cx="864.0" cy="889.8" r="1.3"/>
<circle cx="869.1" cy="893.2" r="1.4"/>
<circle cx="852.7" cy="894.0" r="1.1"/>
<circle cx="859.5" cy="892.6" r="1.8"/>
<circle cx="855.5" cy="893.5" r="0.9"/>
<circle cx="858.9" cy="895.0" r="1.0"/>
<circle cx="852.3" cy="897.6" r="1.0"/>
<circle cx="861.6" cy="894.4" r="0.8"/>
<circle cx="854.7" cy="894.8" r="1.4"/>
<circle cx="854.7" cy="892.0" r="1.9"/>
<circle cx="845.2" cy="896.9" r="1.2"/>
<circle cx="845.7" cy="897.6" r="0.9"/>
<circle cx="848.2" cy="901.2" r="2.3"/>
<circle cx="849.6" cy="894.8" r="0.7"/>
<circle cx="850.6" cy="895.4" r="2.2"/>
<circle cx="846.2" cy="897.2" r="1.3"/>
<circle cx="840.3" cy="899.8" r="0.8"/>
<circle cx="843.4" cy="899.3" r="0.8"/>
<circle cx="838.6" cy="905.3" r="1.5"/>
<circle cx="842.1" cy="901.4" r="2.0"/>
<circle cx="843.0" cy="903.2" r="2.2"/>
<circle cx="843.3" cy="901.0" r="2.2"/>
<circle cx="844.0" cy="903.2" r="1.5"/>
<circle cx="831.4" cy="902.4" r="1.3"/>
<circle cx="831.7" cy="903.0" r="2.3"/>
<circle cx="834.3" cy="904.3" r="1.9"/>
<circle cx="835.2" cy="904.8" r="1.9"/>
<circle cx="830.9" cy="903.8" r="1.2"/>
<circle cx="832.7" cy="904.1" r="1.5"/>
<circle cx="833.3" cy="905.7" r="0.9"/>
<circle cx="827.1" cy="904.0" r="1.5"/>
<circle cx="828.8" cy="908.1" r="1.0"/>
<circle cx="826.6" cy="908.1" r="1.2"/>
<circle cx="828.4" cy="904.1" r="1.8"/>
<circle cx="827.7" cy="908.6" r="0.9"/>
<circle cx="827.2" cy="906.2" r="1.2"/>
<circle cx="826.4" cy="904.2" r="1.5"/>
<circle cx="815.5" cy="910.1" r="2.3"/>
<circle cx="816.5" cy="909.7" r="1.3"/>
<circle cx="818.6" cy="907.3" r="1.5"/>
<circle cx="818.0" cy="911.6" r="0.8"/>
<circle cx="822.2" cy="910.6" r="1.3"/>
<circle cx="816.7" cy="912.6" r="1.1"/>
<circle cx="820.8" cy="910.5" r="1.2"/>
<circle cx="811.1" cy="910.6" r="1.6"/>
<circle cx="812.0" cy="911.2" r="1.0"/>
<circle cx="813.7" cy="915.0" r="1.2"/>
<circle cx="809.1" cy="912.4" r="1.3"/>
<circle cx="807.4" cy="915.3" r="0.7"/>
<circle cx="808.4" cy="913.3" r="1.7"/>
<circle cx="808.2" cy="914.3" r="1.4"/>
<circle cx="808.8" cy="915.7" r="1.0"/>
<circle cx="804.1" cy="915.7" r="1.0"/>
<circle cx="803.4" cy="915.1" r="1.3"/>
<circle cx="800.7" cy="912.7" r="1.5"/>
<circle cx="801.6" cy="914.7" r="2.1"/>
<circle cx="804.7" cy="913.4" r="1.5"/>
<circle cx="804.7" cy="914.0" r="1.8"/>
<circle cx="802.9" cy="916.2" r="1.7"/>
<circle cx="805.1" cy="914.2" r="1.0"/>
<circle cx="801.5" cy="916.3" r="2.3"/>
<circle cx="802.7" cy="920.7" r="1.7"/>
<circle cx="804.9" cy="919.1" r="2.0"/>
<circle cx="806.3" cy="923.1" r="1.8"/>
<circle cx="804.3" cy="920.4" r="0.9"/>
<circle cx="807.1" cy="917.7" r="2.3"/>
<circle cx="805.9" cy="926.0" r="1.7"/>
<circle cx="803.4" cy="923.4" r="2.0"/>
<circle cx="805.9" cy="927.2" r="1.9"/>
<circle cx="807.0" cy="923.3" r="0.9"/>
<circle cx="805.4" cy="922.0" r="1.0"/>
<circle cx="808.5" cy="926.3" r="1.0"/>
<circle cx="807.6" cy="927.8" r="1.0"/>
<circle cx="808.0" cy="926.2" r="1.2"/>
<circle cx="807.2" cy="927.2" r="1.3"/>
<circle cx="807.4" cy="926.4" r="0.8"/>
<circle cx="809.6" cy="934.2" r="1.5"/>
<circle cx="813.1" cy="931.9" r="2.3"/>
<circle cx="809.4" cy="934.0" r="1.0"/>
<circle cx="814.2" cy="932.2" r="0.8"/>
<circle cx="806.1" cy="939.5" r="2.0"/>
<circle cx="807.7" cy="937.1" r="1.3"/>
<circle cx="806.4" cy="937.8" r="1.8"/>
<circle cx="808.2" cy="939.3" r="1.7"/>
<circle cx="808.7" cy="936.8" r="1.1"/>
<circle cx="804.1" cy="935.9" r="1.3"/>
<circle cx="801.4" cy="940.0" r="0.9"/>
<circle cx="798.9" cy="938.1" r="1.1"/>
<circle cx="801.3" cy="936.9" r="2.3"/>
<circle cx="804.6" cy="940.6" r="1.8"/>
<circle cx="797.9" cy="941.1" r="1.6"/>
<circle cx="801.2" cy="939.7" r="1.2"/>
<circle cx="794.9" cy="939.1" r="2.0"/>
<circle cx="791.9" cy="935.2" r="1.7"/>
<circle cx="795.0" cy="938.9" r="1.0"/>
<circle cx="792.9" cy="935.6" r="1.3"/>
<circle cx="793.0" cy="938.8" r="1.4"/>
<circle cx="1007.5" cy="764.2" r="1.6"/>
<circle cx="1007.8" cy="765.9" r="1.3"/>
<circle cx="1005.2" cy="765.4" r="1.3"/>
<circle cx="1002.6" cy="764.9" r="2.3"/>
<circle cx="1001.7" cy="760.9" r="2.2"/>
<circle cx="1009.3" cy="759.9" r="1.0"/>
<circle cx="1005.6" cy="758.2" r="2.0"/>
<circle cx="1003.5" cy="758.7" r="1.3"/>
<circle cx="1008.3" cy="760.5" r="1.3"/>
<circle cx="1002.4" cy="762.1" r="1.3"/>
<circle cx="1003.1" cy="761.4" r="1.0"/>
<circle cx="1001.4" cy="760.0" r="2.3"/>
<circle cx="1006.3" cy="762.8" r="1.2"/>
<circle cx="1008.1" cy="760.0" r="1.2"/>
<circle cx="1000.2" cy="763.1" r="1.9"/>
<circle cx="1000.8" cy="762.8" r="1.3"/>
<circle cx="1006.5" cy="790.9" r="1.7"/>
<circle cx="1008.6" cy="794.9" r="1.4"/>
<circle cx="1009.1" cy="790.6" r="1.9"/>
<circle cx="1004.9" cy="787.3" r="2.3"/>
<circle cx="1002.1" cy="784.5" r="2.1"/>
<circle cx="1004.6" cy="793.2" r="1.3"/>
<circle cx="1003.2" cy="788.3" r="1.6"/>
<circle cx="1003.9" cy="791.6" r="1.8"/>
<circle cx="1004.6" cy="787.7" r="1.2"/>
<circle cx="1002.1" cy="787.7" r="1.8"/>
<circle cx="1008.2" cy="784.4" r="2.1"/>
<circle cx="999.6" cy="786.5" r="1.8"/>
<circle cx="1003.1" cy="790.1" r="1.5"/>
<circle cx="1003.6" cy="792.0" r="1.4"/>
<circle cx="1005.6" cy="791.5" r="1.8"/>
<circle cx="1000.4" cy="792.3" r="2.0"/>
<circle cx="1010.6" cy="787.7" r="1.2"/>
<circle cx="1001.5" cy="784.9" r="1.1"/>
<circle cx="1001.2" cy="796.7" r="1.2"/>
<circle cx="1005.2" cy="794.9" r="1.2"/>
<circle cx="1002.0" cy="796.4" r="2.2"/>
<circle cx="999.6" cy="798.9" r="1.5"/>
<circle cx="998.2" cy="797.9" r="2.3"/>
<circle cx="1003.0" cy="797.3" r="2.0"/>
<circle cx="1001.6" cy="793.4" r="1.4"/>
<circle cx="1002.5" cy="796.6" r="1.8"/>
<circle cx="1003.2" cy="794.6" r="1.8"/>
<circle cx="998.2" cy="798.8" r="2.4"/>
<circle cx="966.0" cy="822.4" r="1.7"/>
<circle cx="969.3" cy="827.0" r="1.1"/>
<circle cx="964.6" cy="824.4" r="1.8"/>
<circle cx="968.1" cy="822.9" r="1.5"/>
<circle cx="969.3" cy="818.2" r="1.9"/>
<circle cx="971.6" cy="821.1" r="1.4"/>
<circle cx="965.4" cy="818.0" r="2.0"/>
<circle cx="972.2" cy="818.3" r="1.0"/>
<circle cx="968.2" cy="820.4" r="2.0"/>
<circle cx="970.4" cy="817.6" r="1.3"/>
<circle cx="968.4" cy="822.8" r="2.2"/>
<circle cx="968.5" cy="818.9" r="1.8"/>
<circle cx="952.2" cy="844.6" r="1.3"/>
<circle cx="956.4" cy="846.1" r="1.7"/>
<circle cx="950.9" cy="846.6" r="1.3"/>
<circle cx="955.8" cy="848.5" r="2.1"/>
<circle cx="952.3" cy="848.8" r="1.6"/>
<circle cx="951.6" cy="851.2" r="1.3"/>
<circle cx="952.3" cy="849.7" r="2.2"/>
<circle cx="952.1" cy="846.1" r="1.2"/>
<circle cx="955.8" cy="848.4" r="1.9"/>
<circle cx="953.4" cy="849.0" r="2.2"/>
<circle cx="956.1" cy="848.5" r="2.2"/>
<circle cx="951.2" cy="845.5" r="2.0"/>
<circle cx="892.6" cy="880.7" r="1.9"/>
<circle cx="884.2" cy="878.6" r="2.4"/>
<circle cx="887.7" cy="879.6" r="1.2"/>
<circle cx="886.5" cy="882.7" r="2.0"/>
<circle cx="887.3" cy="882.6" r="1.3"/>
<circle cx="889.4" cy="878.8" r="2.1"/>
<circle cx="890.5" cy="885.3" r="1.2"/>
<circle cx="890.6" cy="884.7" r="1.4"/>
<circle cx="890.7" cy="882.0" r="1.7"/>
<circle cx="894.3" cy="885.6" r="1.1"/>
<circle cx="890.9" cy="880.5" r="1.5"/>
<circle cx="892.6" cy="884.7" r="1.1"/>
<circle cx="887.7" cy="879.4" r="1.4"/>
<circle cx="886.8" cy="878.9" r="1.1"/>
<circle cx="894.3" cy="879.5" r="2.1"/>
<circle cx="891.7" cy="881.2" r="1.2"/>
<circle cx="876.9" cy="879.4" r="2.0"/>
<circle cx="883.5" cy="879.7" r="2.1"/>
<circle cx="878.1" cy="878.3" r="2.2"/>
<circle cx="877.8" cy="879.2" r="1.8"/>
<circle cx="881.8" cy="873.8" r="1.2"/>
<circle cx="881.9" cy="880.0" r="1.5"/>
<circle cx="880.9" cy="877.6" r="1.6"/>
<circle cx="883.0" cy="877.5" r="1.3"/>
<circle cx="1032.6" cy="696.9" r="1.0"/>
<circle cx="1036.3" cy="697.1" r="1.5"/>
<circle cx="1034.4" cy="693.4" r="1.1"/>
<circle cx="1038.3" cy="692.5" r="1.9"/>
<circle cx="1033.6" cy="693.6" r="1.2"/>
<circle cx="1031.4" cy="695.8" r="1.6"/>
<circle cx="1033.9" cy="694.5" r="2.3"/>
<circle cx="1035.0" cy="696.9" r="2.1"/>
<circle cx="1037.0" cy="693.8" r="1.6"/>
<circle cx="1036.3" cy="692.2" r="1.2"/>
<circle cx="1035.3" cy="696.7" r="1.0"/>
<circle cx="1039.5" cy="696.5" r="2.2"/>
<circle cx="1035.8" cy="692.7" r="1.5"/>
<circle cx="1035.6" cy="694.2" r="1.6"/>
<circle cx="1026.2" cy="716.9" r="2.0"/>
<circle cx="1035.0" cy="713.7" r="1.8"/>
<circle cx="1031.6" cy="712.3" r="1.3"/>
<circle cx="1026.9" cy="713.8" r="2.3"/>
<circle cx="1029.1" cy="712.9" r="1.9"/>
<circle cx="1026.2" cy="710.7" r="1.2"/>
<circle cx="1027.8" cy="713.4" r="1.6"/>
<circle cx="1027.3" cy="715.7" r="1.6"/>
<circle cx="1027.6" cy="713.8" r="1.7"/>
<circle cx="1032.1" cy="715.6" r="1.1"/>
<circle cx="1028.6" cy="714.0" r="2.1"/>
<circle cx="1032.5" cy="712.5" r="1.6"/>
<circle cx="1020.3" cy="729.3" r="1.1"/>
<circle cx="1022.4" cy="730.5" r="1.2"/>
<circle cx="1022.0" cy="729.0" r="1.2"/>
<circle cx="1021.9" cy="727.2" r="1.2"/>
<circle cx="1022.4" cy="728.1" r="1.8"/>
<circle cx="1022.5" cy="731.7" r="1.8"/>
<circle cx="1025.9" cy="728.5" r="2.1"/>
<circle cx="1022.0" cy="731.7" r="2.2"/>
<circle cx="1027.2" cy="726.8" r="1.6"/>
<circle cx="1023.0" cy="728.6" r="1.4"/>
<circle cx="1012.7" cy="749.4" r="2.1"/>
<circle cx="1010.5" cy="742.7" r="1.6"/>
<circle cx="1011.7" cy="743.9" r="1.0"/>
<circle cx="1008.6" cy="744.8" r="1.7"/>
<circle cx="1014.8" cy="744.2" r="1.4"/>
<circle cx="1014.3" cy="747.4" r="1.4"/>
<circle cx="1014.5" cy="746.7" r="2.3"/>
<circle cx="1013.5" cy="743.2" r="1.3"/>
<circle cx="1011.1" cy="745.5" r="1.9"/>
<circle cx="1012.4" cy="748.5" r="2.1"/>
<circle cx="982.5" cy="813.5" r="1.8"/>
<circle cx="979.0" cy="810.3" r="2.1"/>
<circle cx="980.5" cy="812.7" r="2.1"/>
<circle cx="981.8" cy="811.7" r="1.5"/>
<circle cx="985.0" cy="814.1" r="2.1"/>
<circle cx="982.3" cy="811.6" r="1.6"/>
<circle cx="985.7" cy="812.5" r="2.1"/>
<circle cx="983.7" cy="815.1" r="1.1"/>
<circle cx="944.3" cy="861.8" r="1.3"/>
<circle cx="938.7" cy="854.4" r="2.1"/>
<circle cx="939.5" cy="858.8" r="1.6"/>
<circle cx="943.5" cy="861.1" r="1.7"/>
<circle cx="941.7" cy="855.9" r="1.3"/>
<circle cx="941.5" cy="859.2" r="2.0"/>
<circle cx="939.5" cy="858.2" r="2.4"/>
<circle cx="940.3" cy="859.6" r="1.3"/>
<circle cx="765.8" cy="906.4" r="1.6"/>
<circle cx="764.1" cy="906.0" r="2.0"/>
<circle cx="764.4" cy="907.1" r="1.6"/>
<circle cx="768.6" cy="904.0" r="2.1"/>
<circle cx="765.2" cy="905.9" r="1.2"/>
<circle cx="766.5" cy="904.0" r="1.3"/>
<circle cx="766.5" cy="904.3" r="1.8"/>
<circle cx="765.0" cy="905.8" r="2.1"/>
<circle cx="766.9" cy="903.8" r="1.2"/>
<circle cx="765.3" cy="904.6" r="2.1"/>
<circle cx="774.9" cy="910.9" r="1.1"/>
<circle cx="773.5" cy="909.8" r="1.2"/>
<circle cx="774.9" cy="907.8" r="2.0"/>
<circle cx="778.4" cy="908.1" r="1.5"/>
<circle cx="774.2" cy="911.5" r="1.5"/>
<circle cx="774.4" cy="910.0" r="1.2"/>
<circle cx="777.3" cy="911.0" r="2.1"/>
<circle cx="776.8" cy="909.5" r="1.2"/>
<circle cx="806.3" cy="920.4" r="2.0"/>
<circle cx="804.4" cy="921.5" r="1.2"/>
<circle cx="805.1" cy="918.6" r="2.1"/>
<circle cx="810.0" cy="920.5" r="1.5"/>
<circle cx="803.2" cy="920.7" r="1.3"/>
<circle cx="807.6" cy="918.7" r="1.7"/>
<circle cx="807.5" cy="917.8" r="2.0"/>
<circle cx="806.7" cy="921.0" r="1.3"/>
<circle cx="803.9" cy="919.8" r="2.1"/>
<circle cx="806.0" cy="921.8" r="1.5"/>
<circle cx="804.2" cy="922.7" r="1.6"/>
<circle cx="806.0" cy="918.1" r="2.0"/>
<circle cx="808.3" cy="927.8" r="2.1"/>
<circle cx="808.5" cy="928.8" r="1.7"/>
<circle cx="808.2" cy="928.4" r="2.0"/>
<circle cx="806.3" cy="932.5" r="1.5"/>
<circle cx="810.8" cy="928.1" r="1.5"/>
<circle cx="809.8" cy="929.5" r="1.7"/>
<circle cx="806.2" cy="933.2" r="1.5"/>
<circle cx="806.1" cy="929.1" r="1.9"/>
<circle cx="806.4" cy="929.1" r="2.1"/>
<circle cx="807.2" cy="930.3" r="1.9"/>
<circle cx="802.1" cy="915.0" r="1.5"/>
<circle cx="802.3" cy="912.7" r="2.0"/>
<circle cx="805.1" cy="914.2" r="1.6"/>
<circle cx="806.3" cy="915.9" r="1.4"/>
<circle cx="804.3" cy="914.1" r="1.3"/>
<circle cx="803.9" cy="914.5" r="1.3"/>
<circle cx="804.2" cy="916.1" r="1.1"/>
<circle cx="802.4" cy="913.5" r="1.0"/>
<circle cx="862.2" cy="890.5" r="1.3"/>
<circle cx="861.4" cy="894.2" r="2.0"/>
<circle cx="863.5" cy="894.7" r="1.7"/>
<circle cx="859.3" cy="891.9" r="1.5"/>
<circle cx="857.0" cy="894.7" r="1.1"/>
<circle cx="860.3" cy="896.4" r="1.5"/>
<circle cx="858.9" cy="892.5" r="2.2"/>
<circle cx="861.7" cy="898.7" r="1.0"/>
<circle cx="861.0" cy="892.9" r="1.3"/>
<circle cx="856.3" cy="896.1" r="1.2"/>
<circle cx="881.2" cy="880.2" r="1.6"/>
<circle cx="884.1" cy="870.8" r="2.0"/>
<circle cx="885.8" cy="882.8" r="1.7"/>
<circle cx="885.8" cy="873.2" r="2.0"/>
<circle cx="886.5" cy="877.0" r="1.9"/>
<circle cx="889.0" cy="877.1" r="1.2"/>
<circle cx="886.2" cy="883.1" r="2.2"/>
<circle cx="884.0" cy="884.9" r="1.4"/>
<circle cx="884.4" cy="875.4" r="2.2"/>
<circle cx="882.7" cy="879.0" r="1.2"/>
<circle cx="886.9" cy="879.0" r="1.2"/>
<circle cx="887.9" cy="878.1" r="1.6"/>
<circle cx="888.0" cy="886.0" r="1.8"/>
<circle cx="887.5" cy="878.5" r="1.6"/>
<circle cx="894.2" cy="877.3" r="1.0"/>
<circle cx="893.4" cy="876.1" r="2.0"/>
<circle cx="895.6" cy="873.8" r="1.7"/>
<circle cx="895.5" cy="880.5" r="1.8"/>
<circle cx="895.2" cy="880.0" r="1.1"/>
<circle cx="894.1" cy="875.1" r="1.3"/>
<circle cx="894.2" cy="873.2" r="1.3"/>
<circle cx="898.5" cy="877.5" r="2.1"/>
<circle cx="899.0" cy="879.6" r="1.7"/>
<circle cx="895.2" cy="877.0" r="1.5"/>
<circle cx="900.9" cy="878.9" r="2.2"/>
<circle cx="894.5" cy="874.2" r="1.9"/>
<circle cx="854.1" cy="902.6" r="1.5"/>
<circle cx="850.9" cy="899.5" r="1.1"/>
<circle cx="852.0" cy="899.0" r="1.6"/>
<circle cx="850.8" cy="897.0" r="1.5"/>
<circle cx="850.1" cy="896.7" r="1.2"/>
<circle cx="849.7" cy="900.7" r="1.8"/>
<circle cx="1038.8" cy="671.3" r="0.9"/>
<circle cx="1033.7" cy="683.0" r="1.3"/>
<circle cx="1039.1" cy="681.0" r="1.0"/>
<circle cx="1047.5" cy="669.8" r="1.7"/>
<circle cx="1037.9" cy="674.3" r="1.5"/>
<circle cx="1044.1" cy="684.4" r="1.5"/>
<circle cx="1044.3" cy="665.1" r="1.4"/>
<circle cx="1044.0" cy="673.0" r="0.7"/>
<circle cx="1045.7" cy="675.3" r="0.7"/>
<circle cx="1037.1" cy="672.1" r="0.8"/>
<circle cx="1044.6" cy="652.5" r="1.4"/>
<circle cx="1037.6" cy="669.1" r="1.1"/>
<circle cx="1041.5" cy="670.3" r="1.1"/>
<circle cx="1040.2" cy="677.0" r="0.8"/>
<circle cx="1039.5" cy="665.7" r="1.8"/>
<circle cx="1036.6" cy="681.9" r="1.0"/>
<circle cx="1040.2" cy="669.6" r="1.8"/>
<circle cx="1040.1" cy="683.5" r="1.0"/>
<circle cx="1046.2" cy="672.9" r="0.8"/>
<circle cx="1040.7" cy="667.2" r="0.7"/>
<circle cx="1033.6" cy="669.8" r="1.4"/>
<circle cx="1039.6" cy="669.8" r="1.7"/>
<circle cx="1042.9" cy="661.1" r="0.6"/>
<circle cx="1039.1" cy="676.6" r="1.7"/>
<circle cx="1039.4" cy="679.0" r="0.9"/>
<circle cx="1039.7" cy="668.5" r="1.2"/>
<circle cx="1040.1" cy="665.4" r="0.9"/>
<circle cx="1036.8" cy="671.6" r="1.5"/>
<circle cx="1041.4" cy="667.3" r="0.7"/>
<circle cx="1039.5" cy="672.8" r="1.6"/>
<circle cx="1046.4" cy="669.3" r="1.2"/>
<circle cx="1036.0" cy="668.5" r="1.2"/>
<circle cx="1032.7" cy="663.0" r="1.0"/>
<circle cx="1043.3" cy="678.1" r="0.7"/>
<circle cx="1037.7" cy="679.7" r="1.6"/>
<circle cx="1027.5" cy="661.1" r="1.5"/>
<circle cx="1050.3" cy="670.6" r="1.0"/>
<circle cx="1043.3" cy="681.8" r="1.5"/>
<circle cx="1032.3" cy="679.1" r="1.4"/>
<circle cx="1040.1" cy="671.6" r="1.6"/>
<circle cx="1042.6" cy="668.5" r="1.6"/>
<circle cx="1039.2" cy="685.6" r="1.6"/>
<circle cx="1041.1" cy="669.3" r="0.8"/>
<circle cx="1036.5" cy="670.5" r="1.1"/>
<circle cx="1050.7" cy="668.1" r="0.8"/>
<circle cx="991.5" cy="453.9" r="1.4"/>
<circle cx="995.5" cy="450.6" r="1.0"/>
<circle cx="993.7" cy="452.9" r="1.6"/>
<circle cx="991.9" cy="452.2" r="1.7"/>
<circle cx="994.6" cy="450.2" r="1.6"/>
<circle cx="991.6" cy="449.4" r="1.5"/>
<circle cx="992.1" cy="446.8" r="1.4"/>
<circle cx="991.5" cy="446.9" r="1.7"/>
<circle cx="993.5" cy="447.6" r="1.0"/>
<circle cx="987.9" cy="452.7" r="0.8"/>
<circle cx="988.4" cy="455.1" r="1.8"/>
<circle cx="986.5" cy="450.5" r="0.9"/>
<circle cx="984.0" cy="449.0" r="1.1"/>
<circle cx="986.9" cy="446.6" r="1.3"/>
<circle cx="983.2" cy="458.8" r="1.0"/>
<circle cx="985.1" cy="458.7" r="0.9"/>
<circle cx="985.9" cy="461.0" r="1.5"/>
<circle cx="985.0" cy="458.1" r="1.3"/>
<circle cx="985.2" cy="460.0" r="1.7"/>
<circle cx="984.7" cy="458.8" r="1.6"/>
<circle cx="987.5" cy="455.4" r="1.1"/>
<circle cx="986.3" cy="457.3" r="1.8"/>
<circle cx="995.4" cy="442.5" r="1.0"/>
<circle cx="996.5" cy="439.4" r="0.9"/>
<circle cx="993.1" cy="440.9" r="1.5"/>
<circle cx="998.4" cy="441.6" r="1.0"/>
<circle cx="998.4" cy="444.8" r="1.0"/>
<circle cx="998.3" cy="440.2" r="1.2"/>
<circle cx="985.9" cy="520.9" r="1.3"/>
<circle cx="987.2" cy="523.2" r="0.9"/>
<circle cx="985.5" cy="522.0" r="1.8"/>
<circle cx="984.8" cy="521.0" r="1.0"/>
<circle cx="986.1" cy="520.2" r="1.4"/>
<circle cx="987.0" cy="522.2" r="1.3"/>
<circle cx="976.6" cy="529.0" r="0.8"/>
<circle cx="975.1" cy="529.6" r="0.8"/>
<circle cx="977.3" cy="530.8" r="1.2"/>
<circle cx="975.9" cy="532.0" r="0.9"/>
<circle cx="975.6" cy="531.4" r="1.0"/>
<circle cx="977.3" cy="529.6" r="1.3"/>
<circle cx="1022.7" cy="634.1" r="1.0"/>
<circle cx="1011.8" cy="636.2" r="1.6"/>
<circle cx="1019.3" cy="636.0" r="1.7"/>
<circle cx="1019.4" cy="636.0" r="1.2"/>
<circle cx="1019.9" cy="632.5" r="1.6"/>
<circle cx="1023.3" cy="633.6" r="1.7"/>
<circle cx="1018.8" cy="634.4" r="1.5"/>
<circle cx="1019.5" cy="639.8" r="1.7"/>
<circle cx="1015.7" cy="635.9" r="0.8"/>
<circle cx="1016.3" cy="633.3" r="1.7"/>
<circle cx="1021.3" cy="635.8" r="1.6"/>
<circle cx="1017.5" cy="633.2" r="1.8"/>
<circle cx="1024.4" cy="637.3" r="0.9"/>
<circle cx="1019.9" cy="638.8" r="0.9"/>
<circle cx="1023.5" cy="637.7" r="1.6"/>
<circle cx="1022.1" cy="638.5" r="1.6"/>
<circle cx="1026.4" cy="637.7" r="0.9"/>
<circle cx="1022.6" cy="639.7" r="1.2"/>
<circle cx="1022.8" cy="641.8" r="1.7"/>
<circle cx="1023.2" cy="635.8" r="0.9"/>
<circle cx="1021.3" cy="639.6" r="1.5"/>
<circle cx="1023.5" cy="639.2" r="1.7"/>
<circle cx="1017.1" cy="496.6" r="1.4"/>
<circle cx="1014.3" cy="495.7" r="1.6"/>
<circle cx="1015.2" cy="496.8" r="1.7"/>
<circle cx="1016.2" cy="496.3" r="1.5"/>
<circle cx="1018.4" cy="494.8" r="1.4"/>
<circle cx="1012" cy="447" r="1.3"/>
<circle cx="1016" cy="449" r="1.3"/>
<circle cx="1019" cy="448" r="1.3"/>
<circle cx="1009" cy="452" r="1.3"/>
<circle cx="996" cy="523" r="1.3"/>
<circle cx="1000" cy="447" r="1.3"/>
<circle cx="1008.2" cy="836" r="1.6"/>
<circle cx="1009" cy="841" r="1.4"/>
<circle cx="1006" cy="845" r="1.2"/>
<circle cx="1087" cy="769.7" r="1.2"/>
<circle cx="1084.5" cy="772" r="1.0"/>
<circle cx="1108.3" cy="762.9" r="1.0"/>
<circle cx="1055" cy="780.6" r="1.2"/>
<circle cx="1053" cy="784" r="1.0"/>
<circle cx="1057.9" cy="866.7" r="1.8"/>
<circle cx="1054.2" cy="852" r="1.3"/>
<circle cx="994" cy="1042" r="2.2"/>
<circle cx="882.5" cy="1271" r="2.2"/>
<circle cx="879" cy="1266" r="1.4"/>
<circle cx="884" cy="1277" r="1.2"/>
<circle cx="875" cy="1308" r="1.0"/>
<circle cx="880" cy="1309" r="1.0"/>
<circle cx="755" cy="944" r="1.2"/>
<circle cx="778" cy="951" r="1.2"/>
<circle cx="827" cy="945" r="1.4"/>
<circle cx="1043" cy="875" r="1.0"/>
<circle cx="1046.5" cy="879" r="1.0"/>
<circle cx="840.7" cy="1029.2" r="1.5"/>
<circle cx="860.3" cy="1022.5" r="0.8"/>
<circle cx="843.9" cy="1025.8" r="1.0"/>
<circle cx="846.4" cy="1021.2" r="1.0"/>
<circle cx="844.8" cy="1022.2" r="1.9"/>
<circle cx="860.2" cy="1013.6" r="1.3"/>
<circle cx="863.3" cy="1011.0" r="1.6"/>
<circle cx="860.1" cy="1017.3" r="0.8"/>
<circle cx="845.8" cy="1019.2" r="1.6"/>
<circle cx="837.7" cy="1015.2" r="1.7"/>
<circle cx="836.4" cy="1025.9" r="1.2"/>
<circle cx="846.7" cy="1021.2" r="1.2"/>
<circle cx="862.8" cy="1033.9" r="1.5"/>
<circle cx="859.0" cy="1032.1" r="0.9"/>
<circle cx="851.4" cy="1011.7" r="1.7"/>
<circle cx="866.3" cy="1014.4" r="1.3"/>
<circle cx="949.4" cy="1175.9" r="0.9"/>
<circle cx="915.4" cy="1182.1" r="1.5"/>
<circle cx="992.9" cy="1122.5" r="1.4"/>
<circle cx="923.9" cy="1180.5" r="1.0"/>
<circle cx="922.2" cy="1164.0" r="1.5"/>
<circle cx="897.1" cy="1226.8" r="1.1"/>
<circle cx="883.8" cy="1189.6" r="1.6"/>
<circle cx="984.5" cy="1178.5" r="1.4"/>
<circle cx="952.1" cy="1163.0" r="1.4"/>
<circle cx="868.0" cy="1242.8" r="1.3"/>
<circle cx="926.9" cy="1160.4" r="1.4"/>
<circle cx="881.4" cy="1242.7" r="0.9"/>
<circle cx="906.7" cy="1169.9" r="1.0"/>
<circle cx="930.3" cy="1156.2" r="1.5"/>
<circle cx="946.0" cy="1193.0" r="1.2"/>
<circle cx="951.7" cy="1162.0" r="1.6"/>
<circle cx="1008.0" cy="1120.7" r="1.5"/>
<circle cx="977.6" cy="1142.0" r="0.9"/>
<circle cx="931.9" cy="1184.1" r="1.5"/>
<circle cx="971.8" cy="1150.7" r="1.7"/>
<circle cx="964.0" cy="1149.2" r="1.1"/>
<circle cx="922.4" cy="1211.9" r="1.8"/>
<circle cx="935.1" cy="1183.6" r="1.3"/>
<circle cx="969.6" cy="1131.7" r="1.6"/>
<circle cx="932.5" cy="1187.2" r="1.7"/>
<circle cx="867.3" cy="1219.8" r="1.8"/>
<circle cx="889.2" cy="1214.5" r="1.1"/>
<circle cx="972.9" cy="1169.9" r="1.0"/>
<circle cx="872.2" cy="1206.3" r="1.3"/>
<circle cx="977.6" cy="1187.1" r="1.4"/>
<circle cx="864.4" cy="1217.9" r="1.8"/>
<circle cx="862.5" cy="1217.8" r="1.1"/>
<circle cx="953.4" cy="1152.9" r="0.8"/>
<circle cx="879.8" cy="1213.7" r="1.3"/>
<circle cx="985.0" cy="1135.6" r="1.5"/>
<circle cx="998.3" cy="1116.1" r="1.3"/>
<circle cx="883.3" cy="1202.8" r="1.1"/>
<circle cx="971.3" cy="1146.0" r="1.9"/>
<circle cx="883.1" cy="1197.0" r="1.5"/>
<circle cx="869.8" cy="1196.3" r="1.2"/>
<circle cx="956.2" cy="1191.0" r="1.4"/>
<circle cx="895.8" cy="1207.4" r="1.9"/>
<circle cx="909.0" cy="1170.9" r="0.8"/>
<circle cx="922.4" cy="1217.8" r="1.8"/>
<circle cx="961.2" cy="1149.9" r="1.2"/>
<circle cx="884.0" cy="1205.8" r="1.6"/>
<circle cx="855.0" cy="1227.1" r="1.0"/>
<circle cx="949.0" cy="1192.8" r="1.6"/>
<circle cx="905.6" cy="1223.7" r="0.8"/>
<circle cx="897.2" cy="1179.6" r="1.6"/>
<circle cx="927.4" cy="1192.6" r="0.9"/>
<circle cx="866.6" cy="1235.6" r="1.5"/>
<circle cx="997.2" cy="1143.2" r="1.5"/>
<circle cx="918.6" cy="1215.3" r="1.1"/>
<circle cx="928.7" cy="1203.9" r="1.2"/>
<circle cx="919.4" cy="1164.3" r="1.9"/>
<circle cx="930.2" cy="1182.5" r="1.0"/>
<circle cx="915.6" cy="1182.8" r="1.0"/>
<circle cx="908.0" cy="1187.1" r="1.5"/>
<circle cx="861.7" cy="1254.1" r="1.7"/>
<circle cx="800.3" cy="1224.9" r="1.4"/>
<circle cx="801.1" cy="1235.4" r="1.6"/>
<circle cx="801.8" cy="1221.8" r="1.6"/>
<circle cx="807.4" cy="1231.7" r="1.4"/>
<circle cx="800.1" cy="1225.5" r="1.1"/>
<circle cx="821.4" cy="1215.9" r="1.3"/>
<circle cx="800.6" cy="1228.6" r="1.2"/>
<circle cx="824.1" cy="1237.7" r="1.5"/>
</g>
<ellipse cx="955" cy="915" rx="3.6" ry="3.2" fill="none" stroke="#3a3a3a" stroke-width="1.8"/>
<ellipse cx="908" cy="1034" rx="13.5" ry="7" transform="rotate(-22 908 1034)" fill="none" stroke="#3a3a3a" stroke-width="1.6" stroke-dasharray="2.5 1.2"/>
<path d="M1075,801 Q1074.2,815.5 1073.5,830" fill="none" stroke="#2b2b2b" stroke-width="1.8"/>
<path d="M1068.5,874.5 Q1061.8,886.0 1055,897.5" fill="none" stroke="#2b2b2b" stroke-width="1.8"/>
<path d="M1034,945 Q1030.0,957.5 1026,970" fill="none" stroke="#2b2b2b" stroke-width="1.8"/>
<path d="M1023.5,1018.5 Q1025.0,1030.2 1026.5,1042" fill="none" stroke="#2b2b2b" stroke-width="1.8"/>
<path d="M1034,1110 Q1033.1,1124.1 1027.5,1137" fill="none" stroke="#2b2b2b" stroke-width="1.8"/>
<path d="M975,1209.5 Q967.0,1219.8 959,1230" fill="none" stroke="#2b2b2b" stroke-width="1.8"/>
<path d="M895,1313.5 Q880.0,1317.8 865,1322" fill="none" stroke="#2b2b2b" stroke-width="1.8"/>
<path d="M785,1036 Q797.5,1043.9 800,1058.5" fill="none" stroke="#2b2b2b" stroke-width="1.8"/>
<path d="M816,1126 Q819.4,1139.2 811,1150" fill="none" stroke="#2b2b2b" stroke-width="1.8"/>
<path d="M765.8,1246 Q762.4,1258.7 769,1270" fill="none" stroke="#2b2b2b" stroke-width="1.8"/>
<defs><g id="vo"><circle r="10.0" fill="#FCA50F" stroke="#000" stroke-width="1.3"/><path d="M-7.1,-7.1 L7.1,7.1 M7.1,-7.1 L-7.1,7.1" stroke="#000" stroke-width="1.3"/></g><circle id="sb" r="10.7" fill="#0A5AE6" stroke="#0b3a9a" stroke-width="0.5"/></defs>
<use href="#vo" x="364.7" y="502.3"/>
<use href="#vo" x="387.0" y="495.0"/>
<use href="#vo" x="381.6" y="524.1"/>
<use href="#vo" x="191.8" y="512.7"/>
<use href="#vo" x="223.3" y="527.3"/>
<use href="#vo" x="196.7" y="529.7"/>
<use href="#vo" x="202.7" y="532.1"/>
<use href="#vo" x="214.8" y="523.6"/>
<use href="#vo" x="203.9" y="547.9"/>
<use href="#vo" x="220.9" y="550.3"/>
<use href="#vo" x="191.8" y="568.5"/>
<use href="#vo" x="215.6" y="581.8"/>
<use href="#vo" x="402.7" y="538.2"/>
<use href="#vo" x="394.2" y="540.6"/>
<use href="#vo" x="374.8" y="549.1"/>
<use href="#vo" x="393.0" y="550.3"/>
<use href="#vo" x="428.2" y="550.3"/>
<use href="#vo" x="430.6" y="569.7"/>
<use href="#vo" x="399.1" y="567.3"/>
<use href="#vo" x="366.4" y="566.1"/>
<use href="#vo" x="351.8" y="568.5"/>
<use href="#vo" x="350.6" y="579.4"/>
<use href="#vo" x="291.2" y="557.6"/>
<use href="#vo" x="300.9" y="560.0"/>
<use href="#vo" x="296.1" y="564.8"/>
<use href="#vo" x="285.2" y="573.3"/>
<use href="#vo" x="314.2" y="597.6"/>
<use href="#vo" x="240.3" y="593.9"/>
<use href="#vo" x="235.5" y="596.4"/>
<use href="#vo" x="233.0" y="615.8"/>
<use href="#vo" x="259.7" y="608.5"/>
<use href="#vo" x="271.8" y="609.7"/>
<use href="#vo" x="237.9" y="623.0"/>
<use href="#vo" x="252.4" y="630.3"/>
<use href="#vo" x="270.6" y="632.7"/>
<use href="#vo" x="281.5" y="635.2"/>
<use href="#vo" x="264.5" y="643.6"/>
<use href="#vo" x="283.9" y="643.6"/>
<use href="#vo" x="296.1" y="660.6"/>
<use href="#vo" x="279.1" y="670.3"/>
<use href="#vo" x="273.0" y="692.1"/>
<use href="#vo" x="307.7" y="688.0"/>
<use href="#vo" x="191.8" y="629.1"/>
<use href="#vo" x="196.2" y="631.5"/>
<use href="#vo" x="210.5" y="633.9"/>
<use href="#vo" x="356.7" y="592.7"/>
<use href="#vo" x="377.3" y="598.8"/>
<use href="#vo" x="385.8" y="598.8"/>
<use href="#vo" x="334.8" y="604.8"/>
<use href="#vo" x="347.0" y="606.1"/>
<use href="#vo" x="338.5" y="617.0"/>
<use href="#vo" x="354.2" y="620.6"/>
<use href="#vo" x="363.9" y="615.8"/>
<use href="#vo" x="376.8" y="620.6"/>
<use href="#vo" x="353.0" y="635.2"/>
<use href="#vo" x="307.0" y="631.5"/>
<use href="#vo" x="304.5" y="638.8"/>
<use href="#vo" x="315.5" y="646.1"/>
<use href="#vo" x="321.5" y="649.7"/>
<use href="#vo" x="340.9" y="650.9"/>
<use href="#vo" x="351.8" y="653.3"/>
<use href="#vo" x="342.1" y="665.5"/>
<use href="#vo" x="391.8" y="633.9"/>
<use href="#vo" x="388.2" y="641.2"/>
<use href="#vo" x="385.8" y="650.9"/>
<use href="#vo" x="402.7" y="647.3"/>
<use href="#vo" x="405.2" y="654.5"/>
<use href="#vo" x="387.0" y="664.2"/>
<use href="#vo" x="372.4" y="707.9"/>
<use href="#vo" x="371.2" y="718.8"/>
<use href="#vo" x="273.5" y="293.0"/>
<use href="#vo" x="406.4" y="313.6"/>
<use href="#vo" x="382.6" y="343.9"/>
<use href="#vo" x="361.0" y="378.6"/>
<use href="#vo" x="707.6" y="481.5"/>
<use href="#vo" x="707.6" y="484.5"/>
<use href="#vo" x="890.2" y="250.9"/>
<use href="#vo" x="1001.2" y="284.8"/>
<use href="#vo" x="1014.5" y="297.0"/>
<use href="#vo" x="1095.3" y="309.8"/>
<use href="#vo" x="1147.2" y="259.4"/>
<use href="#vo" x="1143.8" y="266.2"/>
<use href="#vo" x="886.4" y="473.3"/>
<use href="#vo" x="883.2" y="505.3"/>
<use href="#vo" x="899.0" y="544.1"/>
<use href="#vo" x="966.4" y="603.0"/>
<use href="#vo" x="915.9" y="627.3"/>
<use href="#vo" x="928.1" y="623.6"/>
<use href="#vo" x="1005.2" y="643.0"/>
<use href="#vo" x="1010.0" y="650.3"/>
<use href="#vo" x="926.4" y="684.2"/>
<use href="#vo" x="880.3" y="689.1"/>
<use href="#vo" x="1029.4" y="681.3"/>
<use href="#vo" x="882.1" y="688.5"/>
<use href="#vo" x="838.5" y="713.9"/>
<use href="#vo" x="929.4" y="684.8"/>
<use href="#vo" x="590.4" y="758.8"/>
<use href="#vo" x="586.8" y="787.2"/>
<use href="#vo" x="638.2" y="827.9"/>
<use href="#vo" x="626.1" y="860.6"/>
<use href="#sb" x="181.6" y="552.7"/>
<use href="#sb" x="247.1" y="605.6"/>
<use href="#sb" x="325.2" y="626.7"/>
<use href="#sb" x="334.8" y="632.7"/>
<use href="#sb" x="356.7" y="649.0"/>
<use href="#sb" x="406.4" y="635.2"/>
<use href="#sb" x="413.2" y="547.9"/>
<use href="#sb" x="455.3" y="555.6"/>
<use href="#sb" x="382.8" y="709.1"/>
<use href="#sb" x="751.2" y="431.3"/>
<use href="#sb" x="822.0" y="436.7"/>
<use href="#sb" x="882.4" y="224.2"/>
<use href="#sb" x="1008.5" y="293.8"/>
<use href="#sb" x="917.2" y="569.8"/>
<use href="#sb" x="943.6" y="585.3"/>
<use href="#sb" x="954.2" y="603.0"/>
<use href="#sb" x="945.3" y="614.4"/>
<use href="#sb" x="969.3" y="613.5"/>
<use href="#sb" x="922.7" y="632.1"/>
<use href="#sb" x="938.7" y="649.1"/>
<use href="#sb" x="965.9" y="646.7"/>
<use href="#sb" x="968.8" y="656.4"/>
<use href="#sb" x="984.5" y="641.3"/>
<use href="#sb" x="994.2" y="651.0"/>
<use href="#sb" x="931.2" y="668.5"/>
<use href="#sb" x="920.3" y="687.9"/>
<use href="#sb" x="914.2" y="692.7"/>
<use href="#sb" x="919.1" y="706.1"/>
<use href="#sb" x="874.2" y="695.2"/>
<use href="#sb" x="856.1" y="700.0"/>
<use href="#sb" x="844.1" y="721.2"/>
<use href="#sb" x="920.2" y="713.2"/>
<use href="#sb" x="575.6" y="805.6"/>
<use href="#sb" x="629.7" y="830.8"/>
<use href="#sb" x="633.3" y="840.0"/>
<use href="#sb" x="630.9" y="847.3"/>
<use href="#sb" x="629.7" y="852.1"/>
<rect x="56.4" y="56" width="1204.6" height="1300" fill="none" stroke="#000" stroke-width="3.4"/>
<line x1="235.6" y1="41.5" x2="235.6" y2="56" stroke="#000" stroke-width="2.6"/>
<text x="235.6" y="31.5" font-size="36" text-anchor="middle">75°0'E</text>
<line x1="464" y1="41.5" x2="464" y2="56" stroke="#000" stroke-width="2.6"/>
<text x="464" y="31.5" font-size="36" text-anchor="middle">90°0'E</text>
<line x1="681.9" y1="41.5" x2="681.9" y2="56" stroke="#000" stroke-width="2.6"/>
<text x="681.9" y="31.5" font-size="36" text-anchor="middle">105°0'E</text>
<line x1="900" y1="41.5" x2="900" y2="56" stroke="#000" stroke-width="2.6"/>
<text x="900" y="31.5" font-size="36" text-anchor="middle">120°0'E</text>
<line x1="1127.2" y1="41.5" x2="1127.2" y2="56" stroke="#000" stroke-width="2.6"/>
<text x="1127.2" y="31.5" font-size="36" text-anchor="middle">135°0'E</text>
<line x1="41" y1="82.7" x2="56" y2="82.7" stroke="#000" stroke-width="2.6"/>
<text transform="translate(31.5,82.7) rotate(-90)" font-size="36" text-anchor="middle">50°0'N</text>
<line x1="41" y1="346.7" x2="56" y2="346.7" stroke="#000" stroke-width="2.6"/>
<text transform="translate(31.5,346.7) rotate(-90)" font-size="36" text-anchor="middle">40°0'N</text>
<line x1="41" y1="607.6" x2="56" y2="607.6" stroke="#000" stroke-width="2.6"/>
<text transform="translate(31.5,607.6) rotate(-90)" font-size="36" text-anchor="middle">30°0'N</text>
<line x1="41" y1="861.4" x2="56" y2="861.4" stroke="#000" stroke-width="2.6"/>
<text transform="translate(31.5,861.4) rotate(-90)" font-size="36" text-anchor="middle">20°0'N</text>
<line x1="41" y1="1104.6" x2="56" y2="1104.6" stroke="#000" stroke-width="2.6"/>
<text transform="translate(31.5,1104.6) rotate(-90)" font-size="36" text-anchor="middle">10°0'N</text>
<line x1="41" y1="1330.3" x2="56" y2="1330.3" stroke="#000" stroke-width="2.6"/>
<text transform="translate(31.5,1330.3) rotate(-90)" font-size="36" text-anchor="middle">0°0'</text>
<text x="148.4" y="146.7" font-size="39" text-anchor="middle" font-family='"Liberation Sans", Arial, sans-serif'>N</text>
<path d="M147.9,157.6 L118.8,254.5 L147.4,217 Z" fill="#000"/>
<path d="M147.9,160 L176.2,253 L147.6,217.5 Z" fill="#fff" stroke="#000" stroke-width="2.3" stroke-linejoin="miter"/>
<text x="205.6" y="146.7" font-size="40">(a)</text>
<text x="209.5" y="443.4" font-size="41.5" font-weight="bold" textLength="112.5" lengthAdjust="spacingAndGlyphs">IMXL</text>
<text x="441.4" y="657.6" font-size="41.5" font-weight="bold" textLength="79.8" lengthAdjust="spacingAndGlyphs">TPL</text>
<text x="614.2" y="728.6" font-size="41.5" font-weight="bold" textLength="111" lengthAdjust="spacingAndGlyphs">YGPL</text>
<text x="850.6" y="802" font-size="41.5" font-weight="bold" textLength="79.8" lengthAdjust="spacingAndGlyphs">EPL</text>
<text x="1019.4" y="250.7" font-size="41.5" font-weight="bold" textLength="121.6" lengthAdjust="spacingAndGlyphs">NPML</text>
<circle cx="135.8" cy="820" r="10.7" fill="#0A5AE6" stroke="#0b3a9a" stroke-width="0.6"/>
<text x="181.6" y="833.6" font-size="36">Sampling lakes</text>
<g transform="translate(135.3,872.9)"><circle r="10.0" fill="#FCA50F" stroke="#000" stroke-width="1.3"/><path d="M-7.1,-7.1 L7.1,7.1 M7.1,-7.1 L-7.1,7.1" stroke="#000" stroke-width="1.3"/></g>
<text x="183.3" y="884" font-size="36">Validated lakes</text>
<text x="109.4" y="933" font-size="36">DEM/m</text>
<rect x="108.3" y="946.8" width="52" height="37" rx="1" fill="#FFFDE6" stroke="#6b6661" stroke-width="2.1"/>
<text x="181.6" y="976.8" font-size="36">-206 - 1,000</text>
<rect x="108.3" y="996.7" width="52" height="37" rx="1" fill="#FFF2C2" stroke="#6b6661" stroke-width="2.1"/>
<text x="181.6" y="1026.7" font-size="36">1,001 - 2,000</text>
<rect x="108.3" y="1046.6" width="52" height="37" rx="1" fill="#E9D8BB" stroke="#6b6661" stroke-width="2.1"/>
<text x="181.6" y="1076.6" font-size="36">2,001 - 3,000</text>
<rect x="108.3" y="1096.5" width="52" height="37" rx="1" fill="#CFB293" stroke="#6b6661" stroke-width="2.1"/>
<text x="181.6" y="1126.5" font-size="36">3,001 - 4,000</text>
<rect x="108.3" y="1146.4" width="52" height="37" rx="1" fill="#B28B6C" stroke="#6b6661" stroke-width="2.1"/>
<text x="181.6" y="1176.4" font-size="36">4,001 - 8,412</text>
<line x1="107.5" y1="1210.8" x2="165" y2="1210.8" stroke="#333" stroke-width="1.6"/>
<text x="181.6" y="1223.6" font-size="36">Boundaries</text>
<rect x="107.7" y="1237.7" width="52.8" height="36.8" fill="#0569FF"/>
<text x="181.6" y="1267.3" font-size="36">Study lakes</text>
<rect x="109.6" y="1287" width="51.6" height="36" fill="#fff" stroke="#8a8a8a" stroke-width="1"/>
<text x="181.6" y="1315.8" font-size="36">Lake zones</text>
<rect x="422.2" y="1298.1" width="220.6" height="17.9" fill="#fff" stroke="#000" stroke-width="2"/>
<rect x="421.2" y="1297.1" width="112.3" height="19.9" fill="#000"/>
<text x="423.1" y="1280" font-size="36" text-anchor="middle">0</text>
<text x="532.7" y="1280" font-size="36" text-anchor="middle">500</text>
<text x="643.6" y="1280" font-size="36" text-anchor="middle">1,000</text>
<text x="651" y="1315.8" font-size="36">km</text>
<path d="M1449.30,31.70 A133.4,133.4 0 1 1 1316.03,170.92 L1369.18,168.60 A80.2,80.2 0 1 0 1449.30,84.90 Z" fill="#5B9BD5" stroke="#5B9BD5" stroke-width="0.4"/><path d="M1316.03,170.92 A133.4,133.4 0 0 1 1378.41,52.09 L1406.68,97.16 A80.2,80.2 0 0 0 1369.18,168.60 Z" fill="#A9D18E" stroke="#A9D18E" stroke-width="0.4"/><path d="M1378.41,52.09 A133.4,133.4 0 0 1 1408.52,38.09 L1424.78,88.74 A80.2,80.2 0 0 0 1406.68,97.16 Z" fill="#FFD966" stroke="#FFD966" stroke-width="0.4"/><path d="M1408.52,38.09 A133.4,133.4 0 0 1 1441.39,31.93 L1444.54,85.04 A80.2,80.2 0 0 0 1424.78,88.74 Z" fill="#ED7D31" stroke="#ED7D31" stroke-width="0.4"/><path d="M1441.39,31.93 A133.4,133.4 0 0 1 1449.30,31.70 L1449.30,84.90 A80.2,80.2 0 0 0 1444.54,85.04 Z" fill="#C00000" stroke="#C00000" stroke-width="0.4"/>
<path d="M1449.30,325.00 A133.5,133.5 0 0 1 1513.21,341.29 L1487.69,388.09 A80.2,80.2 0 0 0 1449.30,378.30 Z" fill="#5B9BD5" stroke="#5B9BD5" stroke-width="0.4"/><path d="M1513.21,341.29 A133.5,133.5 0 0 1 1577.76,422.15 L1526.47,436.66 A80.2,80.2 0 0 0 1487.69,388.09 Z" fill="#A9D18E" stroke="#A9D18E" stroke-width="0.4"/><path d="M1577.76,422.15 A133.5,133.5 0 0 1 1576.69,498.42 L1525.83,482.48 A80.2,80.2 0 0 0 1526.47,436.66 Z" fill="#FFE699" stroke="#FFE699" stroke-width="0.4"/><path d="M1576.69,498.42 A133.5,133.5 0 0 1 1383.56,574.69 L1409.81,528.30 A80.2,80.2 0 0 0 1525.83,482.48 Z" fill="#ED7D31" stroke="#ED7D31" stroke-width="0.4"/><path d="M1383.56,574.69 A133.5,133.5 0 0 1 1449.30,325.00 L1449.30,378.30 A80.2,80.2 0 0 0 1409.81,528.30 Z" fill="#C00000" stroke="#C00000" stroke-width="0.4"/>
<text x="1282.7" y="70.3" font-size="40">(b)</text>
<text x="1283.5" y="361.8" font-size="40">(c)</text>
<text x="1282.7" y="948.5" font-size="40">(d)</text>
<text x="1447.5" y="152.7" font-size="45.5" font-style="italic" text-anchor="middle">2693</text>
<text x="1447.5" y="209" font-size="45.5" font-style="italic" text-anchor="middle">Lakes</text>
<text x="1448.8" y="451.5" font-size="45.5" font-style="italic" text-anchor="middle">81414</text>
<text x="1448.8" y="508" font-size="45.5" font-style="italic" text-anchor="middle">km<tspan font-size="30.5" dy="-16.5">2</tspan></text>
<text transform="translate(1642.2,169.7) rotate(-90)" font-size="36.5" text-anchor="middle">Lake number</text>
<text transform="translate(1642.2,467) rotate(-90)" font-size="36.5" text-anchor="middle">Lake area</text>
<text transform="translate(1647,1065.5) rotate(-90)" font-size="36.5" text-anchor="middle">Lake number</text>
<rect x="1350.6" y="625.5" width="54.1" height="32.7" fill="#5B9BD5"/>
<text x="1425.8" y="655.3" font-size="36">1-10 km<tspan font-size="24" dy="-10.4">2</tspan></text>
<rect x="1350.6" y="673.2" width="54.1" height="32.7" fill="#A9D18E"/>
<text x="1425.8" y="702.0" font-size="36">10-50 km<tspan font-size="24" dy="-10.4">2</tspan></text>
<rect x="1350.6" y="722.4" width="54.1" height="32.7" fill="#FFE699"/>
<text x="1425.8" y="751.0" font-size="36">50-100 km<tspan font-size="24" dy="-10.4">2</tspan></text>
<rect x="1350.6" y="770.9" width="54.1" height="32.7" fill="#ED7D31"/>
<text x="1425.8" y="800.5" font-size="36">100-500 km<tspan font-size="24" dy="-10.4">2</tspan></text>
<rect x="1350.6" y="819.4" width="54.1" height="32.7" fill="#C00000"/>
<text x="1425.8" y="848.6" font-size="36">&gt;500 km<tspan font-size="24" dy="-10.4">2</tspan></text>
<rect x="1330" y="888.5" width="21.2" height="21.3" rx="1.5" fill="#0A5AE6"/>
<text x="1358.6" y="909.8" font-size="36">Train</text>
<rect x="1454.3" y="889.8" width="19.9" height="18.7" rx="1" fill="#FFD88A" stroke="#FFC000" stroke-width="2.6"/>
<text x="1482.7" y="909.8" font-size="36">Valid</text>
<rect x="1307" y="1199.4" width="25.0" height="9.6" rx="1.5" fill="#0A5AE6"/>
<rect x="1335.1999999999998" y="1059.1999999999998" width="22.8" height="149.8" rx="1" fill="#FFD88A" stroke="#FFC000" stroke-width="3.2"/>
<rect x="1367" y="1202.5" width="24.8" height="6.5" rx="1.5" fill="#0A5AE6"/>
<rect x="1395.8" y="1087.1" width="22.3" height="121.9" rx="1" fill="#FFD88A" stroke="#FFC000" stroke-width="3.2"/>
<rect x="1427.5" y="1131.5" width="24.5" height="77.5" rx="1.5" fill="#0A5AE6"/>
<rect x="1456.0" y="941.6" width="22.2" height="267.4" rx="1" fill="#FFD88A" stroke="#FFC000" stroke-width="3.2"/>
<rect x="1487" y="1174.7" width="24.8" height="34.3" rx="1.5" fill="#0A5AE6"/>
<rect x="1515.8" y="1090.1999999999998" width="22.3" height="118.8" rx="1" fill="#FFD88A" stroke="#FFC000" stroke-width="3.2"/>
<path d="M1302.8,1207.4 L1554.2,1207.4 M1543.5,929.6 L1543.5,1216.4 M1543.5,929.6 L1554.2,929.6 M1543.5,1021.2 L1554.2,1021.2 M1543.5,1114.5 L1554.2,1114.5 M1302.8,1207.4 L1302.8,1216.4 M1362.7,1207.4 L1362.7,1216.4 M1422.8,1207.4 L1422.8,1216.4 M1482.7,1207.4 L1482.7,1216.4" stroke="#000" stroke-width="1.6" fill="none"/>
<text x="1576" y="940" font-size="36">90</text>
<text x="1576" y="1032.8" font-size="36">60</text>
<text x="1576" y="1126" font-size="36">30</text>
<text x="1576" y="1218" font-size="36">0</text>
<text transform="translate(1343.2,1244.6) rotate(-45)" font-size="32.5" text-anchor="end">10-50</text>
<text transform="translate(1402.3,1244.6) rotate(-45)" font-size="32.5" text-anchor="end">50-100</text>
<text transform="translate(1462.3,1244.6) rotate(-45)" font-size="32.5" text-anchor="end">100-500</text>
<text transform="translate(1522.3,1244.6) rotate(-45)" font-size="32.5" text-anchor="end">&gt;500</text>
<text x="1317.9" y="1347" font-size="36">Lake Area / km<tspan font-size="24" dy="-10.4">2</tspan></text>
</svg>
</body></html>
